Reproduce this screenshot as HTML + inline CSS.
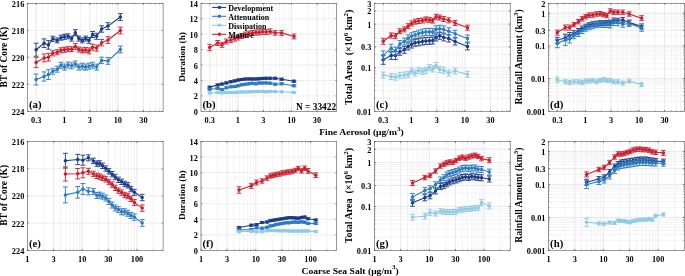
<!DOCTYPE html>
<html><head><meta charset="utf-8"><style>html,body{margin:0;padding:0;background:#fff;}svg{display:block;will-change:transform;}</style></head><body>
<svg width="685" height="276" viewBox="0 0 685 276">
<rect width="685" height="276" fill="#fff"/>
<line x1="36.20" y1="3.3" x2="36.20" y2="111.35" stroke="#ececec" stroke-width="0.6"/>
<line x1="42.90" y1="3.3" x2="42.90" y2="111.35" stroke="#ececec" stroke-width="0.6"/>
<line x1="48.09" y1="3.3" x2="48.09" y2="111.35" stroke="#ececec" stroke-width="0.6"/>
<line x1="52.34" y1="3.3" x2="52.34" y2="111.35" stroke="#ececec" stroke-width="0.6"/>
<line x1="55.92" y1="3.3" x2="55.92" y2="111.35" stroke="#ececec" stroke-width="0.6"/>
<line x1="59.03" y1="3.3" x2="59.03" y2="111.35" stroke="#ececec" stroke-width="0.6"/>
<line x1="61.77" y1="3.3" x2="61.77" y2="111.35" stroke="#ececec" stroke-width="0.6"/>
<line x1="64.23" y1="3.3" x2="64.23" y2="111.35" stroke="#ececec" stroke-width="0.6"/>
<line x1="80.36" y1="3.3" x2="80.36" y2="111.35" stroke="#ececec" stroke-width="0.6"/>
<line x1="89.80" y1="3.3" x2="89.80" y2="111.35" stroke="#ececec" stroke-width="0.6"/>
<line x1="96.50" y1="3.3" x2="96.50" y2="111.35" stroke="#ececec" stroke-width="0.6"/>
<line x1="101.69" y1="3.3" x2="101.69" y2="111.35" stroke="#ececec" stroke-width="0.6"/>
<line x1="105.94" y1="3.3" x2="105.94" y2="111.35" stroke="#ececec" stroke-width="0.6"/>
<line x1="109.52" y1="3.3" x2="109.52" y2="111.35" stroke="#ececec" stroke-width="0.6"/>
<line x1="112.63" y1="3.3" x2="112.63" y2="111.35" stroke="#ececec" stroke-width="0.6"/>
<line x1="115.37" y1="3.3" x2="115.37" y2="111.35" stroke="#ececec" stroke-width="0.6"/>
<line x1="117.83" y1="3.3" x2="117.83" y2="111.35" stroke="#ececec" stroke-width="0.6"/>
<line x1="133.96" y1="3.3" x2="133.96" y2="111.35" stroke="#ececec" stroke-width="0.6"/>
<line x1="143.40" y1="3.3" x2="143.40" y2="111.35" stroke="#ececec" stroke-width="0.6"/>
<line x1="150.10" y1="3.3" x2="150.10" y2="111.35" stroke="#ececec" stroke-width="0.6"/>
<line x1="155.29" y1="3.3" x2="155.29" y2="111.35" stroke="#ececec" stroke-width="0.6"/>
<line x1="159.54" y1="3.3" x2="159.54" y2="111.35" stroke="#ececec" stroke-width="0.6"/>
<line x1="36.20" y1="3.3" x2="36.20" y2="111.35" stroke="#e3e3e3" stroke-width="0.6"/>
<line x1="64.23" y1="3.3" x2="64.23" y2="111.35" stroke="#e3e3e3" stroke-width="0.6"/>
<line x1="89.80" y1="3.3" x2="89.80" y2="111.35" stroke="#e3e3e3" stroke-width="0.6"/>
<line x1="117.83" y1="3.3" x2="117.83" y2="111.35" stroke="#e3e3e3" stroke-width="0.6"/>
<line x1="143.40" y1="3.3" x2="143.40" y2="111.35" stroke="#e3e3e3" stroke-width="0.6"/>
<line x1="27.4" y1="30.31" x2="163.1" y2="30.31" stroke="#e3e3e3" stroke-width="0.6"/>
<line x1="27.4" y1="57.32" x2="163.1" y2="57.32" stroke="#e3e3e3" stroke-width="0.6"/>
<line x1="27.4" y1="84.34" x2="163.1" y2="84.34" stroke="#e3e3e3" stroke-width="0.6"/>
<rect x="27.4" y="3.3" width="135.70" height="108.05" fill="none" stroke="#4a4a4a" stroke-width="0.55"/>
<line x1="36.20" y1="111.35" x2="36.20" y2="110.44999999999999" stroke="#4a4a4a" stroke-width="0.5"/>
<line x1="36.20" y1="3.3" x2="36.20" y2="4.2" stroke="#4a4a4a" stroke-width="0.5"/>
<line x1="42.90" y1="111.35" x2="42.90" y2="110.44999999999999" stroke="#4a4a4a" stroke-width="0.5"/>
<line x1="42.90" y1="3.3" x2="42.90" y2="4.2" stroke="#4a4a4a" stroke-width="0.5"/>
<line x1="48.09" y1="111.35" x2="48.09" y2="110.44999999999999" stroke="#4a4a4a" stroke-width="0.5"/>
<line x1="48.09" y1="3.3" x2="48.09" y2="4.2" stroke="#4a4a4a" stroke-width="0.5"/>
<line x1="52.34" y1="111.35" x2="52.34" y2="110.44999999999999" stroke="#4a4a4a" stroke-width="0.5"/>
<line x1="52.34" y1="3.3" x2="52.34" y2="4.2" stroke="#4a4a4a" stroke-width="0.5"/>
<line x1="55.92" y1="111.35" x2="55.92" y2="110.44999999999999" stroke="#4a4a4a" stroke-width="0.5"/>
<line x1="55.92" y1="3.3" x2="55.92" y2="4.2" stroke="#4a4a4a" stroke-width="0.5"/>
<line x1="59.03" y1="111.35" x2="59.03" y2="110.44999999999999" stroke="#4a4a4a" stroke-width="0.5"/>
<line x1="59.03" y1="3.3" x2="59.03" y2="4.2" stroke="#4a4a4a" stroke-width="0.5"/>
<line x1="61.77" y1="111.35" x2="61.77" y2="110.44999999999999" stroke="#4a4a4a" stroke-width="0.5"/>
<line x1="61.77" y1="3.3" x2="61.77" y2="4.2" stroke="#4a4a4a" stroke-width="0.5"/>
<line x1="64.23" y1="111.35" x2="64.23" y2="110.44999999999999" stroke="#4a4a4a" stroke-width="0.5"/>
<line x1="64.23" y1="3.3" x2="64.23" y2="4.2" stroke="#4a4a4a" stroke-width="0.5"/>
<line x1="80.36" y1="111.35" x2="80.36" y2="110.44999999999999" stroke="#4a4a4a" stroke-width="0.5"/>
<line x1="80.36" y1="3.3" x2="80.36" y2="4.2" stroke="#4a4a4a" stroke-width="0.5"/>
<line x1="89.80" y1="111.35" x2="89.80" y2="110.44999999999999" stroke="#4a4a4a" stroke-width="0.5"/>
<line x1="89.80" y1="3.3" x2="89.80" y2="4.2" stroke="#4a4a4a" stroke-width="0.5"/>
<line x1="96.50" y1="111.35" x2="96.50" y2="110.44999999999999" stroke="#4a4a4a" stroke-width="0.5"/>
<line x1="96.50" y1="3.3" x2="96.50" y2="4.2" stroke="#4a4a4a" stroke-width="0.5"/>
<line x1="101.69" y1="111.35" x2="101.69" y2="110.44999999999999" stroke="#4a4a4a" stroke-width="0.5"/>
<line x1="101.69" y1="3.3" x2="101.69" y2="4.2" stroke="#4a4a4a" stroke-width="0.5"/>
<line x1="105.94" y1="111.35" x2="105.94" y2="110.44999999999999" stroke="#4a4a4a" stroke-width="0.5"/>
<line x1="105.94" y1="3.3" x2="105.94" y2="4.2" stroke="#4a4a4a" stroke-width="0.5"/>
<line x1="109.52" y1="111.35" x2="109.52" y2="110.44999999999999" stroke="#4a4a4a" stroke-width="0.5"/>
<line x1="109.52" y1="3.3" x2="109.52" y2="4.2" stroke="#4a4a4a" stroke-width="0.5"/>
<line x1="112.63" y1="111.35" x2="112.63" y2="110.44999999999999" stroke="#4a4a4a" stroke-width="0.5"/>
<line x1="112.63" y1="3.3" x2="112.63" y2="4.2" stroke="#4a4a4a" stroke-width="0.5"/>
<line x1="115.37" y1="111.35" x2="115.37" y2="110.44999999999999" stroke="#4a4a4a" stroke-width="0.5"/>
<line x1="115.37" y1="3.3" x2="115.37" y2="4.2" stroke="#4a4a4a" stroke-width="0.5"/>
<line x1="117.83" y1="111.35" x2="117.83" y2="110.44999999999999" stroke="#4a4a4a" stroke-width="0.5"/>
<line x1="117.83" y1="3.3" x2="117.83" y2="4.2" stroke="#4a4a4a" stroke-width="0.5"/>
<line x1="133.96" y1="111.35" x2="133.96" y2="110.44999999999999" stroke="#4a4a4a" stroke-width="0.5"/>
<line x1="133.96" y1="3.3" x2="133.96" y2="4.2" stroke="#4a4a4a" stroke-width="0.5"/>
<line x1="143.40" y1="111.35" x2="143.40" y2="110.44999999999999" stroke="#4a4a4a" stroke-width="0.5"/>
<line x1="143.40" y1="3.3" x2="143.40" y2="4.2" stroke="#4a4a4a" stroke-width="0.5"/>
<line x1="150.10" y1="111.35" x2="150.10" y2="110.44999999999999" stroke="#4a4a4a" stroke-width="0.5"/>
<line x1="150.10" y1="3.3" x2="150.10" y2="4.2" stroke="#4a4a4a" stroke-width="0.5"/>
<line x1="155.29" y1="111.35" x2="155.29" y2="110.44999999999999" stroke="#4a4a4a" stroke-width="0.5"/>
<line x1="155.29" y1="3.3" x2="155.29" y2="4.2" stroke="#4a4a4a" stroke-width="0.5"/>
<line x1="159.54" y1="111.35" x2="159.54" y2="110.44999999999999" stroke="#4a4a4a" stroke-width="0.5"/>
<line x1="159.54" y1="3.3" x2="159.54" y2="4.2" stroke="#4a4a4a" stroke-width="0.5"/>
<line x1="36.20" y1="111.35" x2="36.20" y2="109.94999999999999" stroke="#4a4a4a" stroke-width="0.6"/>
<line x1="36.20" y1="3.3" x2="36.20" y2="4.699999999999999" stroke="#4a4a4a" stroke-width="0.6"/>
<line x1="64.23" y1="111.35" x2="64.23" y2="109.94999999999999" stroke="#4a4a4a" stroke-width="0.6"/>
<line x1="64.23" y1="3.3" x2="64.23" y2="4.699999999999999" stroke="#4a4a4a" stroke-width="0.6"/>
<line x1="89.80" y1="111.35" x2="89.80" y2="109.94999999999999" stroke="#4a4a4a" stroke-width="0.6"/>
<line x1="89.80" y1="3.3" x2="89.80" y2="4.699999999999999" stroke="#4a4a4a" stroke-width="0.6"/>
<line x1="117.83" y1="111.35" x2="117.83" y2="109.94999999999999" stroke="#4a4a4a" stroke-width="0.6"/>
<line x1="117.83" y1="3.3" x2="117.83" y2="4.699999999999999" stroke="#4a4a4a" stroke-width="0.6"/>
<line x1="143.40" y1="111.35" x2="143.40" y2="109.94999999999999" stroke="#4a4a4a" stroke-width="0.6"/>
<line x1="143.40" y1="3.3" x2="143.40" y2="4.699999999999999" stroke="#4a4a4a" stroke-width="0.6"/>
<line x1="27.4" y1="3.30" x2="28.799999999999997" y2="3.30" stroke="#4a4a4a" stroke-width="0.6"/>
<line x1="163.1" y1="3.30" x2="161.7" y2="3.30" stroke="#4a4a4a" stroke-width="0.6"/>
<line x1="27.4" y1="30.31" x2="28.799999999999997" y2="30.31" stroke="#4a4a4a" stroke-width="0.6"/>
<line x1="163.1" y1="30.31" x2="161.7" y2="30.31" stroke="#4a4a4a" stroke-width="0.6"/>
<line x1="27.4" y1="57.32" x2="28.799999999999997" y2="57.32" stroke="#4a4a4a" stroke-width="0.6"/>
<line x1="163.1" y1="57.32" x2="161.7" y2="57.32" stroke="#4a4a4a" stroke-width="0.6"/>
<line x1="27.4" y1="84.34" x2="28.799999999999997" y2="84.34" stroke="#4a4a4a" stroke-width="0.6"/>
<line x1="163.1" y1="84.34" x2="161.7" y2="84.34" stroke="#4a4a4a" stroke-width="0.6"/>
<line x1="27.4" y1="111.35" x2="28.799999999999997" y2="111.35" stroke="#4a4a4a" stroke-width="0.6"/>
<line x1="163.1" y1="111.35" x2="161.7" y2="111.35" stroke="#4a4a4a" stroke-width="0.6"/>
<text x="36.20" y="122.75" font-size="8.3" text-anchor="middle" font-family="Liberation Serif" font-weight="bold">0.3</text>
<text x="64.23" y="122.75" font-size="8.3" text-anchor="middle" font-family="Liberation Serif" font-weight="bold">1</text>
<text x="89.80" y="122.75" font-size="8.3" text-anchor="middle" font-family="Liberation Serif" font-weight="bold">3</text>
<text x="117.83" y="122.75" font-size="8.3" text-anchor="middle" font-family="Liberation Serif" font-weight="bold">10</text>
<text x="143.40" y="122.75" font-size="8.3" text-anchor="middle" font-family="Liberation Serif" font-weight="bold">30</text>
<text x="24.30" y="6.80" font-size="8.3" text-anchor="end" font-family="Liberation Serif" font-weight="bold">216</text>
<text x="24.30" y="33.81" font-size="8.3" text-anchor="end" font-family="Liberation Serif" font-weight="bold">218</text>
<text x="24.30" y="60.82" font-size="8.3" text-anchor="end" font-family="Liberation Serif" font-weight="bold">220</text>
<text x="24.30" y="87.84" font-size="8.3" text-anchor="end" font-family="Liberation Serif" font-weight="bold">222</text>
<text x="24.30" y="114.85" font-size="8.3" text-anchor="end" font-family="Liberation Serif" font-weight="bold">224</text>
<text x="28.90" y="107.95" font-size="10.8" font-family="Liberation Serif" font-weight="bold">(a)</text>
<line x1="209.80" y1="3.3" x2="209.80" y2="111.35" stroke="#ececec" stroke-width="0.6"/>
<line x1="216.50" y1="3.3" x2="216.50" y2="111.35" stroke="#ececec" stroke-width="0.6"/>
<line x1="221.69" y1="3.3" x2="221.69" y2="111.35" stroke="#ececec" stroke-width="0.6"/>
<line x1="225.94" y1="3.3" x2="225.94" y2="111.35" stroke="#ececec" stroke-width="0.6"/>
<line x1="229.52" y1="3.3" x2="229.52" y2="111.35" stroke="#ececec" stroke-width="0.6"/>
<line x1="232.63" y1="3.3" x2="232.63" y2="111.35" stroke="#ececec" stroke-width="0.6"/>
<line x1="235.37" y1="3.3" x2="235.37" y2="111.35" stroke="#ececec" stroke-width="0.6"/>
<line x1="237.83" y1="3.3" x2="237.83" y2="111.35" stroke="#ececec" stroke-width="0.6"/>
<line x1="253.96" y1="3.3" x2="253.96" y2="111.35" stroke="#ececec" stroke-width="0.6"/>
<line x1="263.40" y1="3.3" x2="263.40" y2="111.35" stroke="#ececec" stroke-width="0.6"/>
<line x1="270.10" y1="3.3" x2="270.10" y2="111.35" stroke="#ececec" stroke-width="0.6"/>
<line x1="275.29" y1="3.3" x2="275.29" y2="111.35" stroke="#ececec" stroke-width="0.6"/>
<line x1="279.54" y1="3.3" x2="279.54" y2="111.35" stroke="#ececec" stroke-width="0.6"/>
<line x1="283.12" y1="3.3" x2="283.12" y2="111.35" stroke="#ececec" stroke-width="0.6"/>
<line x1="286.23" y1="3.3" x2="286.23" y2="111.35" stroke="#ececec" stroke-width="0.6"/>
<line x1="288.97" y1="3.3" x2="288.97" y2="111.35" stroke="#ececec" stroke-width="0.6"/>
<line x1="291.43" y1="3.3" x2="291.43" y2="111.35" stroke="#ececec" stroke-width="0.6"/>
<line x1="307.56" y1="3.3" x2="307.56" y2="111.35" stroke="#ececec" stroke-width="0.6"/>
<line x1="317.00" y1="3.3" x2="317.00" y2="111.35" stroke="#ececec" stroke-width="0.6"/>
<line x1="323.70" y1="3.3" x2="323.70" y2="111.35" stroke="#ececec" stroke-width="0.6"/>
<line x1="328.89" y1="3.3" x2="328.89" y2="111.35" stroke="#ececec" stroke-width="0.6"/>
<line x1="333.14" y1="3.3" x2="333.14" y2="111.35" stroke="#ececec" stroke-width="0.6"/>
<line x1="209.80" y1="3.3" x2="209.80" y2="111.35" stroke="#e3e3e3" stroke-width="0.6"/>
<line x1="237.83" y1="3.3" x2="237.83" y2="111.35" stroke="#e3e3e3" stroke-width="0.6"/>
<line x1="263.40" y1="3.3" x2="263.40" y2="111.35" stroke="#e3e3e3" stroke-width="0.6"/>
<line x1="291.43" y1="3.3" x2="291.43" y2="111.35" stroke="#e3e3e3" stroke-width="0.6"/>
<line x1="317.00" y1="3.3" x2="317.00" y2="111.35" stroke="#e3e3e3" stroke-width="0.6"/>
<line x1="201.0" y1="95.91" x2="336.7" y2="95.91" stroke="#e3e3e3" stroke-width="0.6"/>
<line x1="201.0" y1="80.48" x2="336.7" y2="80.48" stroke="#e3e3e3" stroke-width="0.6"/>
<line x1="201.0" y1="65.04" x2="336.7" y2="65.04" stroke="#e3e3e3" stroke-width="0.6"/>
<line x1="201.0" y1="49.61" x2="336.7" y2="49.61" stroke="#e3e3e3" stroke-width="0.6"/>
<line x1="201.0" y1="34.17" x2="336.7" y2="34.17" stroke="#e3e3e3" stroke-width="0.6"/>
<line x1="201.0" y1="18.74" x2="336.7" y2="18.74" stroke="#e3e3e3" stroke-width="0.6"/>
<rect x="201.0" y="3.3" width="135.70" height="108.05" fill="none" stroke="#4a4a4a" stroke-width="0.55"/>
<line x1="209.80" y1="111.35" x2="209.80" y2="110.44999999999999" stroke="#4a4a4a" stroke-width="0.5"/>
<line x1="209.80" y1="3.3" x2="209.80" y2="4.2" stroke="#4a4a4a" stroke-width="0.5"/>
<line x1="216.50" y1="111.35" x2="216.50" y2="110.44999999999999" stroke="#4a4a4a" stroke-width="0.5"/>
<line x1="216.50" y1="3.3" x2="216.50" y2="4.2" stroke="#4a4a4a" stroke-width="0.5"/>
<line x1="221.69" y1="111.35" x2="221.69" y2="110.44999999999999" stroke="#4a4a4a" stroke-width="0.5"/>
<line x1="221.69" y1="3.3" x2="221.69" y2="4.2" stroke="#4a4a4a" stroke-width="0.5"/>
<line x1="225.94" y1="111.35" x2="225.94" y2="110.44999999999999" stroke="#4a4a4a" stroke-width="0.5"/>
<line x1="225.94" y1="3.3" x2="225.94" y2="4.2" stroke="#4a4a4a" stroke-width="0.5"/>
<line x1="229.52" y1="111.35" x2="229.52" y2="110.44999999999999" stroke="#4a4a4a" stroke-width="0.5"/>
<line x1="229.52" y1="3.3" x2="229.52" y2="4.2" stroke="#4a4a4a" stroke-width="0.5"/>
<line x1="232.63" y1="111.35" x2="232.63" y2="110.44999999999999" stroke="#4a4a4a" stroke-width="0.5"/>
<line x1="232.63" y1="3.3" x2="232.63" y2="4.2" stroke="#4a4a4a" stroke-width="0.5"/>
<line x1="235.37" y1="111.35" x2="235.37" y2="110.44999999999999" stroke="#4a4a4a" stroke-width="0.5"/>
<line x1="235.37" y1="3.3" x2="235.37" y2="4.2" stroke="#4a4a4a" stroke-width="0.5"/>
<line x1="237.83" y1="111.35" x2="237.83" y2="110.44999999999999" stroke="#4a4a4a" stroke-width="0.5"/>
<line x1="237.83" y1="3.3" x2="237.83" y2="4.2" stroke="#4a4a4a" stroke-width="0.5"/>
<line x1="253.96" y1="111.35" x2="253.96" y2="110.44999999999999" stroke="#4a4a4a" stroke-width="0.5"/>
<line x1="253.96" y1="3.3" x2="253.96" y2="4.2" stroke="#4a4a4a" stroke-width="0.5"/>
<line x1="263.40" y1="111.35" x2="263.40" y2="110.44999999999999" stroke="#4a4a4a" stroke-width="0.5"/>
<line x1="263.40" y1="3.3" x2="263.40" y2="4.2" stroke="#4a4a4a" stroke-width="0.5"/>
<line x1="270.10" y1="111.35" x2="270.10" y2="110.44999999999999" stroke="#4a4a4a" stroke-width="0.5"/>
<line x1="270.10" y1="3.3" x2="270.10" y2="4.2" stroke="#4a4a4a" stroke-width="0.5"/>
<line x1="275.29" y1="111.35" x2="275.29" y2="110.44999999999999" stroke="#4a4a4a" stroke-width="0.5"/>
<line x1="275.29" y1="3.3" x2="275.29" y2="4.2" stroke="#4a4a4a" stroke-width="0.5"/>
<line x1="279.54" y1="111.35" x2="279.54" y2="110.44999999999999" stroke="#4a4a4a" stroke-width="0.5"/>
<line x1="279.54" y1="3.3" x2="279.54" y2="4.2" stroke="#4a4a4a" stroke-width="0.5"/>
<line x1="283.12" y1="111.35" x2="283.12" y2="110.44999999999999" stroke="#4a4a4a" stroke-width="0.5"/>
<line x1="283.12" y1="3.3" x2="283.12" y2="4.2" stroke="#4a4a4a" stroke-width="0.5"/>
<line x1="286.23" y1="111.35" x2="286.23" y2="110.44999999999999" stroke="#4a4a4a" stroke-width="0.5"/>
<line x1="286.23" y1="3.3" x2="286.23" y2="4.2" stroke="#4a4a4a" stroke-width="0.5"/>
<line x1="288.97" y1="111.35" x2="288.97" y2="110.44999999999999" stroke="#4a4a4a" stroke-width="0.5"/>
<line x1="288.97" y1="3.3" x2="288.97" y2="4.2" stroke="#4a4a4a" stroke-width="0.5"/>
<line x1="291.43" y1="111.35" x2="291.43" y2="110.44999999999999" stroke="#4a4a4a" stroke-width="0.5"/>
<line x1="291.43" y1="3.3" x2="291.43" y2="4.2" stroke="#4a4a4a" stroke-width="0.5"/>
<line x1="307.56" y1="111.35" x2="307.56" y2="110.44999999999999" stroke="#4a4a4a" stroke-width="0.5"/>
<line x1="307.56" y1="3.3" x2="307.56" y2="4.2" stroke="#4a4a4a" stroke-width="0.5"/>
<line x1="317.00" y1="111.35" x2="317.00" y2="110.44999999999999" stroke="#4a4a4a" stroke-width="0.5"/>
<line x1="317.00" y1="3.3" x2="317.00" y2="4.2" stroke="#4a4a4a" stroke-width="0.5"/>
<line x1="323.70" y1="111.35" x2="323.70" y2="110.44999999999999" stroke="#4a4a4a" stroke-width="0.5"/>
<line x1="323.70" y1="3.3" x2="323.70" y2="4.2" stroke="#4a4a4a" stroke-width="0.5"/>
<line x1="328.89" y1="111.35" x2="328.89" y2="110.44999999999999" stroke="#4a4a4a" stroke-width="0.5"/>
<line x1="328.89" y1="3.3" x2="328.89" y2="4.2" stroke="#4a4a4a" stroke-width="0.5"/>
<line x1="333.14" y1="111.35" x2="333.14" y2="110.44999999999999" stroke="#4a4a4a" stroke-width="0.5"/>
<line x1="333.14" y1="3.3" x2="333.14" y2="4.2" stroke="#4a4a4a" stroke-width="0.5"/>
<line x1="209.80" y1="111.35" x2="209.80" y2="109.94999999999999" stroke="#4a4a4a" stroke-width="0.6"/>
<line x1="209.80" y1="3.3" x2="209.80" y2="4.699999999999999" stroke="#4a4a4a" stroke-width="0.6"/>
<line x1="237.83" y1="111.35" x2="237.83" y2="109.94999999999999" stroke="#4a4a4a" stroke-width="0.6"/>
<line x1="237.83" y1="3.3" x2="237.83" y2="4.699999999999999" stroke="#4a4a4a" stroke-width="0.6"/>
<line x1="263.40" y1="111.35" x2="263.40" y2="109.94999999999999" stroke="#4a4a4a" stroke-width="0.6"/>
<line x1="263.40" y1="3.3" x2="263.40" y2="4.699999999999999" stroke="#4a4a4a" stroke-width="0.6"/>
<line x1="291.43" y1="111.35" x2="291.43" y2="109.94999999999999" stroke="#4a4a4a" stroke-width="0.6"/>
<line x1="291.43" y1="3.3" x2="291.43" y2="4.699999999999999" stroke="#4a4a4a" stroke-width="0.6"/>
<line x1="317.00" y1="111.35" x2="317.00" y2="109.94999999999999" stroke="#4a4a4a" stroke-width="0.6"/>
<line x1="317.00" y1="3.3" x2="317.00" y2="4.699999999999999" stroke="#4a4a4a" stroke-width="0.6"/>
<line x1="201.0" y1="111.35" x2="202.4" y2="111.35" stroke="#4a4a4a" stroke-width="0.6"/>
<line x1="336.7" y1="111.35" x2="335.3" y2="111.35" stroke="#4a4a4a" stroke-width="0.6"/>
<line x1="201.0" y1="95.91" x2="202.4" y2="95.91" stroke="#4a4a4a" stroke-width="0.6"/>
<line x1="336.7" y1="95.91" x2="335.3" y2="95.91" stroke="#4a4a4a" stroke-width="0.6"/>
<line x1="201.0" y1="80.48" x2="202.4" y2="80.48" stroke="#4a4a4a" stroke-width="0.6"/>
<line x1="336.7" y1="80.48" x2="335.3" y2="80.48" stroke="#4a4a4a" stroke-width="0.6"/>
<line x1="201.0" y1="65.04" x2="202.4" y2="65.04" stroke="#4a4a4a" stroke-width="0.6"/>
<line x1="336.7" y1="65.04" x2="335.3" y2="65.04" stroke="#4a4a4a" stroke-width="0.6"/>
<line x1="201.0" y1="49.61" x2="202.4" y2="49.61" stroke="#4a4a4a" stroke-width="0.6"/>
<line x1="336.7" y1="49.61" x2="335.3" y2="49.61" stroke="#4a4a4a" stroke-width="0.6"/>
<line x1="201.0" y1="34.17" x2="202.4" y2="34.17" stroke="#4a4a4a" stroke-width="0.6"/>
<line x1="336.7" y1="34.17" x2="335.3" y2="34.17" stroke="#4a4a4a" stroke-width="0.6"/>
<line x1="201.0" y1="18.74" x2="202.4" y2="18.74" stroke="#4a4a4a" stroke-width="0.6"/>
<line x1="336.7" y1="18.74" x2="335.3" y2="18.74" stroke="#4a4a4a" stroke-width="0.6"/>
<line x1="201.0" y1="3.30" x2="202.4" y2="3.30" stroke="#4a4a4a" stroke-width="0.6"/>
<line x1="336.7" y1="3.30" x2="335.3" y2="3.30" stroke="#4a4a4a" stroke-width="0.6"/>
<text x="209.80" y="122.75" font-size="8.3" text-anchor="middle" font-family="Liberation Serif" font-weight="bold">0.3</text>
<text x="237.83" y="122.75" font-size="8.3" text-anchor="middle" font-family="Liberation Serif" font-weight="bold">1</text>
<text x="263.40" y="122.75" font-size="8.3" text-anchor="middle" font-family="Liberation Serif" font-weight="bold">3</text>
<text x="291.43" y="122.75" font-size="8.3" text-anchor="middle" font-family="Liberation Serif" font-weight="bold">10</text>
<text x="317.00" y="122.75" font-size="8.3" text-anchor="middle" font-family="Liberation Serif" font-weight="bold">30</text>
<text x="197.90" y="114.85" font-size="8.3" text-anchor="end" font-family="Liberation Serif" font-weight="bold">0</text>
<text x="197.90" y="99.41" font-size="8.3" text-anchor="end" font-family="Liberation Serif" font-weight="bold">2</text>
<text x="197.90" y="83.98" font-size="8.3" text-anchor="end" font-family="Liberation Serif" font-weight="bold">4</text>
<text x="197.90" y="68.54" font-size="8.3" text-anchor="end" font-family="Liberation Serif" font-weight="bold">6</text>
<text x="197.90" y="53.11" font-size="8.3" text-anchor="end" font-family="Liberation Serif" font-weight="bold">8</text>
<text x="197.90" y="37.67" font-size="8.3" text-anchor="end" font-family="Liberation Serif" font-weight="bold">10</text>
<text x="197.90" y="22.24" font-size="8.3" text-anchor="end" font-family="Liberation Serif" font-weight="bold">12</text>
<text x="197.90" y="6.80" font-size="8.3" text-anchor="end" font-family="Liberation Serif" font-weight="bold">14</text>
<text x="202.50" y="107.95" font-size="10.8" font-family="Liberation Serif" font-weight="bold">(b)</text>
<line x1="383.30" y1="3.3" x2="383.30" y2="111.35" stroke="#ececec" stroke-width="0.6"/>
<line x1="390.00" y1="3.3" x2="390.00" y2="111.35" stroke="#ececec" stroke-width="0.6"/>
<line x1="395.19" y1="3.3" x2="395.19" y2="111.35" stroke="#ececec" stroke-width="0.6"/>
<line x1="399.44" y1="3.3" x2="399.44" y2="111.35" stroke="#ececec" stroke-width="0.6"/>
<line x1="403.02" y1="3.3" x2="403.02" y2="111.35" stroke="#ececec" stroke-width="0.6"/>
<line x1="406.13" y1="3.3" x2="406.13" y2="111.35" stroke="#ececec" stroke-width="0.6"/>
<line x1="408.87" y1="3.3" x2="408.87" y2="111.35" stroke="#ececec" stroke-width="0.6"/>
<line x1="411.33" y1="3.3" x2="411.33" y2="111.35" stroke="#ececec" stroke-width="0.6"/>
<line x1="427.46" y1="3.3" x2="427.46" y2="111.35" stroke="#ececec" stroke-width="0.6"/>
<line x1="436.90" y1="3.3" x2="436.90" y2="111.35" stroke="#ececec" stroke-width="0.6"/>
<line x1="443.60" y1="3.3" x2="443.60" y2="111.35" stroke="#ececec" stroke-width="0.6"/>
<line x1="448.79" y1="3.3" x2="448.79" y2="111.35" stroke="#ececec" stroke-width="0.6"/>
<line x1="453.04" y1="3.3" x2="453.04" y2="111.35" stroke="#ececec" stroke-width="0.6"/>
<line x1="456.62" y1="3.3" x2="456.62" y2="111.35" stroke="#ececec" stroke-width="0.6"/>
<line x1="459.73" y1="3.3" x2="459.73" y2="111.35" stroke="#ececec" stroke-width="0.6"/>
<line x1="462.47" y1="3.3" x2="462.47" y2="111.35" stroke="#ececec" stroke-width="0.6"/>
<line x1="464.93" y1="3.3" x2="464.93" y2="111.35" stroke="#ececec" stroke-width="0.6"/>
<line x1="481.06" y1="3.3" x2="481.06" y2="111.35" stroke="#ececec" stroke-width="0.6"/>
<line x1="490.50" y1="3.3" x2="490.50" y2="111.35" stroke="#ececec" stroke-width="0.6"/>
<line x1="497.20" y1="3.3" x2="497.20" y2="111.35" stroke="#ececec" stroke-width="0.6"/>
<line x1="502.39" y1="3.3" x2="502.39" y2="111.35" stroke="#ececec" stroke-width="0.6"/>
<line x1="506.64" y1="3.3" x2="506.64" y2="111.35" stroke="#ececec" stroke-width="0.6"/>
<line x1="383.30" y1="3.3" x2="383.30" y2="111.35" stroke="#e3e3e3" stroke-width="0.6"/>
<line x1="411.33" y1="3.3" x2="411.33" y2="111.35" stroke="#e3e3e3" stroke-width="0.6"/>
<line x1="436.90" y1="3.3" x2="436.90" y2="111.35" stroke="#e3e3e3" stroke-width="0.6"/>
<line x1="464.93" y1="3.3" x2="464.93" y2="111.35" stroke="#e3e3e3" stroke-width="0.6"/>
<line x1="490.50" y1="3.3" x2="490.50" y2="111.35" stroke="#e3e3e3" stroke-width="0.6"/>
<line x1="374.5" y1="98.22" x2="510.2" y2="98.22" stroke="#ececec" stroke-width="0.6"/>
<line x1="374.5" y1="90.54" x2="510.2" y2="90.54" stroke="#ececec" stroke-width="0.6"/>
<line x1="374.5" y1="85.09" x2="510.2" y2="85.09" stroke="#ececec" stroke-width="0.6"/>
<line x1="374.5" y1="80.86" x2="510.2" y2="80.86" stroke="#ececec" stroke-width="0.6"/>
<line x1="374.5" y1="77.41" x2="510.2" y2="77.41" stroke="#ececec" stroke-width="0.6"/>
<line x1="374.5" y1="74.49" x2="510.2" y2="74.49" stroke="#ececec" stroke-width="0.6"/>
<line x1="374.5" y1="71.96" x2="510.2" y2="71.96" stroke="#ececec" stroke-width="0.6"/>
<line x1="374.5" y1="69.73" x2="510.2" y2="69.73" stroke="#ececec" stroke-width="0.6"/>
<line x1="374.5" y1="67.73" x2="510.2" y2="67.73" stroke="#ececec" stroke-width="0.6"/>
<line x1="374.5" y1="54.60" x2="510.2" y2="54.60" stroke="#ececec" stroke-width="0.6"/>
<line x1="374.5" y1="46.92" x2="510.2" y2="46.92" stroke="#ececec" stroke-width="0.6"/>
<line x1="374.5" y1="41.47" x2="510.2" y2="41.47" stroke="#ececec" stroke-width="0.6"/>
<line x1="374.5" y1="37.24" x2="510.2" y2="37.24" stroke="#ececec" stroke-width="0.6"/>
<line x1="374.5" y1="33.79" x2="510.2" y2="33.79" stroke="#ececec" stroke-width="0.6"/>
<line x1="374.5" y1="30.87" x2="510.2" y2="30.87" stroke="#ececec" stroke-width="0.6"/>
<line x1="374.5" y1="28.34" x2="510.2" y2="28.34" stroke="#ececec" stroke-width="0.6"/>
<line x1="374.5" y1="26.11" x2="510.2" y2="26.11" stroke="#ececec" stroke-width="0.6"/>
<line x1="374.5" y1="24.11" x2="510.2" y2="24.11" stroke="#ececec" stroke-width="0.6"/>
<line x1="374.5" y1="10.98" x2="510.2" y2="10.98" stroke="#ececec" stroke-width="0.6"/>
<line x1="374.5" y1="67.73" x2="510.2" y2="67.73" stroke="#e3e3e3" stroke-width="0.6"/>
<line x1="374.5" y1="46.92" x2="510.2" y2="46.92" stroke="#e3e3e3" stroke-width="0.6"/>
<line x1="374.5" y1="24.11" x2="510.2" y2="24.11" stroke="#e3e3e3" stroke-width="0.6"/>
<line x1="374.5" y1="10.98" x2="510.2" y2="10.98" stroke="#e3e3e3" stroke-width="0.6"/>
<rect x="374.5" y="3.3" width="135.70" height="108.05" fill="none" stroke="#4a4a4a" stroke-width="0.55"/>
<line x1="383.30" y1="111.35" x2="383.30" y2="110.44999999999999" stroke="#4a4a4a" stroke-width="0.5"/>
<line x1="383.30" y1="3.3" x2="383.30" y2="4.2" stroke="#4a4a4a" stroke-width="0.5"/>
<line x1="390.00" y1="111.35" x2="390.00" y2="110.44999999999999" stroke="#4a4a4a" stroke-width="0.5"/>
<line x1="390.00" y1="3.3" x2="390.00" y2="4.2" stroke="#4a4a4a" stroke-width="0.5"/>
<line x1="395.19" y1="111.35" x2="395.19" y2="110.44999999999999" stroke="#4a4a4a" stroke-width="0.5"/>
<line x1="395.19" y1="3.3" x2="395.19" y2="4.2" stroke="#4a4a4a" stroke-width="0.5"/>
<line x1="399.44" y1="111.35" x2="399.44" y2="110.44999999999999" stroke="#4a4a4a" stroke-width="0.5"/>
<line x1="399.44" y1="3.3" x2="399.44" y2="4.2" stroke="#4a4a4a" stroke-width="0.5"/>
<line x1="403.02" y1="111.35" x2="403.02" y2="110.44999999999999" stroke="#4a4a4a" stroke-width="0.5"/>
<line x1="403.02" y1="3.3" x2="403.02" y2="4.2" stroke="#4a4a4a" stroke-width="0.5"/>
<line x1="406.13" y1="111.35" x2="406.13" y2="110.44999999999999" stroke="#4a4a4a" stroke-width="0.5"/>
<line x1="406.13" y1="3.3" x2="406.13" y2="4.2" stroke="#4a4a4a" stroke-width="0.5"/>
<line x1="408.87" y1="111.35" x2="408.87" y2="110.44999999999999" stroke="#4a4a4a" stroke-width="0.5"/>
<line x1="408.87" y1="3.3" x2="408.87" y2="4.2" stroke="#4a4a4a" stroke-width="0.5"/>
<line x1="411.33" y1="111.35" x2="411.33" y2="110.44999999999999" stroke="#4a4a4a" stroke-width="0.5"/>
<line x1="411.33" y1="3.3" x2="411.33" y2="4.2" stroke="#4a4a4a" stroke-width="0.5"/>
<line x1="427.46" y1="111.35" x2="427.46" y2="110.44999999999999" stroke="#4a4a4a" stroke-width="0.5"/>
<line x1="427.46" y1="3.3" x2="427.46" y2="4.2" stroke="#4a4a4a" stroke-width="0.5"/>
<line x1="436.90" y1="111.35" x2="436.90" y2="110.44999999999999" stroke="#4a4a4a" stroke-width="0.5"/>
<line x1="436.90" y1="3.3" x2="436.90" y2="4.2" stroke="#4a4a4a" stroke-width="0.5"/>
<line x1="443.60" y1="111.35" x2="443.60" y2="110.44999999999999" stroke="#4a4a4a" stroke-width="0.5"/>
<line x1="443.60" y1="3.3" x2="443.60" y2="4.2" stroke="#4a4a4a" stroke-width="0.5"/>
<line x1="448.79" y1="111.35" x2="448.79" y2="110.44999999999999" stroke="#4a4a4a" stroke-width="0.5"/>
<line x1="448.79" y1="3.3" x2="448.79" y2="4.2" stroke="#4a4a4a" stroke-width="0.5"/>
<line x1="453.04" y1="111.35" x2="453.04" y2="110.44999999999999" stroke="#4a4a4a" stroke-width="0.5"/>
<line x1="453.04" y1="3.3" x2="453.04" y2="4.2" stroke="#4a4a4a" stroke-width="0.5"/>
<line x1="456.62" y1="111.35" x2="456.62" y2="110.44999999999999" stroke="#4a4a4a" stroke-width="0.5"/>
<line x1="456.62" y1="3.3" x2="456.62" y2="4.2" stroke="#4a4a4a" stroke-width="0.5"/>
<line x1="459.73" y1="111.35" x2="459.73" y2="110.44999999999999" stroke="#4a4a4a" stroke-width="0.5"/>
<line x1="459.73" y1="3.3" x2="459.73" y2="4.2" stroke="#4a4a4a" stroke-width="0.5"/>
<line x1="462.47" y1="111.35" x2="462.47" y2="110.44999999999999" stroke="#4a4a4a" stroke-width="0.5"/>
<line x1="462.47" y1="3.3" x2="462.47" y2="4.2" stroke="#4a4a4a" stroke-width="0.5"/>
<line x1="464.93" y1="111.35" x2="464.93" y2="110.44999999999999" stroke="#4a4a4a" stroke-width="0.5"/>
<line x1="464.93" y1="3.3" x2="464.93" y2="4.2" stroke="#4a4a4a" stroke-width="0.5"/>
<line x1="481.06" y1="111.35" x2="481.06" y2="110.44999999999999" stroke="#4a4a4a" stroke-width="0.5"/>
<line x1="481.06" y1="3.3" x2="481.06" y2="4.2" stroke="#4a4a4a" stroke-width="0.5"/>
<line x1="490.50" y1="111.35" x2="490.50" y2="110.44999999999999" stroke="#4a4a4a" stroke-width="0.5"/>
<line x1="490.50" y1="3.3" x2="490.50" y2="4.2" stroke="#4a4a4a" stroke-width="0.5"/>
<line x1="497.20" y1="111.35" x2="497.20" y2="110.44999999999999" stroke="#4a4a4a" stroke-width="0.5"/>
<line x1="497.20" y1="3.3" x2="497.20" y2="4.2" stroke="#4a4a4a" stroke-width="0.5"/>
<line x1="502.39" y1="111.35" x2="502.39" y2="110.44999999999999" stroke="#4a4a4a" stroke-width="0.5"/>
<line x1="502.39" y1="3.3" x2="502.39" y2="4.2" stroke="#4a4a4a" stroke-width="0.5"/>
<line x1="506.64" y1="111.35" x2="506.64" y2="110.44999999999999" stroke="#4a4a4a" stroke-width="0.5"/>
<line x1="506.64" y1="3.3" x2="506.64" y2="4.2" stroke="#4a4a4a" stroke-width="0.5"/>
<line x1="374.5" y1="98.22" x2="375.4" y2="98.22" stroke="#4a4a4a" stroke-width="0.5"/>
<line x1="510.2" y1="98.22" x2="509.3" y2="98.22" stroke="#4a4a4a" stroke-width="0.5"/>
<line x1="374.5" y1="90.54" x2="375.4" y2="90.54" stroke="#4a4a4a" stroke-width="0.5"/>
<line x1="510.2" y1="90.54" x2="509.3" y2="90.54" stroke="#4a4a4a" stroke-width="0.5"/>
<line x1="374.5" y1="85.09" x2="375.4" y2="85.09" stroke="#4a4a4a" stroke-width="0.5"/>
<line x1="510.2" y1="85.09" x2="509.3" y2="85.09" stroke="#4a4a4a" stroke-width="0.5"/>
<line x1="374.5" y1="80.86" x2="375.4" y2="80.86" stroke="#4a4a4a" stroke-width="0.5"/>
<line x1="510.2" y1="80.86" x2="509.3" y2="80.86" stroke="#4a4a4a" stroke-width="0.5"/>
<line x1="374.5" y1="77.41" x2="375.4" y2="77.41" stroke="#4a4a4a" stroke-width="0.5"/>
<line x1="510.2" y1="77.41" x2="509.3" y2="77.41" stroke="#4a4a4a" stroke-width="0.5"/>
<line x1="374.5" y1="74.49" x2="375.4" y2="74.49" stroke="#4a4a4a" stroke-width="0.5"/>
<line x1="510.2" y1="74.49" x2="509.3" y2="74.49" stroke="#4a4a4a" stroke-width="0.5"/>
<line x1="374.5" y1="71.96" x2="375.4" y2="71.96" stroke="#4a4a4a" stroke-width="0.5"/>
<line x1="510.2" y1="71.96" x2="509.3" y2="71.96" stroke="#4a4a4a" stroke-width="0.5"/>
<line x1="374.5" y1="69.73" x2="375.4" y2="69.73" stroke="#4a4a4a" stroke-width="0.5"/>
<line x1="510.2" y1="69.73" x2="509.3" y2="69.73" stroke="#4a4a4a" stroke-width="0.5"/>
<line x1="374.5" y1="67.73" x2="375.4" y2="67.73" stroke="#4a4a4a" stroke-width="0.5"/>
<line x1="510.2" y1="67.73" x2="509.3" y2="67.73" stroke="#4a4a4a" stroke-width="0.5"/>
<line x1="374.5" y1="54.60" x2="375.4" y2="54.60" stroke="#4a4a4a" stroke-width="0.5"/>
<line x1="510.2" y1="54.60" x2="509.3" y2="54.60" stroke="#4a4a4a" stroke-width="0.5"/>
<line x1="374.5" y1="46.92" x2="375.4" y2="46.92" stroke="#4a4a4a" stroke-width="0.5"/>
<line x1="510.2" y1="46.92" x2="509.3" y2="46.92" stroke="#4a4a4a" stroke-width="0.5"/>
<line x1="374.5" y1="41.47" x2="375.4" y2="41.47" stroke="#4a4a4a" stroke-width="0.5"/>
<line x1="510.2" y1="41.47" x2="509.3" y2="41.47" stroke="#4a4a4a" stroke-width="0.5"/>
<line x1="374.5" y1="37.24" x2="375.4" y2="37.24" stroke="#4a4a4a" stroke-width="0.5"/>
<line x1="510.2" y1="37.24" x2="509.3" y2="37.24" stroke="#4a4a4a" stroke-width="0.5"/>
<line x1="374.5" y1="33.79" x2="375.4" y2="33.79" stroke="#4a4a4a" stroke-width="0.5"/>
<line x1="510.2" y1="33.79" x2="509.3" y2="33.79" stroke="#4a4a4a" stroke-width="0.5"/>
<line x1="374.5" y1="30.87" x2="375.4" y2="30.87" stroke="#4a4a4a" stroke-width="0.5"/>
<line x1="510.2" y1="30.87" x2="509.3" y2="30.87" stroke="#4a4a4a" stroke-width="0.5"/>
<line x1="374.5" y1="28.34" x2="375.4" y2="28.34" stroke="#4a4a4a" stroke-width="0.5"/>
<line x1="510.2" y1="28.34" x2="509.3" y2="28.34" stroke="#4a4a4a" stroke-width="0.5"/>
<line x1="374.5" y1="26.11" x2="375.4" y2="26.11" stroke="#4a4a4a" stroke-width="0.5"/>
<line x1="510.2" y1="26.11" x2="509.3" y2="26.11" stroke="#4a4a4a" stroke-width="0.5"/>
<line x1="374.5" y1="24.11" x2="375.4" y2="24.11" stroke="#4a4a4a" stroke-width="0.5"/>
<line x1="510.2" y1="24.11" x2="509.3" y2="24.11" stroke="#4a4a4a" stroke-width="0.5"/>
<line x1="374.5" y1="10.98" x2="375.4" y2="10.98" stroke="#4a4a4a" stroke-width="0.5"/>
<line x1="510.2" y1="10.98" x2="509.3" y2="10.98" stroke="#4a4a4a" stroke-width="0.5"/>
<line x1="383.30" y1="111.35" x2="383.30" y2="109.94999999999999" stroke="#4a4a4a" stroke-width="0.6"/>
<line x1="383.30" y1="3.3" x2="383.30" y2="4.699999999999999" stroke="#4a4a4a" stroke-width="0.6"/>
<line x1="411.33" y1="111.35" x2="411.33" y2="109.94999999999999" stroke="#4a4a4a" stroke-width="0.6"/>
<line x1="411.33" y1="3.3" x2="411.33" y2="4.699999999999999" stroke="#4a4a4a" stroke-width="0.6"/>
<line x1="436.90" y1="111.35" x2="436.90" y2="109.94999999999999" stroke="#4a4a4a" stroke-width="0.6"/>
<line x1="436.90" y1="3.3" x2="436.90" y2="4.699999999999999" stroke="#4a4a4a" stroke-width="0.6"/>
<line x1="464.93" y1="111.35" x2="464.93" y2="109.94999999999999" stroke="#4a4a4a" stroke-width="0.6"/>
<line x1="464.93" y1="3.3" x2="464.93" y2="4.699999999999999" stroke="#4a4a4a" stroke-width="0.6"/>
<line x1="490.50" y1="111.35" x2="490.50" y2="109.94999999999999" stroke="#4a4a4a" stroke-width="0.6"/>
<line x1="490.50" y1="3.3" x2="490.50" y2="4.699999999999999" stroke="#4a4a4a" stroke-width="0.6"/>
<line x1="374.5" y1="111.35" x2="375.9" y2="111.35" stroke="#4a4a4a" stroke-width="0.6"/>
<line x1="510.2" y1="111.35" x2="508.8" y2="111.35" stroke="#4a4a4a" stroke-width="0.6"/>
<line x1="374.5" y1="67.73" x2="375.9" y2="67.73" stroke="#4a4a4a" stroke-width="0.6"/>
<line x1="510.2" y1="67.73" x2="508.8" y2="67.73" stroke="#4a4a4a" stroke-width="0.6"/>
<line x1="374.5" y1="46.92" x2="375.9" y2="46.92" stroke="#4a4a4a" stroke-width="0.6"/>
<line x1="510.2" y1="46.92" x2="508.8" y2="46.92" stroke="#4a4a4a" stroke-width="0.6"/>
<line x1="374.5" y1="24.11" x2="375.9" y2="24.11" stroke="#4a4a4a" stroke-width="0.6"/>
<line x1="510.2" y1="24.11" x2="508.8" y2="24.11" stroke="#4a4a4a" stroke-width="0.6"/>
<line x1="374.5" y1="10.98" x2="375.9" y2="10.98" stroke="#4a4a4a" stroke-width="0.6"/>
<line x1="510.2" y1="10.98" x2="508.8" y2="10.98" stroke="#4a4a4a" stroke-width="0.6"/>
<line x1="374.5" y1="3.30" x2="375.9" y2="3.30" stroke="#4a4a4a" stroke-width="0.6"/>
<line x1="510.2" y1="3.30" x2="508.8" y2="3.30" stroke="#4a4a4a" stroke-width="0.6"/>
<text x="383.30" y="122.75" font-size="8.3" text-anchor="middle" font-family="Liberation Serif" font-weight="bold">0.3</text>
<text x="411.33" y="122.75" font-size="8.3" text-anchor="middle" font-family="Liberation Serif" font-weight="bold">1</text>
<text x="436.90" y="122.75" font-size="8.3" text-anchor="middle" font-family="Liberation Serif" font-weight="bold">3</text>
<text x="464.93" y="122.75" font-size="8.3" text-anchor="middle" font-family="Liberation Serif" font-weight="bold">10</text>
<text x="490.50" y="122.75" font-size="8.3" text-anchor="middle" font-family="Liberation Serif" font-weight="bold">30</text>
<text x="371.40" y="114.85" font-size="8.3" text-anchor="end" font-family="Liberation Serif" font-weight="bold">0.01</text>
<text x="371.40" y="71.23" font-size="8.3" text-anchor="end" font-family="Liberation Serif" font-weight="bold">0.1</text>
<text x="371.40" y="50.42" font-size="8.3" text-anchor="end" font-family="Liberation Serif" font-weight="bold">0.3</text>
<text x="371.40" y="27.61" font-size="8.3" text-anchor="end" font-family="Liberation Serif" font-weight="bold">1</text>
<text x="371.40" y="14.48" font-size="8.3" text-anchor="end" font-family="Liberation Serif" font-weight="bold">2</text>
<text x="371.40" y="6.80" font-size="8.3" text-anchor="end" font-family="Liberation Serif" font-weight="bold">3</text>
<text x="376.00" y="107.95" font-size="10.8" font-family="Liberation Serif" font-weight="bold">(c)</text>
<line x1="557.40" y1="3.3" x2="557.40" y2="111.35" stroke="#ececec" stroke-width="0.6"/>
<line x1="564.10" y1="3.3" x2="564.10" y2="111.35" stroke="#ececec" stroke-width="0.6"/>
<line x1="569.29" y1="3.3" x2="569.29" y2="111.35" stroke="#ececec" stroke-width="0.6"/>
<line x1="573.54" y1="3.3" x2="573.54" y2="111.35" stroke="#ececec" stroke-width="0.6"/>
<line x1="577.12" y1="3.3" x2="577.12" y2="111.35" stroke="#ececec" stroke-width="0.6"/>
<line x1="580.23" y1="3.3" x2="580.23" y2="111.35" stroke="#ececec" stroke-width="0.6"/>
<line x1="582.97" y1="3.3" x2="582.97" y2="111.35" stroke="#ececec" stroke-width="0.6"/>
<line x1="585.43" y1="3.3" x2="585.43" y2="111.35" stroke="#ececec" stroke-width="0.6"/>
<line x1="601.56" y1="3.3" x2="601.56" y2="111.35" stroke="#ececec" stroke-width="0.6"/>
<line x1="611.00" y1="3.3" x2="611.00" y2="111.35" stroke="#ececec" stroke-width="0.6"/>
<line x1="617.70" y1="3.3" x2="617.70" y2="111.35" stroke="#ececec" stroke-width="0.6"/>
<line x1="622.89" y1="3.3" x2="622.89" y2="111.35" stroke="#ececec" stroke-width="0.6"/>
<line x1="627.14" y1="3.3" x2="627.14" y2="111.35" stroke="#ececec" stroke-width="0.6"/>
<line x1="630.72" y1="3.3" x2="630.72" y2="111.35" stroke="#ececec" stroke-width="0.6"/>
<line x1="633.83" y1="3.3" x2="633.83" y2="111.35" stroke="#ececec" stroke-width="0.6"/>
<line x1="636.57" y1="3.3" x2="636.57" y2="111.35" stroke="#ececec" stroke-width="0.6"/>
<line x1="639.03" y1="3.3" x2="639.03" y2="111.35" stroke="#ececec" stroke-width="0.6"/>
<line x1="655.16" y1="3.3" x2="655.16" y2="111.35" stroke="#ececec" stroke-width="0.6"/>
<line x1="664.60" y1="3.3" x2="664.60" y2="111.35" stroke="#ececec" stroke-width="0.6"/>
<line x1="671.30" y1="3.3" x2="671.30" y2="111.35" stroke="#ececec" stroke-width="0.6"/>
<line x1="676.49" y1="3.3" x2="676.49" y2="111.35" stroke="#ececec" stroke-width="0.6"/>
<line x1="680.74" y1="3.3" x2="680.74" y2="111.35" stroke="#ececec" stroke-width="0.6"/>
<line x1="557.40" y1="3.3" x2="557.40" y2="111.35" stroke="#e3e3e3" stroke-width="0.6"/>
<line x1="585.43" y1="3.3" x2="585.43" y2="111.35" stroke="#e3e3e3" stroke-width="0.6"/>
<line x1="611.00" y1="3.3" x2="611.00" y2="111.35" stroke="#e3e3e3" stroke-width="0.6"/>
<line x1="639.03" y1="3.3" x2="639.03" y2="111.35" stroke="#e3e3e3" stroke-width="0.6"/>
<line x1="664.60" y1="3.3" x2="664.60" y2="111.35" stroke="#e3e3e3" stroke-width="0.6"/>
<line x1="548.6" y1="101.50" x2="684.3" y2="101.50" stroke="#ececec" stroke-width="0.6"/>
<line x1="548.6" y1="95.73" x2="684.3" y2="95.73" stroke="#ececec" stroke-width="0.6"/>
<line x1="548.6" y1="91.64" x2="684.3" y2="91.64" stroke="#ececec" stroke-width="0.6"/>
<line x1="548.6" y1="88.47" x2="684.3" y2="88.47" stroke="#ececec" stroke-width="0.6"/>
<line x1="548.6" y1="85.88" x2="684.3" y2="85.88" stroke="#ececec" stroke-width="0.6"/>
<line x1="548.6" y1="83.69" x2="684.3" y2="83.69" stroke="#ececec" stroke-width="0.6"/>
<line x1="548.6" y1="81.79" x2="684.3" y2="81.79" stroke="#ececec" stroke-width="0.6"/>
<line x1="548.6" y1="80.12" x2="684.3" y2="80.12" stroke="#ececec" stroke-width="0.6"/>
<line x1="548.6" y1="78.62" x2="684.3" y2="78.62" stroke="#ececec" stroke-width="0.6"/>
<line x1="548.6" y1="68.76" x2="684.3" y2="68.76" stroke="#ececec" stroke-width="0.6"/>
<line x1="548.6" y1="63.00" x2="684.3" y2="63.00" stroke="#ececec" stroke-width="0.6"/>
<line x1="548.6" y1="58.91" x2="684.3" y2="58.91" stroke="#ececec" stroke-width="0.6"/>
<line x1="548.6" y1="55.74" x2="684.3" y2="55.74" stroke="#ececec" stroke-width="0.6"/>
<line x1="548.6" y1="53.15" x2="684.3" y2="53.15" stroke="#ececec" stroke-width="0.6"/>
<line x1="548.6" y1="50.96" x2="684.3" y2="50.96" stroke="#ececec" stroke-width="0.6"/>
<line x1="548.6" y1="49.06" x2="684.3" y2="49.06" stroke="#ececec" stroke-width="0.6"/>
<line x1="548.6" y1="47.38" x2="684.3" y2="47.38" stroke="#ececec" stroke-width="0.6"/>
<line x1="548.6" y1="45.89" x2="684.3" y2="45.89" stroke="#ececec" stroke-width="0.6"/>
<line x1="548.6" y1="36.03" x2="684.3" y2="36.03" stroke="#ececec" stroke-width="0.6"/>
<line x1="548.6" y1="30.27" x2="684.3" y2="30.27" stroke="#ececec" stroke-width="0.6"/>
<line x1="548.6" y1="26.18" x2="684.3" y2="26.18" stroke="#ececec" stroke-width="0.6"/>
<line x1="548.6" y1="23.01" x2="684.3" y2="23.01" stroke="#ececec" stroke-width="0.6"/>
<line x1="548.6" y1="20.41" x2="684.3" y2="20.41" stroke="#ececec" stroke-width="0.6"/>
<line x1="548.6" y1="18.22" x2="684.3" y2="18.22" stroke="#ececec" stroke-width="0.6"/>
<line x1="548.6" y1="16.33" x2="684.3" y2="16.33" stroke="#ececec" stroke-width="0.6"/>
<line x1="548.6" y1="14.65" x2="684.3" y2="14.65" stroke="#ececec" stroke-width="0.6"/>
<line x1="548.6" y1="13.15" x2="684.3" y2="13.15" stroke="#ececec" stroke-width="0.6"/>
<line x1="548.6" y1="78.62" x2="684.3" y2="78.62" stroke="#e3e3e3" stroke-width="0.6"/>
<line x1="548.6" y1="45.89" x2="684.3" y2="45.89" stroke="#e3e3e3" stroke-width="0.6"/>
<line x1="548.6" y1="30.27" x2="684.3" y2="30.27" stroke="#e3e3e3" stroke-width="0.6"/>
<line x1="548.6" y1="13.15" x2="684.3" y2="13.15" stroke="#e3e3e3" stroke-width="0.6"/>
<rect x="548.6" y="3.3" width="135.70" height="108.05" fill="none" stroke="#4a4a4a" stroke-width="0.55"/>
<line x1="557.40" y1="111.35" x2="557.40" y2="110.44999999999999" stroke="#4a4a4a" stroke-width="0.5"/>
<line x1="557.40" y1="3.3" x2="557.40" y2="4.2" stroke="#4a4a4a" stroke-width="0.5"/>
<line x1="564.10" y1="111.35" x2="564.10" y2="110.44999999999999" stroke="#4a4a4a" stroke-width="0.5"/>
<line x1="564.10" y1="3.3" x2="564.10" y2="4.2" stroke="#4a4a4a" stroke-width="0.5"/>
<line x1="569.29" y1="111.35" x2="569.29" y2="110.44999999999999" stroke="#4a4a4a" stroke-width="0.5"/>
<line x1="569.29" y1="3.3" x2="569.29" y2="4.2" stroke="#4a4a4a" stroke-width="0.5"/>
<line x1="573.54" y1="111.35" x2="573.54" y2="110.44999999999999" stroke="#4a4a4a" stroke-width="0.5"/>
<line x1="573.54" y1="3.3" x2="573.54" y2="4.2" stroke="#4a4a4a" stroke-width="0.5"/>
<line x1="577.12" y1="111.35" x2="577.12" y2="110.44999999999999" stroke="#4a4a4a" stroke-width="0.5"/>
<line x1="577.12" y1="3.3" x2="577.12" y2="4.2" stroke="#4a4a4a" stroke-width="0.5"/>
<line x1="580.23" y1="111.35" x2="580.23" y2="110.44999999999999" stroke="#4a4a4a" stroke-width="0.5"/>
<line x1="580.23" y1="3.3" x2="580.23" y2="4.2" stroke="#4a4a4a" stroke-width="0.5"/>
<line x1="582.97" y1="111.35" x2="582.97" y2="110.44999999999999" stroke="#4a4a4a" stroke-width="0.5"/>
<line x1="582.97" y1="3.3" x2="582.97" y2="4.2" stroke="#4a4a4a" stroke-width="0.5"/>
<line x1="585.43" y1="111.35" x2="585.43" y2="110.44999999999999" stroke="#4a4a4a" stroke-width="0.5"/>
<line x1="585.43" y1="3.3" x2="585.43" y2="4.2" stroke="#4a4a4a" stroke-width="0.5"/>
<line x1="601.56" y1="111.35" x2="601.56" y2="110.44999999999999" stroke="#4a4a4a" stroke-width="0.5"/>
<line x1="601.56" y1="3.3" x2="601.56" y2="4.2" stroke="#4a4a4a" stroke-width="0.5"/>
<line x1="611.00" y1="111.35" x2="611.00" y2="110.44999999999999" stroke="#4a4a4a" stroke-width="0.5"/>
<line x1="611.00" y1="3.3" x2="611.00" y2="4.2" stroke="#4a4a4a" stroke-width="0.5"/>
<line x1="617.70" y1="111.35" x2="617.70" y2="110.44999999999999" stroke="#4a4a4a" stroke-width="0.5"/>
<line x1="617.70" y1="3.3" x2="617.70" y2="4.2" stroke="#4a4a4a" stroke-width="0.5"/>
<line x1="622.89" y1="111.35" x2="622.89" y2="110.44999999999999" stroke="#4a4a4a" stroke-width="0.5"/>
<line x1="622.89" y1="3.3" x2="622.89" y2="4.2" stroke="#4a4a4a" stroke-width="0.5"/>
<line x1="627.14" y1="111.35" x2="627.14" y2="110.44999999999999" stroke="#4a4a4a" stroke-width="0.5"/>
<line x1="627.14" y1="3.3" x2="627.14" y2="4.2" stroke="#4a4a4a" stroke-width="0.5"/>
<line x1="630.72" y1="111.35" x2="630.72" y2="110.44999999999999" stroke="#4a4a4a" stroke-width="0.5"/>
<line x1="630.72" y1="3.3" x2="630.72" y2="4.2" stroke="#4a4a4a" stroke-width="0.5"/>
<line x1="633.83" y1="111.35" x2="633.83" y2="110.44999999999999" stroke="#4a4a4a" stroke-width="0.5"/>
<line x1="633.83" y1="3.3" x2="633.83" y2="4.2" stroke="#4a4a4a" stroke-width="0.5"/>
<line x1="636.57" y1="111.35" x2="636.57" y2="110.44999999999999" stroke="#4a4a4a" stroke-width="0.5"/>
<line x1="636.57" y1="3.3" x2="636.57" y2="4.2" stroke="#4a4a4a" stroke-width="0.5"/>
<line x1="639.03" y1="111.35" x2="639.03" y2="110.44999999999999" stroke="#4a4a4a" stroke-width="0.5"/>
<line x1="639.03" y1="3.3" x2="639.03" y2="4.2" stroke="#4a4a4a" stroke-width="0.5"/>
<line x1="655.16" y1="111.35" x2="655.16" y2="110.44999999999999" stroke="#4a4a4a" stroke-width="0.5"/>
<line x1="655.16" y1="3.3" x2="655.16" y2="4.2" stroke="#4a4a4a" stroke-width="0.5"/>
<line x1="664.60" y1="111.35" x2="664.60" y2="110.44999999999999" stroke="#4a4a4a" stroke-width="0.5"/>
<line x1="664.60" y1="3.3" x2="664.60" y2="4.2" stroke="#4a4a4a" stroke-width="0.5"/>
<line x1="671.30" y1="111.35" x2="671.30" y2="110.44999999999999" stroke="#4a4a4a" stroke-width="0.5"/>
<line x1="671.30" y1="3.3" x2="671.30" y2="4.2" stroke="#4a4a4a" stroke-width="0.5"/>
<line x1="676.49" y1="111.35" x2="676.49" y2="110.44999999999999" stroke="#4a4a4a" stroke-width="0.5"/>
<line x1="676.49" y1="3.3" x2="676.49" y2="4.2" stroke="#4a4a4a" stroke-width="0.5"/>
<line x1="680.74" y1="111.35" x2="680.74" y2="110.44999999999999" stroke="#4a4a4a" stroke-width="0.5"/>
<line x1="680.74" y1="3.3" x2="680.74" y2="4.2" stroke="#4a4a4a" stroke-width="0.5"/>
<line x1="548.6" y1="101.50" x2="549.5" y2="101.50" stroke="#4a4a4a" stroke-width="0.5"/>
<line x1="684.3" y1="101.50" x2="683.4" y2="101.50" stroke="#4a4a4a" stroke-width="0.5"/>
<line x1="548.6" y1="95.73" x2="549.5" y2="95.73" stroke="#4a4a4a" stroke-width="0.5"/>
<line x1="684.3" y1="95.73" x2="683.4" y2="95.73" stroke="#4a4a4a" stroke-width="0.5"/>
<line x1="548.6" y1="91.64" x2="549.5" y2="91.64" stroke="#4a4a4a" stroke-width="0.5"/>
<line x1="684.3" y1="91.64" x2="683.4" y2="91.64" stroke="#4a4a4a" stroke-width="0.5"/>
<line x1="548.6" y1="88.47" x2="549.5" y2="88.47" stroke="#4a4a4a" stroke-width="0.5"/>
<line x1="684.3" y1="88.47" x2="683.4" y2="88.47" stroke="#4a4a4a" stroke-width="0.5"/>
<line x1="548.6" y1="85.88" x2="549.5" y2="85.88" stroke="#4a4a4a" stroke-width="0.5"/>
<line x1="684.3" y1="85.88" x2="683.4" y2="85.88" stroke="#4a4a4a" stroke-width="0.5"/>
<line x1="548.6" y1="83.69" x2="549.5" y2="83.69" stroke="#4a4a4a" stroke-width="0.5"/>
<line x1="684.3" y1="83.69" x2="683.4" y2="83.69" stroke="#4a4a4a" stroke-width="0.5"/>
<line x1="548.6" y1="81.79" x2="549.5" y2="81.79" stroke="#4a4a4a" stroke-width="0.5"/>
<line x1="684.3" y1="81.79" x2="683.4" y2="81.79" stroke="#4a4a4a" stroke-width="0.5"/>
<line x1="548.6" y1="80.12" x2="549.5" y2="80.12" stroke="#4a4a4a" stroke-width="0.5"/>
<line x1="684.3" y1="80.12" x2="683.4" y2="80.12" stroke="#4a4a4a" stroke-width="0.5"/>
<line x1="548.6" y1="78.62" x2="549.5" y2="78.62" stroke="#4a4a4a" stroke-width="0.5"/>
<line x1="684.3" y1="78.62" x2="683.4" y2="78.62" stroke="#4a4a4a" stroke-width="0.5"/>
<line x1="548.6" y1="68.76" x2="549.5" y2="68.76" stroke="#4a4a4a" stroke-width="0.5"/>
<line x1="684.3" y1="68.76" x2="683.4" y2="68.76" stroke="#4a4a4a" stroke-width="0.5"/>
<line x1="548.6" y1="63.00" x2="549.5" y2="63.00" stroke="#4a4a4a" stroke-width="0.5"/>
<line x1="684.3" y1="63.00" x2="683.4" y2="63.00" stroke="#4a4a4a" stroke-width="0.5"/>
<line x1="548.6" y1="58.91" x2="549.5" y2="58.91" stroke="#4a4a4a" stroke-width="0.5"/>
<line x1="684.3" y1="58.91" x2="683.4" y2="58.91" stroke="#4a4a4a" stroke-width="0.5"/>
<line x1="548.6" y1="55.74" x2="549.5" y2="55.74" stroke="#4a4a4a" stroke-width="0.5"/>
<line x1="684.3" y1="55.74" x2="683.4" y2="55.74" stroke="#4a4a4a" stroke-width="0.5"/>
<line x1="548.6" y1="53.15" x2="549.5" y2="53.15" stroke="#4a4a4a" stroke-width="0.5"/>
<line x1="684.3" y1="53.15" x2="683.4" y2="53.15" stroke="#4a4a4a" stroke-width="0.5"/>
<line x1="548.6" y1="50.96" x2="549.5" y2="50.96" stroke="#4a4a4a" stroke-width="0.5"/>
<line x1="684.3" y1="50.96" x2="683.4" y2="50.96" stroke="#4a4a4a" stroke-width="0.5"/>
<line x1="548.6" y1="49.06" x2="549.5" y2="49.06" stroke="#4a4a4a" stroke-width="0.5"/>
<line x1="684.3" y1="49.06" x2="683.4" y2="49.06" stroke="#4a4a4a" stroke-width="0.5"/>
<line x1="548.6" y1="47.38" x2="549.5" y2="47.38" stroke="#4a4a4a" stroke-width="0.5"/>
<line x1="684.3" y1="47.38" x2="683.4" y2="47.38" stroke="#4a4a4a" stroke-width="0.5"/>
<line x1="548.6" y1="45.89" x2="549.5" y2="45.89" stroke="#4a4a4a" stroke-width="0.5"/>
<line x1="684.3" y1="45.89" x2="683.4" y2="45.89" stroke="#4a4a4a" stroke-width="0.5"/>
<line x1="548.6" y1="36.03" x2="549.5" y2="36.03" stroke="#4a4a4a" stroke-width="0.5"/>
<line x1="684.3" y1="36.03" x2="683.4" y2="36.03" stroke="#4a4a4a" stroke-width="0.5"/>
<line x1="548.6" y1="30.27" x2="549.5" y2="30.27" stroke="#4a4a4a" stroke-width="0.5"/>
<line x1="684.3" y1="30.27" x2="683.4" y2="30.27" stroke="#4a4a4a" stroke-width="0.5"/>
<line x1="548.6" y1="26.18" x2="549.5" y2="26.18" stroke="#4a4a4a" stroke-width="0.5"/>
<line x1="684.3" y1="26.18" x2="683.4" y2="26.18" stroke="#4a4a4a" stroke-width="0.5"/>
<line x1="548.6" y1="23.01" x2="549.5" y2="23.01" stroke="#4a4a4a" stroke-width="0.5"/>
<line x1="684.3" y1="23.01" x2="683.4" y2="23.01" stroke="#4a4a4a" stroke-width="0.5"/>
<line x1="548.6" y1="20.41" x2="549.5" y2="20.41" stroke="#4a4a4a" stroke-width="0.5"/>
<line x1="684.3" y1="20.41" x2="683.4" y2="20.41" stroke="#4a4a4a" stroke-width="0.5"/>
<line x1="548.6" y1="18.22" x2="549.5" y2="18.22" stroke="#4a4a4a" stroke-width="0.5"/>
<line x1="684.3" y1="18.22" x2="683.4" y2="18.22" stroke="#4a4a4a" stroke-width="0.5"/>
<line x1="548.6" y1="16.33" x2="549.5" y2="16.33" stroke="#4a4a4a" stroke-width="0.5"/>
<line x1="684.3" y1="16.33" x2="683.4" y2="16.33" stroke="#4a4a4a" stroke-width="0.5"/>
<line x1="548.6" y1="14.65" x2="549.5" y2="14.65" stroke="#4a4a4a" stroke-width="0.5"/>
<line x1="684.3" y1="14.65" x2="683.4" y2="14.65" stroke="#4a4a4a" stroke-width="0.5"/>
<line x1="548.6" y1="13.15" x2="549.5" y2="13.15" stroke="#4a4a4a" stroke-width="0.5"/>
<line x1="684.3" y1="13.15" x2="683.4" y2="13.15" stroke="#4a4a4a" stroke-width="0.5"/>
<line x1="557.40" y1="111.35" x2="557.40" y2="109.94999999999999" stroke="#4a4a4a" stroke-width="0.6"/>
<line x1="557.40" y1="3.3" x2="557.40" y2="4.699999999999999" stroke="#4a4a4a" stroke-width="0.6"/>
<line x1="585.43" y1="111.35" x2="585.43" y2="109.94999999999999" stroke="#4a4a4a" stroke-width="0.6"/>
<line x1="585.43" y1="3.3" x2="585.43" y2="4.699999999999999" stroke="#4a4a4a" stroke-width="0.6"/>
<line x1="611.00" y1="111.35" x2="611.00" y2="109.94999999999999" stroke="#4a4a4a" stroke-width="0.6"/>
<line x1="611.00" y1="3.3" x2="611.00" y2="4.699999999999999" stroke="#4a4a4a" stroke-width="0.6"/>
<line x1="639.03" y1="111.35" x2="639.03" y2="109.94999999999999" stroke="#4a4a4a" stroke-width="0.6"/>
<line x1="639.03" y1="3.3" x2="639.03" y2="4.699999999999999" stroke="#4a4a4a" stroke-width="0.6"/>
<line x1="664.60" y1="111.35" x2="664.60" y2="109.94999999999999" stroke="#4a4a4a" stroke-width="0.6"/>
<line x1="664.60" y1="3.3" x2="664.60" y2="4.699999999999999" stroke="#4a4a4a" stroke-width="0.6"/>
<line x1="548.6" y1="111.35" x2="550.0" y2="111.35" stroke="#4a4a4a" stroke-width="0.6"/>
<line x1="684.3" y1="111.35" x2="682.9" y2="111.35" stroke="#4a4a4a" stroke-width="0.6"/>
<line x1="548.6" y1="78.62" x2="550.0" y2="78.62" stroke="#4a4a4a" stroke-width="0.6"/>
<line x1="684.3" y1="78.62" x2="682.9" y2="78.62" stroke="#4a4a4a" stroke-width="0.6"/>
<line x1="548.6" y1="45.89" x2="550.0" y2="45.89" stroke="#4a4a4a" stroke-width="0.6"/>
<line x1="684.3" y1="45.89" x2="682.9" y2="45.89" stroke="#4a4a4a" stroke-width="0.6"/>
<line x1="548.6" y1="30.27" x2="550.0" y2="30.27" stroke="#4a4a4a" stroke-width="0.6"/>
<line x1="684.3" y1="30.27" x2="682.9" y2="30.27" stroke="#4a4a4a" stroke-width="0.6"/>
<line x1="548.6" y1="13.15" x2="550.0" y2="13.15" stroke="#4a4a4a" stroke-width="0.6"/>
<line x1="684.3" y1="13.15" x2="682.9" y2="13.15" stroke="#4a4a4a" stroke-width="0.6"/>
<line x1="548.6" y1="3.30" x2="550.0" y2="3.30" stroke="#4a4a4a" stroke-width="0.6"/>
<line x1="684.3" y1="3.30" x2="682.9" y2="3.30" stroke="#4a4a4a" stroke-width="0.6"/>
<text x="557.40" y="122.75" font-size="8.3" text-anchor="middle" font-family="Liberation Serif" font-weight="bold">0.3</text>
<text x="585.43" y="122.75" font-size="8.3" text-anchor="middle" font-family="Liberation Serif" font-weight="bold">1</text>
<text x="611.00" y="122.75" font-size="8.3" text-anchor="middle" font-family="Liberation Serif" font-weight="bold">3</text>
<text x="639.03" y="122.75" font-size="8.3" text-anchor="middle" font-family="Liberation Serif" font-weight="bold">10</text>
<text x="664.60" y="122.75" font-size="8.3" text-anchor="middle" font-family="Liberation Serif" font-weight="bold">30</text>
<text x="545.50" y="114.85" font-size="8.3" text-anchor="end" font-family="Liberation Serif" font-weight="bold">0.001</text>
<text x="545.50" y="82.12" font-size="8.3" text-anchor="end" font-family="Liberation Serif" font-weight="bold">0.01</text>
<text x="545.50" y="49.39" font-size="8.3" text-anchor="end" font-family="Liberation Serif" font-weight="bold">0.1</text>
<text x="545.50" y="33.77" font-size="8.3" text-anchor="end" font-family="Liberation Serif" font-weight="bold">0.3</text>
<text x="545.50" y="16.65" font-size="8.3" text-anchor="end" font-family="Liberation Serif" font-weight="bold">1</text>
<text x="545.50" y="6.80" font-size="8.3" text-anchor="end" font-family="Liberation Serif" font-weight="bold">2</text>
<text x="550.10" y="107.95" font-size="10.8" font-family="Liberation Serif" font-weight="bold">(d)</text>
<line x1="43.90" y1="141.5" x2="43.90" y2="250.4" stroke="#ececec" stroke-width="0.6"/>
<line x1="53.55" y1="141.5" x2="53.55" y2="250.4" stroke="#ececec" stroke-width="0.6"/>
<line x1="60.39" y1="141.5" x2="60.39" y2="250.4" stroke="#ececec" stroke-width="0.6"/>
<line x1="65.70" y1="141.5" x2="65.70" y2="250.4" stroke="#ececec" stroke-width="0.6"/>
<line x1="70.04" y1="141.5" x2="70.04" y2="250.4" stroke="#ececec" stroke-width="0.6"/>
<line x1="73.71" y1="141.5" x2="73.71" y2="250.4" stroke="#ececec" stroke-width="0.6"/>
<line x1="76.89" y1="141.5" x2="76.89" y2="250.4" stroke="#ececec" stroke-width="0.6"/>
<line x1="79.69" y1="141.5" x2="79.69" y2="250.4" stroke="#ececec" stroke-width="0.6"/>
<line x1="82.20" y1="141.5" x2="82.20" y2="250.4" stroke="#ececec" stroke-width="0.6"/>
<line x1="98.70" y1="141.5" x2="98.70" y2="250.4" stroke="#ececec" stroke-width="0.6"/>
<line x1="108.35" y1="141.5" x2="108.35" y2="250.4" stroke="#ececec" stroke-width="0.6"/>
<line x1="115.19" y1="141.5" x2="115.19" y2="250.4" stroke="#ececec" stroke-width="0.6"/>
<line x1="120.50" y1="141.5" x2="120.50" y2="250.4" stroke="#ececec" stroke-width="0.6"/>
<line x1="124.84" y1="141.5" x2="124.84" y2="250.4" stroke="#ececec" stroke-width="0.6"/>
<line x1="128.51" y1="141.5" x2="128.51" y2="250.4" stroke="#ececec" stroke-width="0.6"/>
<line x1="131.69" y1="141.5" x2="131.69" y2="250.4" stroke="#ececec" stroke-width="0.6"/>
<line x1="134.49" y1="141.5" x2="134.49" y2="250.4" stroke="#ececec" stroke-width="0.6"/>
<line x1="137.00" y1="141.5" x2="137.00" y2="250.4" stroke="#ececec" stroke-width="0.6"/>
<line x1="153.50" y1="141.5" x2="153.50" y2="250.4" stroke="#ececec" stroke-width="0.6"/>
<line x1="27.40" y1="141.5" x2="27.40" y2="250.4" stroke="#e3e3e3" stroke-width="0.6"/>
<line x1="53.55" y1="141.5" x2="53.55" y2="250.4" stroke="#e3e3e3" stroke-width="0.6"/>
<line x1="82.20" y1="141.5" x2="82.20" y2="250.4" stroke="#e3e3e3" stroke-width="0.6"/>
<line x1="108.35" y1="141.5" x2="108.35" y2="250.4" stroke="#e3e3e3" stroke-width="0.6"/>
<line x1="137.00" y1="141.5" x2="137.00" y2="250.4" stroke="#e3e3e3" stroke-width="0.6"/>
<line x1="27.4" y1="168.72" x2="163.1" y2="168.72" stroke="#e3e3e3" stroke-width="0.6"/>
<line x1="27.4" y1="195.95" x2="163.1" y2="195.95" stroke="#e3e3e3" stroke-width="0.6"/>
<line x1="27.4" y1="223.18" x2="163.1" y2="223.18" stroke="#e3e3e3" stroke-width="0.6"/>
<rect x="27.4" y="141.5" width="135.70" height="108.90" fill="none" stroke="#4a4a4a" stroke-width="0.55"/>
<line x1="43.90" y1="250.4" x2="43.90" y2="249.5" stroke="#4a4a4a" stroke-width="0.5"/>
<line x1="43.90" y1="141.5" x2="43.90" y2="142.4" stroke="#4a4a4a" stroke-width="0.5"/>
<line x1="53.55" y1="250.4" x2="53.55" y2="249.5" stroke="#4a4a4a" stroke-width="0.5"/>
<line x1="53.55" y1="141.5" x2="53.55" y2="142.4" stroke="#4a4a4a" stroke-width="0.5"/>
<line x1="60.39" y1="250.4" x2="60.39" y2="249.5" stroke="#4a4a4a" stroke-width="0.5"/>
<line x1="60.39" y1="141.5" x2="60.39" y2="142.4" stroke="#4a4a4a" stroke-width="0.5"/>
<line x1="65.70" y1="250.4" x2="65.70" y2="249.5" stroke="#4a4a4a" stroke-width="0.5"/>
<line x1="65.70" y1="141.5" x2="65.70" y2="142.4" stroke="#4a4a4a" stroke-width="0.5"/>
<line x1="70.04" y1="250.4" x2="70.04" y2="249.5" stroke="#4a4a4a" stroke-width="0.5"/>
<line x1="70.04" y1="141.5" x2="70.04" y2="142.4" stroke="#4a4a4a" stroke-width="0.5"/>
<line x1="73.71" y1="250.4" x2="73.71" y2="249.5" stroke="#4a4a4a" stroke-width="0.5"/>
<line x1="73.71" y1="141.5" x2="73.71" y2="142.4" stroke="#4a4a4a" stroke-width="0.5"/>
<line x1="76.89" y1="250.4" x2="76.89" y2="249.5" stroke="#4a4a4a" stroke-width="0.5"/>
<line x1="76.89" y1="141.5" x2="76.89" y2="142.4" stroke="#4a4a4a" stroke-width="0.5"/>
<line x1="79.69" y1="250.4" x2="79.69" y2="249.5" stroke="#4a4a4a" stroke-width="0.5"/>
<line x1="79.69" y1="141.5" x2="79.69" y2="142.4" stroke="#4a4a4a" stroke-width="0.5"/>
<line x1="82.20" y1="250.4" x2="82.20" y2="249.5" stroke="#4a4a4a" stroke-width="0.5"/>
<line x1="82.20" y1="141.5" x2="82.20" y2="142.4" stroke="#4a4a4a" stroke-width="0.5"/>
<line x1="98.70" y1="250.4" x2="98.70" y2="249.5" stroke="#4a4a4a" stroke-width="0.5"/>
<line x1="98.70" y1="141.5" x2="98.70" y2="142.4" stroke="#4a4a4a" stroke-width="0.5"/>
<line x1="108.35" y1="250.4" x2="108.35" y2="249.5" stroke="#4a4a4a" stroke-width="0.5"/>
<line x1="108.35" y1="141.5" x2="108.35" y2="142.4" stroke="#4a4a4a" stroke-width="0.5"/>
<line x1="115.19" y1="250.4" x2="115.19" y2="249.5" stroke="#4a4a4a" stroke-width="0.5"/>
<line x1="115.19" y1="141.5" x2="115.19" y2="142.4" stroke="#4a4a4a" stroke-width="0.5"/>
<line x1="120.50" y1="250.4" x2="120.50" y2="249.5" stroke="#4a4a4a" stroke-width="0.5"/>
<line x1="120.50" y1="141.5" x2="120.50" y2="142.4" stroke="#4a4a4a" stroke-width="0.5"/>
<line x1="124.84" y1="250.4" x2="124.84" y2="249.5" stroke="#4a4a4a" stroke-width="0.5"/>
<line x1="124.84" y1="141.5" x2="124.84" y2="142.4" stroke="#4a4a4a" stroke-width="0.5"/>
<line x1="128.51" y1="250.4" x2="128.51" y2="249.5" stroke="#4a4a4a" stroke-width="0.5"/>
<line x1="128.51" y1="141.5" x2="128.51" y2="142.4" stroke="#4a4a4a" stroke-width="0.5"/>
<line x1="131.69" y1="250.4" x2="131.69" y2="249.5" stroke="#4a4a4a" stroke-width="0.5"/>
<line x1="131.69" y1="141.5" x2="131.69" y2="142.4" stroke="#4a4a4a" stroke-width="0.5"/>
<line x1="134.49" y1="250.4" x2="134.49" y2="249.5" stroke="#4a4a4a" stroke-width="0.5"/>
<line x1="134.49" y1="141.5" x2="134.49" y2="142.4" stroke="#4a4a4a" stroke-width="0.5"/>
<line x1="137.00" y1="250.4" x2="137.00" y2="249.5" stroke="#4a4a4a" stroke-width="0.5"/>
<line x1="137.00" y1="141.5" x2="137.00" y2="142.4" stroke="#4a4a4a" stroke-width="0.5"/>
<line x1="153.50" y1="250.4" x2="153.50" y2="249.5" stroke="#4a4a4a" stroke-width="0.5"/>
<line x1="153.50" y1="141.5" x2="153.50" y2="142.4" stroke="#4a4a4a" stroke-width="0.5"/>
<line x1="27.40" y1="250.4" x2="27.40" y2="249.0" stroke="#4a4a4a" stroke-width="0.6"/>
<line x1="27.40" y1="141.5" x2="27.40" y2="142.9" stroke="#4a4a4a" stroke-width="0.6"/>
<line x1="53.55" y1="250.4" x2="53.55" y2="249.0" stroke="#4a4a4a" stroke-width="0.6"/>
<line x1="53.55" y1="141.5" x2="53.55" y2="142.9" stroke="#4a4a4a" stroke-width="0.6"/>
<line x1="82.20" y1="250.4" x2="82.20" y2="249.0" stroke="#4a4a4a" stroke-width="0.6"/>
<line x1="82.20" y1="141.5" x2="82.20" y2="142.9" stroke="#4a4a4a" stroke-width="0.6"/>
<line x1="108.35" y1="250.4" x2="108.35" y2="249.0" stroke="#4a4a4a" stroke-width="0.6"/>
<line x1="108.35" y1="141.5" x2="108.35" y2="142.9" stroke="#4a4a4a" stroke-width="0.6"/>
<line x1="137.00" y1="250.4" x2="137.00" y2="249.0" stroke="#4a4a4a" stroke-width="0.6"/>
<line x1="137.00" y1="141.5" x2="137.00" y2="142.9" stroke="#4a4a4a" stroke-width="0.6"/>
<line x1="27.4" y1="141.50" x2="28.799999999999997" y2="141.50" stroke="#4a4a4a" stroke-width="0.6"/>
<line x1="163.1" y1="141.50" x2="161.7" y2="141.50" stroke="#4a4a4a" stroke-width="0.6"/>
<line x1="27.4" y1="168.72" x2="28.799999999999997" y2="168.72" stroke="#4a4a4a" stroke-width="0.6"/>
<line x1="163.1" y1="168.72" x2="161.7" y2="168.72" stroke="#4a4a4a" stroke-width="0.6"/>
<line x1="27.4" y1="195.95" x2="28.799999999999997" y2="195.95" stroke="#4a4a4a" stroke-width="0.6"/>
<line x1="163.1" y1="195.95" x2="161.7" y2="195.95" stroke="#4a4a4a" stroke-width="0.6"/>
<line x1="27.4" y1="223.18" x2="28.799999999999997" y2="223.18" stroke="#4a4a4a" stroke-width="0.6"/>
<line x1="163.1" y1="223.18" x2="161.7" y2="223.18" stroke="#4a4a4a" stroke-width="0.6"/>
<line x1="27.4" y1="250.40" x2="28.799999999999997" y2="250.40" stroke="#4a4a4a" stroke-width="0.6"/>
<line x1="163.1" y1="250.40" x2="161.7" y2="250.40" stroke="#4a4a4a" stroke-width="0.6"/>
<text x="27.40" y="261.80" font-size="8.3" text-anchor="middle" font-family="Liberation Serif" font-weight="bold">1</text>
<text x="53.55" y="261.80" font-size="8.3" text-anchor="middle" font-family="Liberation Serif" font-weight="bold">3</text>
<text x="82.20" y="261.80" font-size="8.3" text-anchor="middle" font-family="Liberation Serif" font-weight="bold">10</text>
<text x="108.35" y="261.80" font-size="8.3" text-anchor="middle" font-family="Liberation Serif" font-weight="bold">30</text>
<text x="137.00" y="261.80" font-size="8.3" text-anchor="middle" font-family="Liberation Serif" font-weight="bold">100</text>
<text x="24.30" y="145.00" font-size="8.3" text-anchor="end" font-family="Liberation Serif" font-weight="bold">216</text>
<text x="24.30" y="172.22" font-size="8.3" text-anchor="end" font-family="Liberation Serif" font-weight="bold">218</text>
<text x="24.30" y="199.45" font-size="8.3" text-anchor="end" font-family="Liberation Serif" font-weight="bold">220</text>
<text x="24.30" y="226.68" font-size="8.3" text-anchor="end" font-family="Liberation Serif" font-weight="bold">222</text>
<text x="24.30" y="253.90" font-size="8.3" text-anchor="end" font-family="Liberation Serif" font-weight="bold">224</text>
<text x="28.90" y="247.00" font-size="10.8" font-family="Liberation Serif" font-weight="bold">(e)</text>
<line x1="217.50" y1="141.5" x2="217.50" y2="250.4" stroke="#ececec" stroke-width="0.6"/>
<line x1="227.15" y1="141.5" x2="227.15" y2="250.4" stroke="#ececec" stroke-width="0.6"/>
<line x1="233.99" y1="141.5" x2="233.99" y2="250.4" stroke="#ececec" stroke-width="0.6"/>
<line x1="239.30" y1="141.5" x2="239.30" y2="250.4" stroke="#ececec" stroke-width="0.6"/>
<line x1="243.64" y1="141.5" x2="243.64" y2="250.4" stroke="#ececec" stroke-width="0.6"/>
<line x1="247.31" y1="141.5" x2="247.31" y2="250.4" stroke="#ececec" stroke-width="0.6"/>
<line x1="250.49" y1="141.5" x2="250.49" y2="250.4" stroke="#ececec" stroke-width="0.6"/>
<line x1="253.29" y1="141.5" x2="253.29" y2="250.4" stroke="#ececec" stroke-width="0.6"/>
<line x1="255.80" y1="141.5" x2="255.80" y2="250.4" stroke="#ececec" stroke-width="0.6"/>
<line x1="272.30" y1="141.5" x2="272.30" y2="250.4" stroke="#ececec" stroke-width="0.6"/>
<line x1="281.95" y1="141.5" x2="281.95" y2="250.4" stroke="#ececec" stroke-width="0.6"/>
<line x1="288.79" y1="141.5" x2="288.79" y2="250.4" stroke="#ececec" stroke-width="0.6"/>
<line x1="294.10" y1="141.5" x2="294.10" y2="250.4" stroke="#ececec" stroke-width="0.6"/>
<line x1="298.44" y1="141.5" x2="298.44" y2="250.4" stroke="#ececec" stroke-width="0.6"/>
<line x1="302.11" y1="141.5" x2="302.11" y2="250.4" stroke="#ececec" stroke-width="0.6"/>
<line x1="305.29" y1="141.5" x2="305.29" y2="250.4" stroke="#ececec" stroke-width="0.6"/>
<line x1="308.09" y1="141.5" x2="308.09" y2="250.4" stroke="#ececec" stroke-width="0.6"/>
<line x1="310.60" y1="141.5" x2="310.60" y2="250.4" stroke="#ececec" stroke-width="0.6"/>
<line x1="327.10" y1="141.5" x2="327.10" y2="250.4" stroke="#ececec" stroke-width="0.6"/>
<line x1="201.00" y1="141.5" x2="201.00" y2="250.4" stroke="#e3e3e3" stroke-width="0.6"/>
<line x1="227.15" y1="141.5" x2="227.15" y2="250.4" stroke="#e3e3e3" stroke-width="0.6"/>
<line x1="255.80" y1="141.5" x2="255.80" y2="250.4" stroke="#e3e3e3" stroke-width="0.6"/>
<line x1="281.95" y1="141.5" x2="281.95" y2="250.4" stroke="#e3e3e3" stroke-width="0.6"/>
<line x1="310.60" y1="141.5" x2="310.60" y2="250.4" stroke="#e3e3e3" stroke-width="0.6"/>
<line x1="201.0" y1="234.84" x2="336.7" y2="234.84" stroke="#e3e3e3" stroke-width="0.6"/>
<line x1="201.0" y1="219.29" x2="336.7" y2="219.29" stroke="#e3e3e3" stroke-width="0.6"/>
<line x1="201.0" y1="203.73" x2="336.7" y2="203.73" stroke="#e3e3e3" stroke-width="0.6"/>
<line x1="201.0" y1="188.17" x2="336.7" y2="188.17" stroke="#e3e3e3" stroke-width="0.6"/>
<line x1="201.0" y1="172.61" x2="336.7" y2="172.61" stroke="#e3e3e3" stroke-width="0.6"/>
<line x1="201.0" y1="157.06" x2="336.7" y2="157.06" stroke="#e3e3e3" stroke-width="0.6"/>
<rect x="201.0" y="141.5" width="135.70" height="108.90" fill="none" stroke="#4a4a4a" stroke-width="0.55"/>
<line x1="217.50" y1="250.4" x2="217.50" y2="249.5" stroke="#4a4a4a" stroke-width="0.5"/>
<line x1="217.50" y1="141.5" x2="217.50" y2="142.4" stroke="#4a4a4a" stroke-width="0.5"/>
<line x1="227.15" y1="250.4" x2="227.15" y2="249.5" stroke="#4a4a4a" stroke-width="0.5"/>
<line x1="227.15" y1="141.5" x2="227.15" y2="142.4" stroke="#4a4a4a" stroke-width="0.5"/>
<line x1="233.99" y1="250.4" x2="233.99" y2="249.5" stroke="#4a4a4a" stroke-width="0.5"/>
<line x1="233.99" y1="141.5" x2="233.99" y2="142.4" stroke="#4a4a4a" stroke-width="0.5"/>
<line x1="239.30" y1="250.4" x2="239.30" y2="249.5" stroke="#4a4a4a" stroke-width="0.5"/>
<line x1="239.30" y1="141.5" x2="239.30" y2="142.4" stroke="#4a4a4a" stroke-width="0.5"/>
<line x1="243.64" y1="250.4" x2="243.64" y2="249.5" stroke="#4a4a4a" stroke-width="0.5"/>
<line x1="243.64" y1="141.5" x2="243.64" y2="142.4" stroke="#4a4a4a" stroke-width="0.5"/>
<line x1="247.31" y1="250.4" x2="247.31" y2="249.5" stroke="#4a4a4a" stroke-width="0.5"/>
<line x1="247.31" y1="141.5" x2="247.31" y2="142.4" stroke="#4a4a4a" stroke-width="0.5"/>
<line x1="250.49" y1="250.4" x2="250.49" y2="249.5" stroke="#4a4a4a" stroke-width="0.5"/>
<line x1="250.49" y1="141.5" x2="250.49" y2="142.4" stroke="#4a4a4a" stroke-width="0.5"/>
<line x1="253.29" y1="250.4" x2="253.29" y2="249.5" stroke="#4a4a4a" stroke-width="0.5"/>
<line x1="253.29" y1="141.5" x2="253.29" y2="142.4" stroke="#4a4a4a" stroke-width="0.5"/>
<line x1="255.80" y1="250.4" x2="255.80" y2="249.5" stroke="#4a4a4a" stroke-width="0.5"/>
<line x1="255.80" y1="141.5" x2="255.80" y2="142.4" stroke="#4a4a4a" stroke-width="0.5"/>
<line x1="272.30" y1="250.4" x2="272.30" y2="249.5" stroke="#4a4a4a" stroke-width="0.5"/>
<line x1="272.30" y1="141.5" x2="272.30" y2="142.4" stroke="#4a4a4a" stroke-width="0.5"/>
<line x1="281.95" y1="250.4" x2="281.95" y2="249.5" stroke="#4a4a4a" stroke-width="0.5"/>
<line x1="281.95" y1="141.5" x2="281.95" y2="142.4" stroke="#4a4a4a" stroke-width="0.5"/>
<line x1="288.79" y1="250.4" x2="288.79" y2="249.5" stroke="#4a4a4a" stroke-width="0.5"/>
<line x1="288.79" y1="141.5" x2="288.79" y2="142.4" stroke="#4a4a4a" stroke-width="0.5"/>
<line x1="294.10" y1="250.4" x2="294.10" y2="249.5" stroke="#4a4a4a" stroke-width="0.5"/>
<line x1="294.10" y1="141.5" x2="294.10" y2="142.4" stroke="#4a4a4a" stroke-width="0.5"/>
<line x1="298.44" y1="250.4" x2="298.44" y2="249.5" stroke="#4a4a4a" stroke-width="0.5"/>
<line x1="298.44" y1="141.5" x2="298.44" y2="142.4" stroke="#4a4a4a" stroke-width="0.5"/>
<line x1="302.11" y1="250.4" x2="302.11" y2="249.5" stroke="#4a4a4a" stroke-width="0.5"/>
<line x1="302.11" y1="141.5" x2="302.11" y2="142.4" stroke="#4a4a4a" stroke-width="0.5"/>
<line x1="305.29" y1="250.4" x2="305.29" y2="249.5" stroke="#4a4a4a" stroke-width="0.5"/>
<line x1="305.29" y1="141.5" x2="305.29" y2="142.4" stroke="#4a4a4a" stroke-width="0.5"/>
<line x1="308.09" y1="250.4" x2="308.09" y2="249.5" stroke="#4a4a4a" stroke-width="0.5"/>
<line x1="308.09" y1="141.5" x2="308.09" y2="142.4" stroke="#4a4a4a" stroke-width="0.5"/>
<line x1="310.60" y1="250.4" x2="310.60" y2="249.5" stroke="#4a4a4a" stroke-width="0.5"/>
<line x1="310.60" y1="141.5" x2="310.60" y2="142.4" stroke="#4a4a4a" stroke-width="0.5"/>
<line x1="327.10" y1="250.4" x2="327.10" y2="249.5" stroke="#4a4a4a" stroke-width="0.5"/>
<line x1="327.10" y1="141.5" x2="327.10" y2="142.4" stroke="#4a4a4a" stroke-width="0.5"/>
<line x1="201.00" y1="250.4" x2="201.00" y2="249.0" stroke="#4a4a4a" stroke-width="0.6"/>
<line x1="201.00" y1="141.5" x2="201.00" y2="142.9" stroke="#4a4a4a" stroke-width="0.6"/>
<line x1="227.15" y1="250.4" x2="227.15" y2="249.0" stroke="#4a4a4a" stroke-width="0.6"/>
<line x1="227.15" y1="141.5" x2="227.15" y2="142.9" stroke="#4a4a4a" stroke-width="0.6"/>
<line x1="255.80" y1="250.4" x2="255.80" y2="249.0" stroke="#4a4a4a" stroke-width="0.6"/>
<line x1="255.80" y1="141.5" x2="255.80" y2="142.9" stroke="#4a4a4a" stroke-width="0.6"/>
<line x1="281.95" y1="250.4" x2="281.95" y2="249.0" stroke="#4a4a4a" stroke-width="0.6"/>
<line x1="281.95" y1="141.5" x2="281.95" y2="142.9" stroke="#4a4a4a" stroke-width="0.6"/>
<line x1="310.60" y1="250.4" x2="310.60" y2="249.0" stroke="#4a4a4a" stroke-width="0.6"/>
<line x1="310.60" y1="141.5" x2="310.60" y2="142.9" stroke="#4a4a4a" stroke-width="0.6"/>
<line x1="201.0" y1="250.40" x2="202.4" y2="250.40" stroke="#4a4a4a" stroke-width="0.6"/>
<line x1="336.7" y1="250.40" x2="335.3" y2="250.40" stroke="#4a4a4a" stroke-width="0.6"/>
<line x1="201.0" y1="234.84" x2="202.4" y2="234.84" stroke="#4a4a4a" stroke-width="0.6"/>
<line x1="336.7" y1="234.84" x2="335.3" y2="234.84" stroke="#4a4a4a" stroke-width="0.6"/>
<line x1="201.0" y1="219.29" x2="202.4" y2="219.29" stroke="#4a4a4a" stroke-width="0.6"/>
<line x1="336.7" y1="219.29" x2="335.3" y2="219.29" stroke="#4a4a4a" stroke-width="0.6"/>
<line x1="201.0" y1="203.73" x2="202.4" y2="203.73" stroke="#4a4a4a" stroke-width="0.6"/>
<line x1="336.7" y1="203.73" x2="335.3" y2="203.73" stroke="#4a4a4a" stroke-width="0.6"/>
<line x1="201.0" y1="188.17" x2="202.4" y2="188.17" stroke="#4a4a4a" stroke-width="0.6"/>
<line x1="336.7" y1="188.17" x2="335.3" y2="188.17" stroke="#4a4a4a" stroke-width="0.6"/>
<line x1="201.0" y1="172.61" x2="202.4" y2="172.61" stroke="#4a4a4a" stroke-width="0.6"/>
<line x1="336.7" y1="172.61" x2="335.3" y2="172.61" stroke="#4a4a4a" stroke-width="0.6"/>
<line x1="201.0" y1="157.06" x2="202.4" y2="157.06" stroke="#4a4a4a" stroke-width="0.6"/>
<line x1="336.7" y1="157.06" x2="335.3" y2="157.06" stroke="#4a4a4a" stroke-width="0.6"/>
<line x1="201.0" y1="141.50" x2="202.4" y2="141.50" stroke="#4a4a4a" stroke-width="0.6"/>
<line x1="336.7" y1="141.50" x2="335.3" y2="141.50" stroke="#4a4a4a" stroke-width="0.6"/>
<text x="201.00" y="261.80" font-size="8.3" text-anchor="middle" font-family="Liberation Serif" font-weight="bold">1</text>
<text x="227.15" y="261.80" font-size="8.3" text-anchor="middle" font-family="Liberation Serif" font-weight="bold">3</text>
<text x="255.80" y="261.80" font-size="8.3" text-anchor="middle" font-family="Liberation Serif" font-weight="bold">10</text>
<text x="281.95" y="261.80" font-size="8.3" text-anchor="middle" font-family="Liberation Serif" font-weight="bold">30</text>
<text x="310.60" y="261.80" font-size="8.3" text-anchor="middle" font-family="Liberation Serif" font-weight="bold">100</text>
<text x="197.90" y="253.90" font-size="8.3" text-anchor="end" font-family="Liberation Serif" font-weight="bold">0</text>
<text x="197.90" y="238.34" font-size="8.3" text-anchor="end" font-family="Liberation Serif" font-weight="bold">2</text>
<text x="197.90" y="222.79" font-size="8.3" text-anchor="end" font-family="Liberation Serif" font-weight="bold">4</text>
<text x="197.90" y="207.23" font-size="8.3" text-anchor="end" font-family="Liberation Serif" font-weight="bold">6</text>
<text x="197.90" y="191.67" font-size="8.3" text-anchor="end" font-family="Liberation Serif" font-weight="bold">8</text>
<text x="197.90" y="176.11" font-size="8.3" text-anchor="end" font-family="Liberation Serif" font-weight="bold">10</text>
<text x="197.90" y="160.56" font-size="8.3" text-anchor="end" font-family="Liberation Serif" font-weight="bold">12</text>
<text x="197.90" y="145.00" font-size="8.3" text-anchor="end" font-family="Liberation Serif" font-weight="bold">14</text>
<text x="202.50" y="247.00" font-size="10.8" font-family="Liberation Serif" font-weight="bold">(f)</text>
<line x1="391.00" y1="141.5" x2="391.00" y2="250.4" stroke="#ececec" stroke-width="0.6"/>
<line x1="400.65" y1="141.5" x2="400.65" y2="250.4" stroke="#ececec" stroke-width="0.6"/>
<line x1="407.49" y1="141.5" x2="407.49" y2="250.4" stroke="#ececec" stroke-width="0.6"/>
<line x1="412.80" y1="141.5" x2="412.80" y2="250.4" stroke="#ececec" stroke-width="0.6"/>
<line x1="417.14" y1="141.5" x2="417.14" y2="250.4" stroke="#ececec" stroke-width="0.6"/>
<line x1="420.81" y1="141.5" x2="420.81" y2="250.4" stroke="#ececec" stroke-width="0.6"/>
<line x1="423.99" y1="141.5" x2="423.99" y2="250.4" stroke="#ececec" stroke-width="0.6"/>
<line x1="426.79" y1="141.5" x2="426.79" y2="250.4" stroke="#ececec" stroke-width="0.6"/>
<line x1="429.30" y1="141.5" x2="429.30" y2="250.4" stroke="#ececec" stroke-width="0.6"/>
<line x1="445.80" y1="141.5" x2="445.80" y2="250.4" stroke="#ececec" stroke-width="0.6"/>
<line x1="455.45" y1="141.5" x2="455.45" y2="250.4" stroke="#ececec" stroke-width="0.6"/>
<line x1="462.29" y1="141.5" x2="462.29" y2="250.4" stroke="#ececec" stroke-width="0.6"/>
<line x1="467.60" y1="141.5" x2="467.60" y2="250.4" stroke="#ececec" stroke-width="0.6"/>
<line x1="471.94" y1="141.5" x2="471.94" y2="250.4" stroke="#ececec" stroke-width="0.6"/>
<line x1="475.61" y1="141.5" x2="475.61" y2="250.4" stroke="#ececec" stroke-width="0.6"/>
<line x1="478.79" y1="141.5" x2="478.79" y2="250.4" stroke="#ececec" stroke-width="0.6"/>
<line x1="481.59" y1="141.5" x2="481.59" y2="250.4" stroke="#ececec" stroke-width="0.6"/>
<line x1="484.10" y1="141.5" x2="484.10" y2="250.4" stroke="#ececec" stroke-width="0.6"/>
<line x1="500.60" y1="141.5" x2="500.60" y2="250.4" stroke="#ececec" stroke-width="0.6"/>
<line x1="374.50" y1="141.5" x2="374.50" y2="250.4" stroke="#e3e3e3" stroke-width="0.6"/>
<line x1="400.65" y1="141.5" x2="400.65" y2="250.4" stroke="#e3e3e3" stroke-width="0.6"/>
<line x1="429.30" y1="141.5" x2="429.30" y2="250.4" stroke="#e3e3e3" stroke-width="0.6"/>
<line x1="455.45" y1="141.5" x2="455.45" y2="250.4" stroke="#e3e3e3" stroke-width="0.6"/>
<line x1="484.10" y1="141.5" x2="484.10" y2="250.4" stroke="#e3e3e3" stroke-width="0.6"/>
<line x1="374.5" y1="237.17" x2="510.2" y2="237.17" stroke="#ececec" stroke-width="0.6"/>
<line x1="374.5" y1="229.42" x2="510.2" y2="229.42" stroke="#ececec" stroke-width="0.6"/>
<line x1="374.5" y1="223.93" x2="510.2" y2="223.93" stroke="#ececec" stroke-width="0.6"/>
<line x1="374.5" y1="219.67" x2="510.2" y2="219.67" stroke="#ececec" stroke-width="0.6"/>
<line x1="374.5" y1="216.19" x2="510.2" y2="216.19" stroke="#ececec" stroke-width="0.6"/>
<line x1="374.5" y1="213.25" x2="510.2" y2="213.25" stroke="#ececec" stroke-width="0.6"/>
<line x1="374.5" y1="210.70" x2="510.2" y2="210.70" stroke="#ececec" stroke-width="0.6"/>
<line x1="374.5" y1="208.45" x2="510.2" y2="208.45" stroke="#ececec" stroke-width="0.6"/>
<line x1="374.5" y1="206.44" x2="510.2" y2="206.44" stroke="#ececec" stroke-width="0.6"/>
<line x1="374.5" y1="193.20" x2="510.2" y2="193.20" stroke="#ececec" stroke-width="0.6"/>
<line x1="374.5" y1="185.46" x2="510.2" y2="185.46" stroke="#ececec" stroke-width="0.6"/>
<line x1="374.5" y1="179.97" x2="510.2" y2="179.97" stroke="#ececec" stroke-width="0.6"/>
<line x1="374.5" y1="175.71" x2="510.2" y2="175.71" stroke="#ececec" stroke-width="0.6"/>
<line x1="374.5" y1="172.23" x2="510.2" y2="172.23" stroke="#ececec" stroke-width="0.6"/>
<line x1="374.5" y1="169.29" x2="510.2" y2="169.29" stroke="#ececec" stroke-width="0.6"/>
<line x1="374.5" y1="166.74" x2="510.2" y2="166.74" stroke="#ececec" stroke-width="0.6"/>
<line x1="374.5" y1="164.49" x2="510.2" y2="164.49" stroke="#ececec" stroke-width="0.6"/>
<line x1="374.5" y1="162.48" x2="510.2" y2="162.48" stroke="#ececec" stroke-width="0.6"/>
<line x1="374.5" y1="149.24" x2="510.2" y2="149.24" stroke="#ececec" stroke-width="0.6"/>
<line x1="374.5" y1="206.44" x2="510.2" y2="206.44" stroke="#e3e3e3" stroke-width="0.6"/>
<line x1="374.5" y1="185.46" x2="510.2" y2="185.46" stroke="#e3e3e3" stroke-width="0.6"/>
<line x1="374.5" y1="162.48" x2="510.2" y2="162.48" stroke="#e3e3e3" stroke-width="0.6"/>
<line x1="374.5" y1="149.24" x2="510.2" y2="149.24" stroke="#e3e3e3" stroke-width="0.6"/>
<rect x="374.5" y="141.5" width="135.70" height="108.90" fill="none" stroke="#4a4a4a" stroke-width="0.55"/>
<line x1="391.00" y1="250.4" x2="391.00" y2="249.5" stroke="#4a4a4a" stroke-width="0.5"/>
<line x1="391.00" y1="141.5" x2="391.00" y2="142.4" stroke="#4a4a4a" stroke-width="0.5"/>
<line x1="400.65" y1="250.4" x2="400.65" y2="249.5" stroke="#4a4a4a" stroke-width="0.5"/>
<line x1="400.65" y1="141.5" x2="400.65" y2="142.4" stroke="#4a4a4a" stroke-width="0.5"/>
<line x1="407.49" y1="250.4" x2="407.49" y2="249.5" stroke="#4a4a4a" stroke-width="0.5"/>
<line x1="407.49" y1="141.5" x2="407.49" y2="142.4" stroke="#4a4a4a" stroke-width="0.5"/>
<line x1="412.80" y1="250.4" x2="412.80" y2="249.5" stroke="#4a4a4a" stroke-width="0.5"/>
<line x1="412.80" y1="141.5" x2="412.80" y2="142.4" stroke="#4a4a4a" stroke-width="0.5"/>
<line x1="417.14" y1="250.4" x2="417.14" y2="249.5" stroke="#4a4a4a" stroke-width="0.5"/>
<line x1="417.14" y1="141.5" x2="417.14" y2="142.4" stroke="#4a4a4a" stroke-width="0.5"/>
<line x1="420.81" y1="250.4" x2="420.81" y2="249.5" stroke="#4a4a4a" stroke-width="0.5"/>
<line x1="420.81" y1="141.5" x2="420.81" y2="142.4" stroke="#4a4a4a" stroke-width="0.5"/>
<line x1="423.99" y1="250.4" x2="423.99" y2="249.5" stroke="#4a4a4a" stroke-width="0.5"/>
<line x1="423.99" y1="141.5" x2="423.99" y2="142.4" stroke="#4a4a4a" stroke-width="0.5"/>
<line x1="426.79" y1="250.4" x2="426.79" y2="249.5" stroke="#4a4a4a" stroke-width="0.5"/>
<line x1="426.79" y1="141.5" x2="426.79" y2="142.4" stroke="#4a4a4a" stroke-width="0.5"/>
<line x1="429.30" y1="250.4" x2="429.30" y2="249.5" stroke="#4a4a4a" stroke-width="0.5"/>
<line x1="429.30" y1="141.5" x2="429.30" y2="142.4" stroke="#4a4a4a" stroke-width="0.5"/>
<line x1="445.80" y1="250.4" x2="445.80" y2="249.5" stroke="#4a4a4a" stroke-width="0.5"/>
<line x1="445.80" y1="141.5" x2="445.80" y2="142.4" stroke="#4a4a4a" stroke-width="0.5"/>
<line x1="455.45" y1="250.4" x2="455.45" y2="249.5" stroke="#4a4a4a" stroke-width="0.5"/>
<line x1="455.45" y1="141.5" x2="455.45" y2="142.4" stroke="#4a4a4a" stroke-width="0.5"/>
<line x1="462.29" y1="250.4" x2="462.29" y2="249.5" stroke="#4a4a4a" stroke-width="0.5"/>
<line x1="462.29" y1="141.5" x2="462.29" y2="142.4" stroke="#4a4a4a" stroke-width="0.5"/>
<line x1="467.60" y1="250.4" x2="467.60" y2="249.5" stroke="#4a4a4a" stroke-width="0.5"/>
<line x1="467.60" y1="141.5" x2="467.60" y2="142.4" stroke="#4a4a4a" stroke-width="0.5"/>
<line x1="471.94" y1="250.4" x2="471.94" y2="249.5" stroke="#4a4a4a" stroke-width="0.5"/>
<line x1="471.94" y1="141.5" x2="471.94" y2="142.4" stroke="#4a4a4a" stroke-width="0.5"/>
<line x1="475.61" y1="250.4" x2="475.61" y2="249.5" stroke="#4a4a4a" stroke-width="0.5"/>
<line x1="475.61" y1="141.5" x2="475.61" y2="142.4" stroke="#4a4a4a" stroke-width="0.5"/>
<line x1="478.79" y1="250.4" x2="478.79" y2="249.5" stroke="#4a4a4a" stroke-width="0.5"/>
<line x1="478.79" y1="141.5" x2="478.79" y2="142.4" stroke="#4a4a4a" stroke-width="0.5"/>
<line x1="481.59" y1="250.4" x2="481.59" y2="249.5" stroke="#4a4a4a" stroke-width="0.5"/>
<line x1="481.59" y1="141.5" x2="481.59" y2="142.4" stroke="#4a4a4a" stroke-width="0.5"/>
<line x1="484.10" y1="250.4" x2="484.10" y2="249.5" stroke="#4a4a4a" stroke-width="0.5"/>
<line x1="484.10" y1="141.5" x2="484.10" y2="142.4" stroke="#4a4a4a" stroke-width="0.5"/>
<line x1="500.60" y1="250.4" x2="500.60" y2="249.5" stroke="#4a4a4a" stroke-width="0.5"/>
<line x1="500.60" y1="141.5" x2="500.60" y2="142.4" stroke="#4a4a4a" stroke-width="0.5"/>
<line x1="374.5" y1="237.17" x2="375.4" y2="237.17" stroke="#4a4a4a" stroke-width="0.5"/>
<line x1="510.2" y1="237.17" x2="509.3" y2="237.17" stroke="#4a4a4a" stroke-width="0.5"/>
<line x1="374.5" y1="229.42" x2="375.4" y2="229.42" stroke="#4a4a4a" stroke-width="0.5"/>
<line x1="510.2" y1="229.42" x2="509.3" y2="229.42" stroke="#4a4a4a" stroke-width="0.5"/>
<line x1="374.5" y1="223.93" x2="375.4" y2="223.93" stroke="#4a4a4a" stroke-width="0.5"/>
<line x1="510.2" y1="223.93" x2="509.3" y2="223.93" stroke="#4a4a4a" stroke-width="0.5"/>
<line x1="374.5" y1="219.67" x2="375.4" y2="219.67" stroke="#4a4a4a" stroke-width="0.5"/>
<line x1="510.2" y1="219.67" x2="509.3" y2="219.67" stroke="#4a4a4a" stroke-width="0.5"/>
<line x1="374.5" y1="216.19" x2="375.4" y2="216.19" stroke="#4a4a4a" stroke-width="0.5"/>
<line x1="510.2" y1="216.19" x2="509.3" y2="216.19" stroke="#4a4a4a" stroke-width="0.5"/>
<line x1="374.5" y1="213.25" x2="375.4" y2="213.25" stroke="#4a4a4a" stroke-width="0.5"/>
<line x1="510.2" y1="213.25" x2="509.3" y2="213.25" stroke="#4a4a4a" stroke-width="0.5"/>
<line x1="374.5" y1="210.70" x2="375.4" y2="210.70" stroke="#4a4a4a" stroke-width="0.5"/>
<line x1="510.2" y1="210.70" x2="509.3" y2="210.70" stroke="#4a4a4a" stroke-width="0.5"/>
<line x1="374.5" y1="208.45" x2="375.4" y2="208.45" stroke="#4a4a4a" stroke-width="0.5"/>
<line x1="510.2" y1="208.45" x2="509.3" y2="208.45" stroke="#4a4a4a" stroke-width="0.5"/>
<line x1="374.5" y1="206.44" x2="375.4" y2="206.44" stroke="#4a4a4a" stroke-width="0.5"/>
<line x1="510.2" y1="206.44" x2="509.3" y2="206.44" stroke="#4a4a4a" stroke-width="0.5"/>
<line x1="374.5" y1="193.20" x2="375.4" y2="193.20" stroke="#4a4a4a" stroke-width="0.5"/>
<line x1="510.2" y1="193.20" x2="509.3" y2="193.20" stroke="#4a4a4a" stroke-width="0.5"/>
<line x1="374.5" y1="185.46" x2="375.4" y2="185.46" stroke="#4a4a4a" stroke-width="0.5"/>
<line x1="510.2" y1="185.46" x2="509.3" y2="185.46" stroke="#4a4a4a" stroke-width="0.5"/>
<line x1="374.5" y1="179.97" x2="375.4" y2="179.97" stroke="#4a4a4a" stroke-width="0.5"/>
<line x1="510.2" y1="179.97" x2="509.3" y2="179.97" stroke="#4a4a4a" stroke-width="0.5"/>
<line x1="374.5" y1="175.71" x2="375.4" y2="175.71" stroke="#4a4a4a" stroke-width="0.5"/>
<line x1="510.2" y1="175.71" x2="509.3" y2="175.71" stroke="#4a4a4a" stroke-width="0.5"/>
<line x1="374.5" y1="172.23" x2="375.4" y2="172.23" stroke="#4a4a4a" stroke-width="0.5"/>
<line x1="510.2" y1="172.23" x2="509.3" y2="172.23" stroke="#4a4a4a" stroke-width="0.5"/>
<line x1="374.5" y1="169.29" x2="375.4" y2="169.29" stroke="#4a4a4a" stroke-width="0.5"/>
<line x1="510.2" y1="169.29" x2="509.3" y2="169.29" stroke="#4a4a4a" stroke-width="0.5"/>
<line x1="374.5" y1="166.74" x2="375.4" y2="166.74" stroke="#4a4a4a" stroke-width="0.5"/>
<line x1="510.2" y1="166.74" x2="509.3" y2="166.74" stroke="#4a4a4a" stroke-width="0.5"/>
<line x1="374.5" y1="164.49" x2="375.4" y2="164.49" stroke="#4a4a4a" stroke-width="0.5"/>
<line x1="510.2" y1="164.49" x2="509.3" y2="164.49" stroke="#4a4a4a" stroke-width="0.5"/>
<line x1="374.5" y1="162.48" x2="375.4" y2="162.48" stroke="#4a4a4a" stroke-width="0.5"/>
<line x1="510.2" y1="162.48" x2="509.3" y2="162.48" stroke="#4a4a4a" stroke-width="0.5"/>
<line x1="374.5" y1="149.24" x2="375.4" y2="149.24" stroke="#4a4a4a" stroke-width="0.5"/>
<line x1="510.2" y1="149.24" x2="509.3" y2="149.24" stroke="#4a4a4a" stroke-width="0.5"/>
<line x1="374.50" y1="250.4" x2="374.50" y2="249.0" stroke="#4a4a4a" stroke-width="0.6"/>
<line x1="374.50" y1="141.5" x2="374.50" y2="142.9" stroke="#4a4a4a" stroke-width="0.6"/>
<line x1="400.65" y1="250.4" x2="400.65" y2="249.0" stroke="#4a4a4a" stroke-width="0.6"/>
<line x1="400.65" y1="141.5" x2="400.65" y2="142.9" stroke="#4a4a4a" stroke-width="0.6"/>
<line x1="429.30" y1="250.4" x2="429.30" y2="249.0" stroke="#4a4a4a" stroke-width="0.6"/>
<line x1="429.30" y1="141.5" x2="429.30" y2="142.9" stroke="#4a4a4a" stroke-width="0.6"/>
<line x1="455.45" y1="250.4" x2="455.45" y2="249.0" stroke="#4a4a4a" stroke-width="0.6"/>
<line x1="455.45" y1="141.5" x2="455.45" y2="142.9" stroke="#4a4a4a" stroke-width="0.6"/>
<line x1="484.10" y1="250.4" x2="484.10" y2="249.0" stroke="#4a4a4a" stroke-width="0.6"/>
<line x1="484.10" y1="141.5" x2="484.10" y2="142.9" stroke="#4a4a4a" stroke-width="0.6"/>
<line x1="374.5" y1="250.40" x2="375.9" y2="250.40" stroke="#4a4a4a" stroke-width="0.6"/>
<line x1="510.2" y1="250.40" x2="508.8" y2="250.40" stroke="#4a4a4a" stroke-width="0.6"/>
<line x1="374.5" y1="206.44" x2="375.9" y2="206.44" stroke="#4a4a4a" stroke-width="0.6"/>
<line x1="510.2" y1="206.44" x2="508.8" y2="206.44" stroke="#4a4a4a" stroke-width="0.6"/>
<line x1="374.5" y1="185.46" x2="375.9" y2="185.46" stroke="#4a4a4a" stroke-width="0.6"/>
<line x1="510.2" y1="185.46" x2="508.8" y2="185.46" stroke="#4a4a4a" stroke-width="0.6"/>
<line x1="374.5" y1="162.48" x2="375.9" y2="162.48" stroke="#4a4a4a" stroke-width="0.6"/>
<line x1="510.2" y1="162.48" x2="508.8" y2="162.48" stroke="#4a4a4a" stroke-width="0.6"/>
<line x1="374.5" y1="149.24" x2="375.9" y2="149.24" stroke="#4a4a4a" stroke-width="0.6"/>
<line x1="510.2" y1="149.24" x2="508.8" y2="149.24" stroke="#4a4a4a" stroke-width="0.6"/>
<line x1="374.5" y1="141.50" x2="375.9" y2="141.50" stroke="#4a4a4a" stroke-width="0.6"/>
<line x1="510.2" y1="141.50" x2="508.8" y2="141.50" stroke="#4a4a4a" stroke-width="0.6"/>
<text x="374.50" y="261.80" font-size="8.3" text-anchor="middle" font-family="Liberation Serif" font-weight="bold">1</text>
<text x="400.65" y="261.80" font-size="8.3" text-anchor="middle" font-family="Liberation Serif" font-weight="bold">3</text>
<text x="429.30" y="261.80" font-size="8.3" text-anchor="middle" font-family="Liberation Serif" font-weight="bold">10</text>
<text x="455.45" y="261.80" font-size="8.3" text-anchor="middle" font-family="Liberation Serif" font-weight="bold">30</text>
<text x="484.10" y="261.80" font-size="8.3" text-anchor="middle" font-family="Liberation Serif" font-weight="bold">100</text>
<text x="371.40" y="253.90" font-size="8.3" text-anchor="end" font-family="Liberation Serif" font-weight="bold">0.01</text>
<text x="371.40" y="209.94" font-size="8.3" text-anchor="end" font-family="Liberation Serif" font-weight="bold">0.1</text>
<text x="371.40" y="188.96" font-size="8.3" text-anchor="end" font-family="Liberation Serif" font-weight="bold">0.3</text>
<text x="371.40" y="165.98" font-size="8.3" text-anchor="end" font-family="Liberation Serif" font-weight="bold">1</text>
<text x="371.40" y="152.74" font-size="8.3" text-anchor="end" font-family="Liberation Serif" font-weight="bold">2</text>
<text x="371.40" y="145.00" font-size="8.3" text-anchor="end" font-family="Liberation Serif" font-weight="bold">3</text>
<text x="376.00" y="247.00" font-size="10.8" font-family="Liberation Serif" font-weight="bold">(g)</text>
<line x1="565.10" y1="141.5" x2="565.10" y2="250.4" stroke="#ececec" stroke-width="0.6"/>
<line x1="574.75" y1="141.5" x2="574.75" y2="250.4" stroke="#ececec" stroke-width="0.6"/>
<line x1="581.59" y1="141.5" x2="581.59" y2="250.4" stroke="#ececec" stroke-width="0.6"/>
<line x1="586.90" y1="141.5" x2="586.90" y2="250.4" stroke="#ececec" stroke-width="0.6"/>
<line x1="591.24" y1="141.5" x2="591.24" y2="250.4" stroke="#ececec" stroke-width="0.6"/>
<line x1="594.91" y1="141.5" x2="594.91" y2="250.4" stroke="#ececec" stroke-width="0.6"/>
<line x1="598.09" y1="141.5" x2="598.09" y2="250.4" stroke="#ececec" stroke-width="0.6"/>
<line x1="600.89" y1="141.5" x2="600.89" y2="250.4" stroke="#ececec" stroke-width="0.6"/>
<line x1="603.40" y1="141.5" x2="603.40" y2="250.4" stroke="#ececec" stroke-width="0.6"/>
<line x1="619.90" y1="141.5" x2="619.90" y2="250.4" stroke="#ececec" stroke-width="0.6"/>
<line x1="629.55" y1="141.5" x2="629.55" y2="250.4" stroke="#ececec" stroke-width="0.6"/>
<line x1="636.39" y1="141.5" x2="636.39" y2="250.4" stroke="#ececec" stroke-width="0.6"/>
<line x1="641.70" y1="141.5" x2="641.70" y2="250.4" stroke="#ececec" stroke-width="0.6"/>
<line x1="646.04" y1="141.5" x2="646.04" y2="250.4" stroke="#ececec" stroke-width="0.6"/>
<line x1="649.71" y1="141.5" x2="649.71" y2="250.4" stroke="#ececec" stroke-width="0.6"/>
<line x1="652.89" y1="141.5" x2="652.89" y2="250.4" stroke="#ececec" stroke-width="0.6"/>
<line x1="655.69" y1="141.5" x2="655.69" y2="250.4" stroke="#ececec" stroke-width="0.6"/>
<line x1="658.20" y1="141.5" x2="658.20" y2="250.4" stroke="#ececec" stroke-width="0.6"/>
<line x1="674.70" y1="141.5" x2="674.70" y2="250.4" stroke="#ececec" stroke-width="0.6"/>
<line x1="548.60" y1="141.5" x2="548.60" y2="250.4" stroke="#e3e3e3" stroke-width="0.6"/>
<line x1="574.75" y1="141.5" x2="574.75" y2="250.4" stroke="#e3e3e3" stroke-width="0.6"/>
<line x1="603.40" y1="141.5" x2="603.40" y2="250.4" stroke="#e3e3e3" stroke-width="0.6"/>
<line x1="629.55" y1="141.5" x2="629.55" y2="250.4" stroke="#e3e3e3" stroke-width="0.6"/>
<line x1="658.20" y1="141.5" x2="658.20" y2="250.4" stroke="#e3e3e3" stroke-width="0.6"/>
<line x1="548.6" y1="240.47" x2="684.3" y2="240.47" stroke="#ececec" stroke-width="0.6"/>
<line x1="548.6" y1="234.66" x2="684.3" y2="234.66" stroke="#ececec" stroke-width="0.6"/>
<line x1="548.6" y1="230.54" x2="684.3" y2="230.54" stroke="#ececec" stroke-width="0.6"/>
<line x1="548.6" y1="227.34" x2="684.3" y2="227.34" stroke="#ececec" stroke-width="0.6"/>
<line x1="548.6" y1="224.73" x2="684.3" y2="224.73" stroke="#ececec" stroke-width="0.6"/>
<line x1="548.6" y1="222.52" x2="684.3" y2="222.52" stroke="#ececec" stroke-width="0.6"/>
<line x1="548.6" y1="220.61" x2="684.3" y2="220.61" stroke="#ececec" stroke-width="0.6"/>
<line x1="548.6" y1="218.92" x2="684.3" y2="218.92" stroke="#ececec" stroke-width="0.6"/>
<line x1="548.6" y1="217.41" x2="684.3" y2="217.41" stroke="#ececec" stroke-width="0.6"/>
<line x1="548.6" y1="207.48" x2="684.3" y2="207.48" stroke="#ececec" stroke-width="0.6"/>
<line x1="548.6" y1="201.67" x2="684.3" y2="201.67" stroke="#ececec" stroke-width="0.6"/>
<line x1="548.6" y1="197.55" x2="684.3" y2="197.55" stroke="#ececec" stroke-width="0.6"/>
<line x1="548.6" y1="194.35" x2="684.3" y2="194.35" stroke="#ececec" stroke-width="0.6"/>
<line x1="548.6" y1="191.74" x2="684.3" y2="191.74" stroke="#ececec" stroke-width="0.6"/>
<line x1="548.6" y1="189.53" x2="684.3" y2="189.53" stroke="#ececec" stroke-width="0.6"/>
<line x1="548.6" y1="187.62" x2="684.3" y2="187.62" stroke="#ececec" stroke-width="0.6"/>
<line x1="548.6" y1="185.93" x2="684.3" y2="185.93" stroke="#ececec" stroke-width="0.6"/>
<line x1="548.6" y1="184.42" x2="684.3" y2="184.42" stroke="#ececec" stroke-width="0.6"/>
<line x1="548.6" y1="174.49" x2="684.3" y2="174.49" stroke="#ececec" stroke-width="0.6"/>
<line x1="548.6" y1="168.68" x2="684.3" y2="168.68" stroke="#ececec" stroke-width="0.6"/>
<line x1="548.6" y1="164.56" x2="684.3" y2="164.56" stroke="#ececec" stroke-width="0.6"/>
<line x1="548.6" y1="161.36" x2="684.3" y2="161.36" stroke="#ececec" stroke-width="0.6"/>
<line x1="548.6" y1="158.75" x2="684.3" y2="158.75" stroke="#ececec" stroke-width="0.6"/>
<line x1="548.6" y1="156.54" x2="684.3" y2="156.54" stroke="#ececec" stroke-width="0.6"/>
<line x1="548.6" y1="154.63" x2="684.3" y2="154.63" stroke="#ececec" stroke-width="0.6"/>
<line x1="548.6" y1="152.94" x2="684.3" y2="152.94" stroke="#ececec" stroke-width="0.6"/>
<line x1="548.6" y1="151.43" x2="684.3" y2="151.43" stroke="#ececec" stroke-width="0.6"/>
<line x1="548.6" y1="217.41" x2="684.3" y2="217.41" stroke="#e3e3e3" stroke-width="0.6"/>
<line x1="548.6" y1="184.42" x2="684.3" y2="184.42" stroke="#e3e3e3" stroke-width="0.6"/>
<line x1="548.6" y1="168.68" x2="684.3" y2="168.68" stroke="#e3e3e3" stroke-width="0.6"/>
<line x1="548.6" y1="151.43" x2="684.3" y2="151.43" stroke="#e3e3e3" stroke-width="0.6"/>
<rect x="548.6" y="141.5" width="135.70" height="108.90" fill="none" stroke="#4a4a4a" stroke-width="0.55"/>
<line x1="565.10" y1="250.4" x2="565.10" y2="249.5" stroke="#4a4a4a" stroke-width="0.5"/>
<line x1="565.10" y1="141.5" x2="565.10" y2="142.4" stroke="#4a4a4a" stroke-width="0.5"/>
<line x1="574.75" y1="250.4" x2="574.75" y2="249.5" stroke="#4a4a4a" stroke-width="0.5"/>
<line x1="574.75" y1="141.5" x2="574.75" y2="142.4" stroke="#4a4a4a" stroke-width="0.5"/>
<line x1="581.59" y1="250.4" x2="581.59" y2="249.5" stroke="#4a4a4a" stroke-width="0.5"/>
<line x1="581.59" y1="141.5" x2="581.59" y2="142.4" stroke="#4a4a4a" stroke-width="0.5"/>
<line x1="586.90" y1="250.4" x2="586.90" y2="249.5" stroke="#4a4a4a" stroke-width="0.5"/>
<line x1="586.90" y1="141.5" x2="586.90" y2="142.4" stroke="#4a4a4a" stroke-width="0.5"/>
<line x1="591.24" y1="250.4" x2="591.24" y2="249.5" stroke="#4a4a4a" stroke-width="0.5"/>
<line x1="591.24" y1="141.5" x2="591.24" y2="142.4" stroke="#4a4a4a" stroke-width="0.5"/>
<line x1="594.91" y1="250.4" x2="594.91" y2="249.5" stroke="#4a4a4a" stroke-width="0.5"/>
<line x1="594.91" y1="141.5" x2="594.91" y2="142.4" stroke="#4a4a4a" stroke-width="0.5"/>
<line x1="598.09" y1="250.4" x2="598.09" y2="249.5" stroke="#4a4a4a" stroke-width="0.5"/>
<line x1="598.09" y1="141.5" x2="598.09" y2="142.4" stroke="#4a4a4a" stroke-width="0.5"/>
<line x1="600.89" y1="250.4" x2="600.89" y2="249.5" stroke="#4a4a4a" stroke-width="0.5"/>
<line x1="600.89" y1="141.5" x2="600.89" y2="142.4" stroke="#4a4a4a" stroke-width="0.5"/>
<line x1="603.40" y1="250.4" x2="603.40" y2="249.5" stroke="#4a4a4a" stroke-width="0.5"/>
<line x1="603.40" y1="141.5" x2="603.40" y2="142.4" stroke="#4a4a4a" stroke-width="0.5"/>
<line x1="619.90" y1="250.4" x2="619.90" y2="249.5" stroke="#4a4a4a" stroke-width="0.5"/>
<line x1="619.90" y1="141.5" x2="619.90" y2="142.4" stroke="#4a4a4a" stroke-width="0.5"/>
<line x1="629.55" y1="250.4" x2="629.55" y2="249.5" stroke="#4a4a4a" stroke-width="0.5"/>
<line x1="629.55" y1="141.5" x2="629.55" y2="142.4" stroke="#4a4a4a" stroke-width="0.5"/>
<line x1="636.39" y1="250.4" x2="636.39" y2="249.5" stroke="#4a4a4a" stroke-width="0.5"/>
<line x1="636.39" y1="141.5" x2="636.39" y2="142.4" stroke="#4a4a4a" stroke-width="0.5"/>
<line x1="641.70" y1="250.4" x2="641.70" y2="249.5" stroke="#4a4a4a" stroke-width="0.5"/>
<line x1="641.70" y1="141.5" x2="641.70" y2="142.4" stroke="#4a4a4a" stroke-width="0.5"/>
<line x1="646.04" y1="250.4" x2="646.04" y2="249.5" stroke="#4a4a4a" stroke-width="0.5"/>
<line x1="646.04" y1="141.5" x2="646.04" y2="142.4" stroke="#4a4a4a" stroke-width="0.5"/>
<line x1="649.71" y1="250.4" x2="649.71" y2="249.5" stroke="#4a4a4a" stroke-width="0.5"/>
<line x1="649.71" y1="141.5" x2="649.71" y2="142.4" stroke="#4a4a4a" stroke-width="0.5"/>
<line x1="652.89" y1="250.4" x2="652.89" y2="249.5" stroke="#4a4a4a" stroke-width="0.5"/>
<line x1="652.89" y1="141.5" x2="652.89" y2="142.4" stroke="#4a4a4a" stroke-width="0.5"/>
<line x1="655.69" y1="250.4" x2="655.69" y2="249.5" stroke="#4a4a4a" stroke-width="0.5"/>
<line x1="655.69" y1="141.5" x2="655.69" y2="142.4" stroke="#4a4a4a" stroke-width="0.5"/>
<line x1="658.20" y1="250.4" x2="658.20" y2="249.5" stroke="#4a4a4a" stroke-width="0.5"/>
<line x1="658.20" y1="141.5" x2="658.20" y2="142.4" stroke="#4a4a4a" stroke-width="0.5"/>
<line x1="674.70" y1="250.4" x2="674.70" y2="249.5" stroke="#4a4a4a" stroke-width="0.5"/>
<line x1="674.70" y1="141.5" x2="674.70" y2="142.4" stroke="#4a4a4a" stroke-width="0.5"/>
<line x1="548.6" y1="240.47" x2="549.5" y2="240.47" stroke="#4a4a4a" stroke-width="0.5"/>
<line x1="684.3" y1="240.47" x2="683.4" y2="240.47" stroke="#4a4a4a" stroke-width="0.5"/>
<line x1="548.6" y1="234.66" x2="549.5" y2="234.66" stroke="#4a4a4a" stroke-width="0.5"/>
<line x1="684.3" y1="234.66" x2="683.4" y2="234.66" stroke="#4a4a4a" stroke-width="0.5"/>
<line x1="548.6" y1="230.54" x2="549.5" y2="230.54" stroke="#4a4a4a" stroke-width="0.5"/>
<line x1="684.3" y1="230.54" x2="683.4" y2="230.54" stroke="#4a4a4a" stroke-width="0.5"/>
<line x1="548.6" y1="227.34" x2="549.5" y2="227.34" stroke="#4a4a4a" stroke-width="0.5"/>
<line x1="684.3" y1="227.34" x2="683.4" y2="227.34" stroke="#4a4a4a" stroke-width="0.5"/>
<line x1="548.6" y1="224.73" x2="549.5" y2="224.73" stroke="#4a4a4a" stroke-width="0.5"/>
<line x1="684.3" y1="224.73" x2="683.4" y2="224.73" stroke="#4a4a4a" stroke-width="0.5"/>
<line x1="548.6" y1="222.52" x2="549.5" y2="222.52" stroke="#4a4a4a" stroke-width="0.5"/>
<line x1="684.3" y1="222.52" x2="683.4" y2="222.52" stroke="#4a4a4a" stroke-width="0.5"/>
<line x1="548.6" y1="220.61" x2="549.5" y2="220.61" stroke="#4a4a4a" stroke-width="0.5"/>
<line x1="684.3" y1="220.61" x2="683.4" y2="220.61" stroke="#4a4a4a" stroke-width="0.5"/>
<line x1="548.6" y1="218.92" x2="549.5" y2="218.92" stroke="#4a4a4a" stroke-width="0.5"/>
<line x1="684.3" y1="218.92" x2="683.4" y2="218.92" stroke="#4a4a4a" stroke-width="0.5"/>
<line x1="548.6" y1="217.41" x2="549.5" y2="217.41" stroke="#4a4a4a" stroke-width="0.5"/>
<line x1="684.3" y1="217.41" x2="683.4" y2="217.41" stroke="#4a4a4a" stroke-width="0.5"/>
<line x1="548.6" y1="207.48" x2="549.5" y2="207.48" stroke="#4a4a4a" stroke-width="0.5"/>
<line x1="684.3" y1="207.48" x2="683.4" y2="207.48" stroke="#4a4a4a" stroke-width="0.5"/>
<line x1="548.6" y1="201.67" x2="549.5" y2="201.67" stroke="#4a4a4a" stroke-width="0.5"/>
<line x1="684.3" y1="201.67" x2="683.4" y2="201.67" stroke="#4a4a4a" stroke-width="0.5"/>
<line x1="548.6" y1="197.55" x2="549.5" y2="197.55" stroke="#4a4a4a" stroke-width="0.5"/>
<line x1="684.3" y1="197.55" x2="683.4" y2="197.55" stroke="#4a4a4a" stroke-width="0.5"/>
<line x1="548.6" y1="194.35" x2="549.5" y2="194.35" stroke="#4a4a4a" stroke-width="0.5"/>
<line x1="684.3" y1="194.35" x2="683.4" y2="194.35" stroke="#4a4a4a" stroke-width="0.5"/>
<line x1="548.6" y1="191.74" x2="549.5" y2="191.74" stroke="#4a4a4a" stroke-width="0.5"/>
<line x1="684.3" y1="191.74" x2="683.4" y2="191.74" stroke="#4a4a4a" stroke-width="0.5"/>
<line x1="548.6" y1="189.53" x2="549.5" y2="189.53" stroke="#4a4a4a" stroke-width="0.5"/>
<line x1="684.3" y1="189.53" x2="683.4" y2="189.53" stroke="#4a4a4a" stroke-width="0.5"/>
<line x1="548.6" y1="187.62" x2="549.5" y2="187.62" stroke="#4a4a4a" stroke-width="0.5"/>
<line x1="684.3" y1="187.62" x2="683.4" y2="187.62" stroke="#4a4a4a" stroke-width="0.5"/>
<line x1="548.6" y1="185.93" x2="549.5" y2="185.93" stroke="#4a4a4a" stroke-width="0.5"/>
<line x1="684.3" y1="185.93" x2="683.4" y2="185.93" stroke="#4a4a4a" stroke-width="0.5"/>
<line x1="548.6" y1="184.42" x2="549.5" y2="184.42" stroke="#4a4a4a" stroke-width="0.5"/>
<line x1="684.3" y1="184.42" x2="683.4" y2="184.42" stroke="#4a4a4a" stroke-width="0.5"/>
<line x1="548.6" y1="174.49" x2="549.5" y2="174.49" stroke="#4a4a4a" stroke-width="0.5"/>
<line x1="684.3" y1="174.49" x2="683.4" y2="174.49" stroke="#4a4a4a" stroke-width="0.5"/>
<line x1="548.6" y1="168.68" x2="549.5" y2="168.68" stroke="#4a4a4a" stroke-width="0.5"/>
<line x1="684.3" y1="168.68" x2="683.4" y2="168.68" stroke="#4a4a4a" stroke-width="0.5"/>
<line x1="548.6" y1="164.56" x2="549.5" y2="164.56" stroke="#4a4a4a" stroke-width="0.5"/>
<line x1="684.3" y1="164.56" x2="683.4" y2="164.56" stroke="#4a4a4a" stroke-width="0.5"/>
<line x1="548.6" y1="161.36" x2="549.5" y2="161.36" stroke="#4a4a4a" stroke-width="0.5"/>
<line x1="684.3" y1="161.36" x2="683.4" y2="161.36" stroke="#4a4a4a" stroke-width="0.5"/>
<line x1="548.6" y1="158.75" x2="549.5" y2="158.75" stroke="#4a4a4a" stroke-width="0.5"/>
<line x1="684.3" y1="158.75" x2="683.4" y2="158.75" stroke="#4a4a4a" stroke-width="0.5"/>
<line x1="548.6" y1="156.54" x2="549.5" y2="156.54" stroke="#4a4a4a" stroke-width="0.5"/>
<line x1="684.3" y1="156.54" x2="683.4" y2="156.54" stroke="#4a4a4a" stroke-width="0.5"/>
<line x1="548.6" y1="154.63" x2="549.5" y2="154.63" stroke="#4a4a4a" stroke-width="0.5"/>
<line x1="684.3" y1="154.63" x2="683.4" y2="154.63" stroke="#4a4a4a" stroke-width="0.5"/>
<line x1="548.6" y1="152.94" x2="549.5" y2="152.94" stroke="#4a4a4a" stroke-width="0.5"/>
<line x1="684.3" y1="152.94" x2="683.4" y2="152.94" stroke="#4a4a4a" stroke-width="0.5"/>
<line x1="548.6" y1="151.43" x2="549.5" y2="151.43" stroke="#4a4a4a" stroke-width="0.5"/>
<line x1="684.3" y1="151.43" x2="683.4" y2="151.43" stroke="#4a4a4a" stroke-width="0.5"/>
<line x1="548.60" y1="250.4" x2="548.60" y2="249.0" stroke="#4a4a4a" stroke-width="0.6"/>
<line x1="548.60" y1="141.5" x2="548.60" y2="142.9" stroke="#4a4a4a" stroke-width="0.6"/>
<line x1="574.75" y1="250.4" x2="574.75" y2="249.0" stroke="#4a4a4a" stroke-width="0.6"/>
<line x1="574.75" y1="141.5" x2="574.75" y2="142.9" stroke="#4a4a4a" stroke-width="0.6"/>
<line x1="603.40" y1="250.4" x2="603.40" y2="249.0" stroke="#4a4a4a" stroke-width="0.6"/>
<line x1="603.40" y1="141.5" x2="603.40" y2="142.9" stroke="#4a4a4a" stroke-width="0.6"/>
<line x1="629.55" y1="250.4" x2="629.55" y2="249.0" stroke="#4a4a4a" stroke-width="0.6"/>
<line x1="629.55" y1="141.5" x2="629.55" y2="142.9" stroke="#4a4a4a" stroke-width="0.6"/>
<line x1="658.20" y1="250.4" x2="658.20" y2="249.0" stroke="#4a4a4a" stroke-width="0.6"/>
<line x1="658.20" y1="141.5" x2="658.20" y2="142.9" stroke="#4a4a4a" stroke-width="0.6"/>
<line x1="548.6" y1="250.40" x2="550.0" y2="250.40" stroke="#4a4a4a" stroke-width="0.6"/>
<line x1="684.3" y1="250.40" x2="682.9" y2="250.40" stroke="#4a4a4a" stroke-width="0.6"/>
<line x1="548.6" y1="217.41" x2="550.0" y2="217.41" stroke="#4a4a4a" stroke-width="0.6"/>
<line x1="684.3" y1="217.41" x2="682.9" y2="217.41" stroke="#4a4a4a" stroke-width="0.6"/>
<line x1="548.6" y1="184.42" x2="550.0" y2="184.42" stroke="#4a4a4a" stroke-width="0.6"/>
<line x1="684.3" y1="184.42" x2="682.9" y2="184.42" stroke="#4a4a4a" stroke-width="0.6"/>
<line x1="548.6" y1="168.68" x2="550.0" y2="168.68" stroke="#4a4a4a" stroke-width="0.6"/>
<line x1="684.3" y1="168.68" x2="682.9" y2="168.68" stroke="#4a4a4a" stroke-width="0.6"/>
<line x1="548.6" y1="151.43" x2="550.0" y2="151.43" stroke="#4a4a4a" stroke-width="0.6"/>
<line x1="684.3" y1="151.43" x2="682.9" y2="151.43" stroke="#4a4a4a" stroke-width="0.6"/>
<line x1="548.6" y1="141.50" x2="550.0" y2="141.50" stroke="#4a4a4a" stroke-width="0.6"/>
<line x1="684.3" y1="141.50" x2="682.9" y2="141.50" stroke="#4a4a4a" stroke-width="0.6"/>
<text x="548.60" y="261.80" font-size="8.3" text-anchor="middle" font-family="Liberation Serif" font-weight="bold">1</text>
<text x="574.75" y="261.80" font-size="8.3" text-anchor="middle" font-family="Liberation Serif" font-weight="bold">3</text>
<text x="603.40" y="261.80" font-size="8.3" text-anchor="middle" font-family="Liberation Serif" font-weight="bold">10</text>
<text x="629.55" y="261.80" font-size="8.3" text-anchor="middle" font-family="Liberation Serif" font-weight="bold">30</text>
<text x="658.20" y="261.80" font-size="8.3" text-anchor="middle" font-family="Liberation Serif" font-weight="bold">100</text>
<text x="545.50" y="253.90" font-size="8.3" text-anchor="end" font-family="Liberation Serif" font-weight="bold">0.001</text>
<text x="545.50" y="220.91" font-size="8.3" text-anchor="end" font-family="Liberation Serif" font-weight="bold">0.01</text>
<text x="545.50" y="187.92" font-size="8.3" text-anchor="end" font-family="Liberation Serif" font-weight="bold">0.1</text>
<text x="545.50" y="172.18" font-size="8.3" text-anchor="end" font-family="Liberation Serif" font-weight="bold">0.3</text>
<text x="545.50" y="154.93" font-size="8.3" text-anchor="end" font-family="Liberation Serif" font-weight="bold">1</text>
<text x="545.50" y="145.00" font-size="8.3" text-anchor="end" font-family="Liberation Serif" font-weight="bold">2</text>
<text x="550.10" y="247.00" font-size="10.8" font-family="Liberation Serif" font-weight="bold">(h)</text>
<text xml:space="preserve" transform="translate(6.90,57.15) rotate(-90)" text-anchor="middle" font-size="9.46" font-family="Liberation Serif" font-weight="bold">BT of Core (K)</text>
<text xml:space="preserve" transform="translate(185.40,56.95) rotate(-90)" text-anchor="middle" font-size="9.27" font-family="Liberation Serif" font-weight="bold">Duration (h)</text>
<text xml:space="preserve" transform="translate(352.00,57.35) rotate(-90)" text-anchor="middle" font-size="10.00" font-family="Liberation Serif" font-weight="bold">Total Area  (×10<tspan dy="-0.63em" font-size="70%">6</tspan><tspan dy="0.44em"> km</tspan><tspan dy="-0.63em" font-size="70%">2</tspan><tspan dy="0.44em">)</tspan></text>
<text xml:space="preserve" transform="translate(522.00,56.95) rotate(-90)" text-anchor="middle" font-size="9.74" font-family="Liberation Serif" font-weight="bold">Rainfall Amount (km<tspan dy="-0.63em" font-size="70%">3</tspan><tspan dy="0.44em">)</tspan></text>
<text xml:space="preserve" transform="translate(6.90,195.35) rotate(-90)" text-anchor="middle" font-size="9.46" font-family="Liberation Serif" font-weight="bold">BT of Core (K)</text>
<text xml:space="preserve" transform="translate(185.40,195.15) rotate(-90)" text-anchor="middle" font-size="9.27" font-family="Liberation Serif" font-weight="bold">Duration (h)</text>
<text xml:space="preserve" transform="translate(352.00,195.55) rotate(-90)" text-anchor="middle" font-size="10.00" font-family="Liberation Serif" font-weight="bold">Total Area  (×10<tspan dy="-0.63em" font-size="70%">6</tspan><tspan dy="0.44em"> km</tspan><tspan dy="-0.63em" font-size="70%">2</tspan><tspan dy="0.44em">)</tspan></text>
<text xml:space="preserve" transform="translate(522.00,195.15) rotate(-90)" text-anchor="middle" font-size="9.74" font-family="Liberation Serif" font-weight="bold">Rainfall Amount (km<tspan dy="-0.63em" font-size="70%">3</tspan><tspan dy="0.44em">)</tspan></text>
<text transform="translate(361.5,135.2) scale(1.157,1)" font-size="8.3" text-anchor="middle" font-family="Liberation Serif" font-weight="bold">Fine Aerosol (μg/m<tspan dy="-4.6" font-size="6.2">3</tspan><tspan dy="4.6">)</tspan></text>
<text transform="translate(350.2,273.5) scale(1.157,1)" font-size="8.3" text-anchor="middle" font-family="Liberation Serif" font-weight="bold">Coarse Sea Salt (μg/m<tspan dy="-4.6" font-size="6.2">3</tspan><tspan dy="4.6">)</tspan></text>
<text x="336.2" y="110" font-size="9.4" text-anchor="end" font-family="Liberation Serif" font-weight="bold">N = 33422</text>
<path d="M36.10 43.20V56.20M33.70 43.20H38.50M33.70 56.20H38.50" stroke="#1b3b86" stroke-width="0.9" fill="none"/>
<path d="M44.10 38.90V47.50M41.70 38.90H46.50M41.70 47.50H46.50" stroke="#1b3b86" stroke-width="0.9" fill="none"/>
<path d="M48.40 40.60V49.20M46.00 40.60H50.80M46.00 49.20H50.80" stroke="#1b3b86" stroke-width="0.9" fill="none"/>
<path d="M52.80 36.20V41.40M50.40 36.20H55.20M50.40 41.40H55.20" stroke="#1b3b86" stroke-width="0.9" fill="none"/>
<path d="M57.20 37.90V42.90M54.80 37.90H59.60M54.80 42.90H59.60" stroke="#1b3b86" stroke-width="0.9" fill="none"/>
<path d="M61.00 35.20V40.20M58.60 35.20H63.40M58.60 40.20H63.40" stroke="#1b3b86" stroke-width="0.9" fill="none"/>
<path d="M64.50 34.30V39.30M62.10 34.30H66.90M62.10 39.30H66.90" stroke="#1b3b86" stroke-width="0.9" fill="none"/>
<path d="M68.00 33.80V38.80M65.60 33.80H70.40M65.60 38.80H70.40" stroke="#1b3b86" stroke-width="0.9" fill="none"/>
<path d="M71.60 36.10V41.10M69.20 36.10H74.00M69.20 41.10H74.00" stroke="#1b3b86" stroke-width="0.9" fill="none"/>
<path d="M75.30 29.70V35.70M72.90 29.70H77.70M72.90 35.70H77.70" stroke="#1b3b86" stroke-width="0.9" fill="none"/>
<path d="M78.80 36.10V41.10M76.40 36.10H81.20M76.40 41.10H81.20" stroke="#1b3b86" stroke-width="0.9" fill="none"/>
<path d="M82.30 37.90V42.90M79.90 37.90H84.70M79.90 42.90H84.70" stroke="#1b3b86" stroke-width="0.9" fill="none"/>
<path d="M85.60 36.10V41.10M83.20 36.10H88.00M83.20 41.10H88.00" stroke="#1b3b86" stroke-width="0.9" fill="none"/>
<path d="M89.00 37.40V43.40M86.60 37.40H91.40M86.60 43.40H91.40" stroke="#1b3b86" stroke-width="0.9" fill="none"/>
<path d="M92.60 31.50V37.50M90.20 31.50H95.00M90.20 37.50H95.00" stroke="#1b3b86" stroke-width="0.9" fill="none"/>
<path d="M96.60 33.30V39.30M94.20 33.30H99.00M94.20 39.30H99.00" stroke="#1b3b86" stroke-width="0.9" fill="none"/>
<path d="M101.60 25.80V32.20M99.20 25.80H104.00M99.20 32.20H104.00" stroke="#1b3b86" stroke-width="0.9" fill="none"/>
<path d="M108.00 22.70V29.50M105.60 22.70H110.40M105.60 29.50H110.40" stroke="#1b3b86" stroke-width="0.9" fill="none"/>
<path d="M120.40 13.60V20.40M118.00 13.60H122.80M118.00 20.40H122.80" stroke="#1b3b86" stroke-width="0.9" fill="none"/>
<path d="M36.10 49.70 L44.10 43.20 L48.40 44.90 L52.80 38.80 L57.20 40.40 L61.00 37.70 L64.50 36.80 L68.00 36.30 L71.60 38.60 L75.30 32.70 L78.80 38.60 L82.30 40.40 L85.60 38.60 L89.00 40.40 L92.60 34.50 L96.60 36.30 L101.60 29.00 L108.00 26.10 L120.40 17.00" stroke="#1b3b86" stroke-width="1.1" fill="none" stroke-linejoin="round"/>
<circle cx="36.10" cy="49.70" r="1.75" fill="#1b3b86"/>
<circle cx="44.10" cy="43.20" r="1.75" fill="#1b3b86"/>
<circle cx="48.40" cy="44.90" r="1.75" fill="#1b3b86"/>
<circle cx="52.80" cy="38.80" r="1.75" fill="#1b3b86"/>
<circle cx="57.20" cy="40.40" r="1.75" fill="#1b3b86"/>
<circle cx="61.00" cy="37.70" r="1.75" fill="#1b3b86"/>
<circle cx="64.50" cy="36.80" r="1.75" fill="#1b3b86"/>
<circle cx="68.00" cy="36.30" r="1.75" fill="#1b3b86"/>
<circle cx="71.60" cy="38.60" r="1.75" fill="#1b3b86"/>
<circle cx="75.30" cy="32.70" r="1.75" fill="#1b3b86"/>
<circle cx="78.80" cy="38.60" r="1.75" fill="#1b3b86"/>
<circle cx="82.30" cy="40.40" r="1.75" fill="#1b3b86"/>
<circle cx="85.60" cy="38.60" r="1.75" fill="#1b3b86"/>
<circle cx="89.00" cy="40.40" r="1.75" fill="#1b3b86"/>
<circle cx="92.60" cy="34.50" r="1.75" fill="#1b3b86"/>
<circle cx="96.60" cy="36.30" r="1.75" fill="#1b3b86"/>
<circle cx="101.60" cy="29.00" r="1.75" fill="#1b3b86"/>
<circle cx="108.00" cy="26.10" r="1.75" fill="#1b3b86"/>
<circle cx="120.40" cy="17.00" r="1.75" fill="#1b3b86"/>
<path d="M36.10 74.00V85.00M33.70 74.00H38.50M33.70 85.00H38.50" stroke="#2c7bc0" stroke-width="0.9" fill="none"/>
<path d="M44.10 71.90V81.10M41.70 71.90H46.50M41.70 81.10H46.50" stroke="#2c7bc0" stroke-width="0.9" fill="none"/>
<path d="M48.40 69.70V79.50M46.00 69.70H50.80M46.00 79.50H50.80" stroke="#2c7bc0" stroke-width="0.9" fill="none"/>
<path d="M52.80 68.30V74.30M50.40 68.30H55.20M50.40 74.30H55.20" stroke="#2c7bc0" stroke-width="0.9" fill="none"/>
<path d="M57.20 66.20V72.20M54.80 66.20H59.60M54.80 72.20H59.60" stroke="#2c7bc0" stroke-width="0.9" fill="none"/>
<path d="M61.00 62.30V68.30M58.60 62.30H63.40M58.60 68.30H63.40" stroke="#2c7bc0" stroke-width="0.9" fill="none"/>
<path d="M64.50 64.10V70.10M62.10 64.10H66.90M62.10 70.10H66.90" stroke="#2c7bc0" stroke-width="0.9" fill="none"/>
<path d="M68.00 62.00V68.00M65.60 62.00H70.40M65.60 68.00H70.40" stroke="#2c7bc0" stroke-width="0.9" fill="none"/>
<path d="M71.60 62.80V68.80M69.20 62.80H74.00M69.20 68.80H74.00" stroke="#2c7bc0" stroke-width="0.9" fill="none"/>
<path d="M75.30 61.00V67.00M72.90 61.00H77.70M72.90 67.00H77.70" stroke="#2c7bc0" stroke-width="0.9" fill="none"/>
<path d="M78.80 64.10V70.10M76.40 64.10H81.20M76.40 70.10H81.20" stroke="#2c7bc0" stroke-width="0.9" fill="none"/>
<path d="M82.30 63.20V69.20M79.90 63.20H84.70M79.90 69.20H84.70" stroke="#2c7bc0" stroke-width="0.9" fill="none"/>
<path d="M85.60 64.10V70.10M83.20 64.10H88.00M83.20 70.10H88.00" stroke="#2c7bc0" stroke-width="0.9" fill="none"/>
<path d="M89.00 63.20V69.20M86.60 63.20H91.40M86.60 69.20H91.40" stroke="#2c7bc0" stroke-width="0.9" fill="none"/>
<path d="M92.60 62.20V68.20M90.20 62.20H95.00M90.20 68.20H95.00" stroke="#2c7bc0" stroke-width="0.9" fill="none"/>
<path d="M96.60 64.10V70.10M94.20 64.10H99.00M94.20 70.10H99.00" stroke="#2c7bc0" stroke-width="0.9" fill="none"/>
<path d="M101.60 57.20V63.60M99.20 57.20H104.00M99.20 63.60H104.00" stroke="#2c7bc0" stroke-width="0.9" fill="none"/>
<path d="M108.00 57.50V64.30M105.60 57.50H110.40M105.60 64.30H110.40" stroke="#2c7bc0" stroke-width="0.9" fill="none"/>
<path d="M120.40 46.10V52.90M118.00 46.10H122.80M118.00 52.90H122.80" stroke="#2c7bc0" stroke-width="0.9" fill="none"/>
<path d="M36.10 79.50 L44.10 76.50 L48.40 74.60 L52.80 71.30 L57.20 69.20 L61.00 65.30 L64.50 67.10 L68.00 65.00 L71.60 65.80 L75.30 64.00 L78.80 67.10 L82.30 66.20 L85.60 67.10 L89.00 66.20 L92.60 65.20 L96.60 67.10 L101.60 60.40 L108.00 60.90 L120.40 49.50" stroke="#2c7bc0" stroke-width="1.1" fill="none" stroke-linejoin="round"/>
<circle cx="36.10" cy="79.50" r="1.75" fill="#2c7bc0"/>
<circle cx="44.10" cy="76.50" r="1.75" fill="#2c7bc0"/>
<circle cx="48.40" cy="74.60" r="1.75" fill="#2c7bc0"/>
<circle cx="52.80" cy="71.30" r="1.75" fill="#2c7bc0"/>
<circle cx="57.20" cy="69.20" r="1.75" fill="#2c7bc0"/>
<circle cx="61.00" cy="65.30" r="1.75" fill="#2c7bc0"/>
<circle cx="64.50" cy="67.10" r="1.75" fill="#2c7bc0"/>
<circle cx="68.00" cy="65.00" r="1.75" fill="#2c7bc0"/>
<circle cx="71.60" cy="65.80" r="1.75" fill="#2c7bc0"/>
<circle cx="75.30" cy="64.00" r="1.75" fill="#2c7bc0"/>
<circle cx="78.80" cy="67.10" r="1.75" fill="#2c7bc0"/>
<circle cx="82.30" cy="66.20" r="1.75" fill="#2c7bc0"/>
<circle cx="85.60" cy="67.10" r="1.75" fill="#2c7bc0"/>
<circle cx="89.00" cy="66.20" r="1.75" fill="#2c7bc0"/>
<circle cx="92.60" cy="65.20" r="1.75" fill="#2c7bc0"/>
<circle cx="96.60" cy="67.10" r="1.75" fill="#2c7bc0"/>
<circle cx="101.60" cy="60.40" r="1.75" fill="#2c7bc0"/>
<circle cx="108.00" cy="60.90" r="1.75" fill="#2c7bc0"/>
<circle cx="120.40" cy="49.50" r="1.75" fill="#2c7bc0"/>
<path d="M36.10 57.30V67.70M33.70 57.30H38.50M33.70 67.70H38.50" stroke="#c8202f" stroke-width="0.9" fill="none"/>
<path d="M44.10 54.00V61.80M41.70 54.00H46.50M41.70 61.80H46.50" stroke="#c8202f" stroke-width="0.9" fill="none"/>
<path d="M48.40 53.30V61.10M46.00 53.30H50.80M46.00 61.10H50.80" stroke="#c8202f" stroke-width="0.9" fill="none"/>
<path d="M52.80 50.70V55.90M50.40 50.70H55.20M50.40 55.90H55.20" stroke="#c8202f" stroke-width="0.9" fill="none"/>
<path d="M57.20 49.70V54.70M54.80 49.70H59.60M54.80 54.70H59.60" stroke="#c8202f" stroke-width="0.9" fill="none"/>
<path d="M61.00 47.80V52.80M58.60 47.80H63.40M58.60 52.80H63.40" stroke="#c8202f" stroke-width="0.9" fill="none"/>
<path d="M64.50 47.30V52.30M62.10 47.30H66.90M62.10 52.30H66.90" stroke="#c8202f" stroke-width="0.9" fill="none"/>
<path d="M68.00 46.70V51.70M65.60 46.70H70.40M65.60 51.70H70.40" stroke="#c8202f" stroke-width="0.9" fill="none"/>
<path d="M71.60 46.70V51.70M69.20 46.70H74.00M69.20 51.70H74.00" stroke="#c8202f" stroke-width="0.9" fill="none"/>
<path d="M75.30 43.40V49.40M72.90 43.40H77.70M72.90 49.40H77.70" stroke="#c8202f" stroke-width="0.9" fill="none"/>
<path d="M78.80 47.00V52.00M76.40 47.00H81.20M76.40 52.00H81.20" stroke="#c8202f" stroke-width="0.9" fill="none"/>
<path d="M82.30 47.90V52.90M79.90 47.90H84.70M79.90 52.90H84.70" stroke="#c8202f" stroke-width="0.9" fill="none"/>
<path d="M85.60 47.40V52.40M83.20 47.40H88.00M83.20 52.40H88.00" stroke="#c8202f" stroke-width="0.9" fill="none"/>
<path d="M89.00 47.90V53.90M86.60 47.90H91.40M86.60 53.90H91.40" stroke="#c8202f" stroke-width="0.9" fill="none"/>
<path d="M92.60 44.20V50.20M90.20 44.20H95.00M90.20 50.20H95.00" stroke="#c8202f" stroke-width="0.9" fill="none"/>
<path d="M96.60 45.10V51.10M94.20 45.10H99.00M94.20 51.10H99.00" stroke="#c8202f" stroke-width="0.9" fill="none"/>
<path d="M101.60 39.50V45.90M99.20 39.50H104.00M99.20 45.90H104.00" stroke="#c8202f" stroke-width="0.9" fill="none"/>
<path d="M108.00 36.60V43.40M105.60 36.60H110.40M105.60 43.40H110.40" stroke="#c8202f" stroke-width="0.9" fill="none"/>
<path d="M120.40 27.10V33.90M118.00 27.10H122.80M118.00 33.90H122.80" stroke="#c8202f" stroke-width="0.9" fill="none"/>
<path d="M36.10 62.50 L44.10 57.90 L48.40 57.20 L52.80 53.30 L57.20 52.20 L61.00 50.30 L64.50 49.80 L68.00 49.20 L71.60 49.20 L75.30 46.40 L78.80 49.50 L82.30 50.40 L85.60 49.90 L89.00 50.90 L92.60 47.20 L96.60 48.10 L101.60 42.70 L108.00 40.00 L120.40 30.50" stroke="#c8202f" stroke-width="1.1" fill="none" stroke-linejoin="round"/>
<circle cx="36.10" cy="62.50" r="1.75" fill="#c8202f"/>
<circle cx="44.10" cy="57.90" r="1.75" fill="#c8202f"/>
<circle cx="48.40" cy="57.20" r="1.75" fill="#c8202f"/>
<circle cx="52.80" cy="53.30" r="1.75" fill="#c8202f"/>
<circle cx="57.20" cy="52.20" r="1.75" fill="#c8202f"/>
<circle cx="61.00" cy="50.30" r="1.75" fill="#c8202f"/>
<circle cx="64.50" cy="49.80" r="1.75" fill="#c8202f"/>
<circle cx="68.00" cy="49.20" r="1.75" fill="#c8202f"/>
<circle cx="71.60" cy="49.20" r="1.75" fill="#c8202f"/>
<circle cx="75.30" cy="46.40" r="1.75" fill="#c8202f"/>
<circle cx="78.80" cy="49.50" r="1.75" fill="#c8202f"/>
<circle cx="82.30" cy="50.40" r="1.75" fill="#c8202f"/>
<circle cx="85.60" cy="49.90" r="1.75" fill="#c8202f"/>
<circle cx="89.00" cy="50.90" r="1.75" fill="#c8202f"/>
<circle cx="92.60" cy="47.20" r="1.75" fill="#c8202f"/>
<circle cx="96.60" cy="48.10" r="1.75" fill="#c8202f"/>
<circle cx="101.60" cy="42.70" r="1.75" fill="#c8202f"/>
<circle cx="108.00" cy="40.00" r="1.75" fill="#c8202f"/>
<circle cx="120.40" cy="30.50" r="1.75" fill="#c8202f"/>
<path d="M209.70 86.20V88.20M207.30 86.20H212.10M207.30 88.20H212.10" stroke="#1b3b86" stroke-width="0.9" fill="none"/>
<path d="M217.70 83.90V85.90M215.30 83.90H220.10M215.30 85.90H220.10" stroke="#1b3b86" stroke-width="0.9" fill="none"/>
<path d="M222.00 83.10V85.10M219.60 83.10H224.40M219.60 85.10H224.40" stroke="#1b3b86" stroke-width="0.9" fill="none"/>
<path d="M226.40 81.90V83.90M224.00 81.90H228.80M224.00 83.90H228.80" stroke="#1b3b86" stroke-width="0.9" fill="none"/>
<path d="M230.80 80.80V82.80M228.40 80.80H233.20M228.40 82.80H233.20" stroke="#1b3b86" stroke-width="0.9" fill="none"/>
<path d="M234.60 79.90V81.90M232.20 79.90H237.00M232.20 81.90H237.00" stroke="#1b3b86" stroke-width="0.9" fill="none"/>
<path d="M238.10 79.10V81.10M235.70 79.10H240.50M235.70 81.10H240.50" stroke="#1b3b86" stroke-width="0.9" fill="none"/>
<path d="M241.60 78.50V80.50M239.20 78.50H244.00M239.20 80.50H244.00" stroke="#1b3b86" stroke-width="0.9" fill="none"/>
<path d="M245.20 78.10V80.10M242.80 78.10H247.60M242.80 80.10H247.60" stroke="#1b3b86" stroke-width="0.9" fill="none"/>
<path d="M248.90 77.90V79.90M246.50 77.90H251.30M246.50 79.90H251.30" stroke="#1b3b86" stroke-width="0.9" fill="none"/>
<path d="M252.40 78.00V80.00M250.00 78.00H254.80M250.00 80.00H254.80" stroke="#1b3b86" stroke-width="0.9" fill="none"/>
<path d="M255.90 78.00V80.00M253.50 78.00H258.30M253.50 80.00H258.30" stroke="#1b3b86" stroke-width="0.9" fill="none"/>
<path d="M259.20 77.70V79.70M256.80 77.70H261.60M256.80 79.70H261.60" stroke="#1b3b86" stroke-width="0.9" fill="none"/>
<path d="M262.60 77.40V79.40M260.20 77.40H265.00M260.20 79.40H265.00" stroke="#1b3b86" stroke-width="0.9" fill="none"/>
<path d="M266.20 77.30V79.30M263.80 77.30H268.60M263.80 79.30H268.60" stroke="#1b3b86" stroke-width="0.9" fill="none"/>
<path d="M270.20 77.30V79.30M267.80 77.30H272.60M267.80 79.30H272.60" stroke="#1b3b86" stroke-width="0.9" fill="none"/>
<path d="M275.20 77.30V79.30M272.80 77.30H277.60M272.80 79.30H277.60" stroke="#1b3b86" stroke-width="0.9" fill="none"/>
<path d="M281.60 78.20V80.20M279.20 78.20H284.00M279.20 80.20H284.00" stroke="#1b3b86" stroke-width="0.9" fill="none"/>
<path d="M294.00 80.20V82.20M291.60 80.20H296.40M291.60 82.20H296.40" stroke="#1b3b86" stroke-width="0.9" fill="none"/>
<path d="M209.70 87.20 L217.70 84.90 L222.00 84.10 L226.40 82.90 L230.80 81.80 L234.60 80.90 L238.10 80.10 L241.60 79.50 L245.20 79.10 L248.90 78.90 L252.40 79.00 L255.90 79.00 L259.20 78.70 L262.60 78.40 L266.20 78.30 L270.20 78.30 L275.20 78.30 L281.60 79.20 L294.00 81.20" stroke="#1b3b86" stroke-width="1.1" fill="none" stroke-linejoin="round"/>
<circle cx="209.70" cy="87.20" r="1.75" fill="#1b3b86"/>
<circle cx="217.70" cy="84.90" r="1.75" fill="#1b3b86"/>
<circle cx="222.00" cy="84.10" r="1.75" fill="#1b3b86"/>
<circle cx="226.40" cy="82.90" r="1.75" fill="#1b3b86"/>
<circle cx="230.80" cy="81.80" r="1.75" fill="#1b3b86"/>
<circle cx="234.60" cy="80.90" r="1.75" fill="#1b3b86"/>
<circle cx="238.10" cy="80.10" r="1.75" fill="#1b3b86"/>
<circle cx="241.60" cy="79.50" r="1.75" fill="#1b3b86"/>
<circle cx="245.20" cy="79.10" r="1.75" fill="#1b3b86"/>
<circle cx="248.90" cy="78.90" r="1.75" fill="#1b3b86"/>
<circle cx="252.40" cy="79.00" r="1.75" fill="#1b3b86"/>
<circle cx="255.90" cy="79.00" r="1.75" fill="#1b3b86"/>
<circle cx="259.20" cy="78.70" r="1.75" fill="#1b3b86"/>
<circle cx="262.60" cy="78.40" r="1.75" fill="#1b3b86"/>
<circle cx="266.20" cy="78.30" r="1.75" fill="#1b3b86"/>
<circle cx="270.20" cy="78.30" r="1.75" fill="#1b3b86"/>
<circle cx="275.20" cy="78.30" r="1.75" fill="#1b3b86"/>
<circle cx="281.60" cy="79.20" r="1.75" fill="#1b3b86"/>
<circle cx="294.00" cy="81.20" r="1.75" fill="#1b3b86"/>
<path d="M209.70 88.20V90.20M207.30 88.20H212.10M207.30 90.20H212.10" stroke="#2c7bc0" stroke-width="0.9" fill="none"/>
<path d="M217.70 87.50V89.50M215.30 87.50H220.10M215.30 89.50H220.10" stroke="#2c7bc0" stroke-width="0.9" fill="none"/>
<path d="M222.00 88.50V90.50M219.60 88.50H224.40M219.60 90.50H224.40" stroke="#2c7bc0" stroke-width="0.9" fill="none"/>
<path d="M226.40 86.80V88.80M224.00 86.80H228.80M224.00 88.80H228.80" stroke="#2c7bc0" stroke-width="0.9" fill="none"/>
<path d="M230.80 85.80V87.80M228.40 85.80H233.20M228.40 87.80H233.20" stroke="#2c7bc0" stroke-width="0.9" fill="none"/>
<path d="M234.60 85.50V87.50M232.20 85.50H237.00M232.20 87.50H237.00" stroke="#2c7bc0" stroke-width="0.9" fill="none"/>
<path d="M238.10 84.80V86.80M235.70 84.80H240.50M235.70 86.80H240.50" stroke="#2c7bc0" stroke-width="0.9" fill="none"/>
<path d="M241.60 83.80V85.80M239.20 83.80H244.00M239.20 85.80H244.00" stroke="#2c7bc0" stroke-width="0.9" fill="none"/>
<path d="M245.20 83.30V85.30M242.80 83.30H247.60M242.80 85.30H247.60" stroke="#2c7bc0" stroke-width="0.9" fill="none"/>
<path d="M248.90 82.80V84.80M246.50 82.80H251.30M246.50 84.80H251.30" stroke="#2c7bc0" stroke-width="0.9" fill="none"/>
<path d="M252.40 82.30V84.30M250.00 82.30H254.80M250.00 84.30H254.80" stroke="#2c7bc0" stroke-width="0.9" fill="none"/>
<path d="M255.90 82.80V84.80M253.50 82.80H258.30M253.50 84.80H258.30" stroke="#2c7bc0" stroke-width="0.9" fill="none"/>
<path d="M259.20 82.00V84.00M256.80 82.00H261.60M256.80 84.00H261.60" stroke="#2c7bc0" stroke-width="0.9" fill="none"/>
<path d="M262.60 82.00V84.00M260.20 82.00H265.00M260.20 84.00H265.00" stroke="#2c7bc0" stroke-width="0.9" fill="none"/>
<path d="M266.20 81.90V83.90M263.80 81.90H268.60M263.80 83.90H268.60" stroke="#2c7bc0" stroke-width="0.9" fill="none"/>
<path d="M270.20 82.20V84.20M267.80 82.20H272.60M267.80 84.20H272.60" stroke="#2c7bc0" stroke-width="0.9" fill="none"/>
<path d="M275.20 83.20V85.20M272.80 83.20H277.60M272.80 85.20H277.60" stroke="#2c7bc0" stroke-width="0.9" fill="none"/>
<path d="M281.60 82.80V84.80M279.20 82.80H284.00M279.20 84.80H284.00" stroke="#2c7bc0" stroke-width="0.9" fill="none"/>
<path d="M294.00 84.80V86.80M291.60 84.80H296.40M291.60 86.80H296.40" stroke="#2c7bc0" stroke-width="0.9" fill="none"/>
<path d="M209.70 89.20 L217.70 88.50 L222.00 89.50 L226.40 87.80 L230.80 86.80 L234.60 86.50 L238.10 85.80 L241.60 84.80 L245.20 84.30 L248.90 83.80 L252.40 83.30 L255.90 83.80 L259.20 83.00 L262.60 83.00 L266.20 82.90 L270.20 83.20 L275.20 84.20 L281.60 83.80 L294.00 85.80" stroke="#2c7bc0" stroke-width="1.1" fill="none" stroke-linejoin="round"/>
<circle cx="209.70" cy="89.20" r="1.75" fill="#2c7bc0"/>
<circle cx="217.70" cy="88.50" r="1.75" fill="#2c7bc0"/>
<circle cx="222.00" cy="89.50" r="1.75" fill="#2c7bc0"/>
<circle cx="226.40" cy="87.80" r="1.75" fill="#2c7bc0"/>
<circle cx="230.80" cy="86.80" r="1.75" fill="#2c7bc0"/>
<circle cx="234.60" cy="86.50" r="1.75" fill="#2c7bc0"/>
<circle cx="238.10" cy="85.80" r="1.75" fill="#2c7bc0"/>
<circle cx="241.60" cy="84.80" r="1.75" fill="#2c7bc0"/>
<circle cx="245.20" cy="84.30" r="1.75" fill="#2c7bc0"/>
<circle cx="248.90" cy="83.80" r="1.75" fill="#2c7bc0"/>
<circle cx="252.40" cy="83.30" r="1.75" fill="#2c7bc0"/>
<circle cx="255.90" cy="83.80" r="1.75" fill="#2c7bc0"/>
<circle cx="259.20" cy="83.00" r="1.75" fill="#2c7bc0"/>
<circle cx="262.60" cy="83.00" r="1.75" fill="#2c7bc0"/>
<circle cx="266.20" cy="82.90" r="1.75" fill="#2c7bc0"/>
<circle cx="270.20" cy="83.20" r="1.75" fill="#2c7bc0"/>
<circle cx="275.20" cy="84.20" r="1.75" fill="#2c7bc0"/>
<circle cx="281.60" cy="83.80" r="1.75" fill="#2c7bc0"/>
<circle cx="294.00" cy="85.80" r="1.75" fill="#2c7bc0"/>
<path d="M209.70 92.00V94.00M207.30 92.00H212.10M207.30 94.00H212.10" stroke="#8fcae3" stroke-width="0.9" fill="none"/>
<path d="M217.70 91.60V93.60M215.30 91.60H220.10M215.30 93.60H220.10" stroke="#8fcae3" stroke-width="0.9" fill="none"/>
<path d="M222.00 91.80V93.80M219.60 91.80H224.40M219.60 93.80H224.40" stroke="#8fcae3" stroke-width="0.9" fill="none"/>
<path d="M226.40 91.50V93.50M224.00 91.50H228.80M224.00 93.50H228.80" stroke="#8fcae3" stroke-width="0.9" fill="none"/>
<path d="M230.80 91.40V93.40M228.40 91.40H233.20M228.40 93.40H233.20" stroke="#8fcae3" stroke-width="0.9" fill="none"/>
<path d="M234.60 91.40V93.40M232.20 91.40H237.00M232.20 93.40H237.00" stroke="#8fcae3" stroke-width="0.9" fill="none"/>
<path d="M238.10 91.20V93.20M235.70 91.20H240.50M235.70 93.20H240.50" stroke="#8fcae3" stroke-width="0.9" fill="none"/>
<path d="M241.60 91.00V93.00M239.20 91.00H244.00M239.20 93.00H244.00" stroke="#8fcae3" stroke-width="0.9" fill="none"/>
<path d="M245.20 91.00V93.00M242.80 91.00H247.60M242.80 93.00H247.60" stroke="#8fcae3" stroke-width="0.9" fill="none"/>
<path d="M248.90 90.80V92.80M246.50 90.80H251.30M246.50 92.80H251.30" stroke="#8fcae3" stroke-width="0.9" fill="none"/>
<path d="M252.40 90.80V92.80M250.00 90.80H254.80M250.00 92.80H254.80" stroke="#8fcae3" stroke-width="0.9" fill="none"/>
<path d="M255.90 90.60V92.60M253.50 90.60H258.30M253.50 92.60H258.30" stroke="#8fcae3" stroke-width="0.9" fill="none"/>
<path d="M259.20 90.60V92.60M256.80 90.60H261.60M256.80 92.60H261.60" stroke="#8fcae3" stroke-width="0.9" fill="none"/>
<path d="M262.60 90.60V92.60M260.20 90.60H265.00M260.20 92.60H265.00" stroke="#8fcae3" stroke-width="0.9" fill="none"/>
<path d="M266.20 90.80V92.80M263.80 90.80H268.60M263.80 92.80H268.60" stroke="#8fcae3" stroke-width="0.9" fill="none"/>
<path d="M270.20 90.60V92.60M267.80 90.60H272.60M267.80 92.60H272.60" stroke="#8fcae3" stroke-width="0.9" fill="none"/>
<path d="M275.20 90.60V92.60M272.80 90.60H277.60M272.80 92.60H277.60" stroke="#8fcae3" stroke-width="0.9" fill="none"/>
<path d="M281.60 90.80V92.80M279.20 90.80H284.00M279.20 92.80H284.00" stroke="#8fcae3" stroke-width="0.9" fill="none"/>
<path d="M294.00 91.40V93.40M291.60 91.40H296.40M291.60 93.40H296.40" stroke="#8fcae3" stroke-width="0.9" fill="none"/>
<path d="M209.70 93.00 L217.70 92.60 L222.00 92.80 L226.40 92.50 L230.80 92.40 L234.60 92.40 L238.10 92.20 L241.60 92.00 L245.20 92.00 L248.90 91.80 L252.40 91.80 L255.90 91.60 L259.20 91.60 L262.60 91.60 L266.20 91.80 L270.20 91.60 L275.20 91.60 L281.60 91.80 L294.00 92.40" stroke="#8fcae3" stroke-width="1.1" fill="none" stroke-linejoin="round"/>
<circle cx="209.70" cy="93.00" r="1.75" fill="#8fcae3"/>
<circle cx="217.70" cy="92.60" r="1.75" fill="#8fcae3"/>
<circle cx="222.00" cy="92.80" r="1.75" fill="#8fcae3"/>
<circle cx="226.40" cy="92.50" r="1.75" fill="#8fcae3"/>
<circle cx="230.80" cy="92.40" r="1.75" fill="#8fcae3"/>
<circle cx="234.60" cy="92.40" r="1.75" fill="#8fcae3"/>
<circle cx="238.10" cy="92.20" r="1.75" fill="#8fcae3"/>
<circle cx="241.60" cy="92.00" r="1.75" fill="#8fcae3"/>
<circle cx="245.20" cy="92.00" r="1.75" fill="#8fcae3"/>
<circle cx="248.90" cy="91.80" r="1.75" fill="#8fcae3"/>
<circle cx="252.40" cy="91.80" r="1.75" fill="#8fcae3"/>
<circle cx="255.90" cy="91.60" r="1.75" fill="#8fcae3"/>
<circle cx="259.20" cy="91.60" r="1.75" fill="#8fcae3"/>
<circle cx="262.60" cy="91.60" r="1.75" fill="#8fcae3"/>
<circle cx="266.20" cy="91.80" r="1.75" fill="#8fcae3"/>
<circle cx="270.20" cy="91.60" r="1.75" fill="#8fcae3"/>
<circle cx="275.20" cy="91.60" r="1.75" fill="#8fcae3"/>
<circle cx="281.60" cy="91.80" r="1.75" fill="#8fcae3"/>
<circle cx="294.00" cy="92.40" r="1.75" fill="#8fcae3"/>
<path d="M209.70 44.30V50.70M207.30 44.30H212.10M207.30 50.70H212.10" stroke="#c8202f" stroke-width="0.9" fill="none"/>
<path d="M217.70 40.50V45.50M215.30 40.50H220.10M215.30 45.50H220.10" stroke="#c8202f" stroke-width="0.9" fill="none"/>
<path d="M222.00 42.30V47.30M219.60 42.30H224.40M219.60 47.30H224.40" stroke="#c8202f" stroke-width="0.9" fill="none"/>
<path d="M226.40 39.00V44.00M224.00 39.00H228.80M224.00 44.00H228.80" stroke="#c8202f" stroke-width="0.9" fill="none"/>
<path d="M230.80 37.40V42.40M228.40 37.40H233.20M228.40 42.40H233.20" stroke="#c8202f" stroke-width="0.9" fill="none"/>
<path d="M234.60 36.10V41.10M232.20 36.10H237.00M232.20 41.10H237.00" stroke="#c8202f" stroke-width="0.9" fill="none"/>
<path d="M238.10 35.00V40.00M235.70 35.00H240.50M235.70 40.00H240.50" stroke="#c8202f" stroke-width="0.9" fill="none"/>
<path d="M241.60 33.50V38.50M239.20 33.50H244.00M239.20 38.50H244.00" stroke="#c8202f" stroke-width="0.9" fill="none"/>
<path d="M245.20 32.10V37.10M242.80 32.10H247.60M242.80 37.10H247.60" stroke="#c8202f" stroke-width="0.9" fill="none"/>
<path d="M248.90 31.10V36.10M246.50 31.10H251.30M246.50 36.10H251.30" stroke="#c8202f" stroke-width="0.9" fill="none"/>
<path d="M252.40 30.50V35.50M250.00 30.50H254.80M250.00 35.50H254.80" stroke="#c8202f" stroke-width="0.9" fill="none"/>
<path d="M255.90 30.10V35.10M253.50 30.10H258.30M253.50 35.10H258.30" stroke="#c8202f" stroke-width="0.9" fill="none"/>
<path d="M259.20 29.90V34.90M256.80 29.90H261.60M256.80 34.90H261.60" stroke="#c8202f" stroke-width="0.9" fill="none"/>
<path d="M262.60 29.30V34.30M260.20 29.30H265.00M260.20 34.30H265.00" stroke="#c8202f" stroke-width="0.9" fill="none"/>
<path d="M266.20 29.60V34.60M263.80 29.60H268.60M263.80 34.60H268.60" stroke="#c8202f" stroke-width="0.9" fill="none"/>
<path d="M270.20 28.90V33.90M267.80 28.90H272.60M267.80 33.90H272.60" stroke="#c8202f" stroke-width="0.9" fill="none"/>
<path d="M275.20 30.60V35.20M272.80 30.60H277.60M272.80 35.20H277.60" stroke="#c8202f" stroke-width="0.9" fill="none"/>
<path d="M281.60 30.40V35.40M279.20 30.40H284.00M279.20 35.40H284.00" stroke="#c8202f" stroke-width="0.9" fill="none"/>
<path d="M294.00 34.10V38.90M291.60 34.10H296.40M291.60 38.90H296.40" stroke="#c8202f" stroke-width="0.9" fill="none"/>
<path d="M209.70 47.50 L217.70 43.00 L222.00 44.80 L226.40 41.50 L230.80 39.90 L234.60 38.60 L238.10 37.50 L241.60 36.00 L245.20 34.60 L248.90 33.60 L252.40 33.00 L255.90 32.60 L259.20 32.40 L262.60 31.80 L266.20 32.10 L270.20 31.40 L275.20 32.90 L281.60 32.90 L294.00 36.50" stroke="#c8202f" stroke-width="1.1" fill="none" stroke-linejoin="round"/>
<circle cx="209.70" cy="47.50" r="1.75" fill="#c8202f"/>
<circle cx="217.70" cy="43.00" r="1.75" fill="#c8202f"/>
<circle cx="222.00" cy="44.80" r="1.75" fill="#c8202f"/>
<circle cx="226.40" cy="41.50" r="1.75" fill="#c8202f"/>
<circle cx="230.80" cy="39.90" r="1.75" fill="#c8202f"/>
<circle cx="234.60" cy="38.60" r="1.75" fill="#c8202f"/>
<circle cx="238.10" cy="37.50" r="1.75" fill="#c8202f"/>
<circle cx="241.60" cy="36.00" r="1.75" fill="#c8202f"/>
<circle cx="245.20" cy="34.60" r="1.75" fill="#c8202f"/>
<circle cx="248.90" cy="33.60" r="1.75" fill="#c8202f"/>
<circle cx="252.40" cy="33.00" r="1.75" fill="#c8202f"/>
<circle cx="255.90" cy="32.60" r="1.75" fill="#c8202f"/>
<circle cx="259.20" cy="32.40" r="1.75" fill="#c8202f"/>
<circle cx="262.60" cy="31.80" r="1.75" fill="#c8202f"/>
<circle cx="266.20" cy="32.10" r="1.75" fill="#c8202f"/>
<circle cx="270.20" cy="31.40" r="1.75" fill="#c8202f"/>
<circle cx="275.20" cy="32.90" r="1.75" fill="#c8202f"/>
<circle cx="281.60" cy="32.90" r="1.75" fill="#c8202f"/>
<circle cx="294.00" cy="36.50" r="1.75" fill="#c8202f"/>
<path d="M383.20 55.30V64.30M380.80 55.30H385.60M380.80 64.30H385.60" stroke="#1b3b86" stroke-width="0.9" fill="none"/>
<path d="M391.20 51.40V59.40M388.80 51.40H393.60M388.80 59.40H393.60" stroke="#1b3b86" stroke-width="0.9" fill="none"/>
<path d="M395.50 51.60V59.60M393.10 51.60H397.90M393.10 59.60H397.90" stroke="#1b3b86" stroke-width="0.9" fill="none"/>
<path d="M399.90 48.30V55.30M397.50 48.30H402.30M397.50 55.30H402.30" stroke="#1b3b86" stroke-width="0.9" fill="none"/>
<path d="M404.30 46.30V53.30M401.90 46.30H406.70M401.90 53.30H406.70" stroke="#1b3b86" stroke-width="0.9" fill="none"/>
<path d="M408.10 43.00V50.00M405.70 43.00H410.50M405.70 50.00H410.50" stroke="#1b3b86" stroke-width="0.9" fill="none"/>
<path d="M411.60 41.00V48.00M409.20 41.00H414.00M409.20 48.00H414.00" stroke="#1b3b86" stroke-width="0.9" fill="none"/>
<path d="M415.10 39.30V46.30M412.70 39.30H417.50M412.70 46.30H417.50" stroke="#1b3b86" stroke-width="0.9" fill="none"/>
<path d="M418.70 38.70V45.70M416.30 38.70H421.10M416.30 45.70H421.10" stroke="#1b3b86" stroke-width="0.9" fill="none"/>
<path d="M422.40 38.00V45.00M420.00 38.00H424.80M420.00 45.00H424.80" stroke="#1b3b86" stroke-width="0.9" fill="none"/>
<path d="M425.90 37.50V44.50M423.50 37.50H428.30M423.50 44.50H428.30" stroke="#1b3b86" stroke-width="0.9" fill="none"/>
<path d="M429.40 37.30V44.30M427.00 37.30H431.80M427.00 44.30H431.80" stroke="#1b3b86" stroke-width="0.9" fill="none"/>
<path d="M432.70 37.00V44.00M430.30 37.00H435.10M430.30 44.00H435.10" stroke="#1b3b86" stroke-width="0.9" fill="none"/>
<path d="M436.10 34.00V41.00M433.70 34.00H438.50M433.70 41.00H438.50" stroke="#1b3b86" stroke-width="0.9" fill="none"/>
<path d="M439.70 32.30V39.30M437.30 32.30H442.10M437.30 39.30H442.10" stroke="#1b3b86" stroke-width="0.9" fill="none"/>
<path d="M443.70 33.90V40.90M441.30 33.90H446.10M441.30 40.90H446.10" stroke="#1b3b86" stroke-width="0.9" fill="none"/>
<path d="M448.70 35.00V42.00M446.30 35.00H451.10M446.30 42.00H451.10" stroke="#1b3b86" stroke-width="0.9" fill="none"/>
<path d="M455.10 38.00V45.00M452.70 38.00H457.50M452.70 45.00H457.50" stroke="#1b3b86" stroke-width="0.9" fill="none"/>
<path d="M467.50 42.90V49.90M465.10 42.90H469.90M465.10 49.90H469.90" stroke="#1b3b86" stroke-width="0.9" fill="none"/>
<path d="M383.20 59.80 L391.20 55.40 L395.50 55.60 L399.90 51.80 L404.30 49.80 L408.10 46.50 L411.60 44.50 L415.10 42.80 L418.70 42.20 L422.40 41.50 L425.90 41.00 L429.40 40.80 L432.70 40.50 L436.10 37.50 L439.70 35.80 L443.70 37.40 L448.70 38.50 L455.10 41.50 L467.50 46.40" stroke="#1b3b86" stroke-width="1.1" fill="none" stroke-linejoin="round"/>
<circle cx="383.20" cy="59.80" r="1.75" fill="#1b3b86"/>
<circle cx="391.20" cy="55.40" r="1.75" fill="#1b3b86"/>
<circle cx="395.50" cy="55.60" r="1.75" fill="#1b3b86"/>
<circle cx="399.90" cy="51.80" r="1.75" fill="#1b3b86"/>
<circle cx="404.30" cy="49.80" r="1.75" fill="#1b3b86"/>
<circle cx="408.10" cy="46.50" r="1.75" fill="#1b3b86"/>
<circle cx="411.60" cy="44.50" r="1.75" fill="#1b3b86"/>
<circle cx="415.10" cy="42.80" r="1.75" fill="#1b3b86"/>
<circle cx="418.70" cy="42.20" r="1.75" fill="#1b3b86"/>
<circle cx="422.40" cy="41.50" r="1.75" fill="#1b3b86"/>
<circle cx="425.90" cy="41.00" r="1.75" fill="#1b3b86"/>
<circle cx="429.40" cy="40.80" r="1.75" fill="#1b3b86"/>
<circle cx="432.70" cy="40.50" r="1.75" fill="#1b3b86"/>
<circle cx="436.10" cy="37.50" r="1.75" fill="#1b3b86"/>
<circle cx="439.70" cy="35.80" r="1.75" fill="#1b3b86"/>
<circle cx="443.70" cy="37.40" r="1.75" fill="#1b3b86"/>
<circle cx="448.70" cy="38.50" r="1.75" fill="#1b3b86"/>
<circle cx="455.10" cy="41.50" r="1.75" fill="#1b3b86"/>
<circle cx="467.50" cy="46.40" r="1.75" fill="#1b3b86"/>
<path d="M383.20 50.90V59.90M380.80 50.90H385.60M380.80 59.90H385.60" stroke="#2c7bc0" stroke-width="0.9" fill="none"/>
<path d="M391.20 44.20V52.20M388.80 44.20H393.60M388.80 52.20H393.60" stroke="#2c7bc0" stroke-width="0.9" fill="none"/>
<path d="M395.50 47.10V55.10M393.10 47.10H397.90M393.10 55.10H397.90" stroke="#2c7bc0" stroke-width="0.9" fill="none"/>
<path d="M399.90 40.50V47.50M397.50 40.50H402.30M397.50 47.50H402.30" stroke="#2c7bc0" stroke-width="0.9" fill="none"/>
<path d="M404.30 38.00V45.00M401.90 38.00H406.70M401.90 45.00H406.70" stroke="#2c7bc0" stroke-width="0.9" fill="none"/>
<path d="M408.10 34.80V41.80M405.70 34.80H410.50M405.70 41.80H410.50" stroke="#2c7bc0" stroke-width="0.9" fill="none"/>
<path d="M411.60 32.80V39.80M409.20 32.80H414.00M409.20 39.80H414.00" stroke="#2c7bc0" stroke-width="0.9" fill="none"/>
<path d="M415.10 31.50V38.50M412.70 31.50H417.50M412.70 38.50H417.50" stroke="#2c7bc0" stroke-width="0.9" fill="none"/>
<path d="M418.70 30.10V37.10M416.30 30.10H421.10M416.30 37.10H421.10" stroke="#2c7bc0" stroke-width="0.9" fill="none"/>
<path d="M422.40 29.10V36.10M420.00 29.10H424.80M420.00 36.10H424.80" stroke="#2c7bc0" stroke-width="0.9" fill="none"/>
<path d="M425.90 28.50V35.50M423.50 28.50H428.30M423.50 35.50H428.30" stroke="#2c7bc0" stroke-width="0.9" fill="none"/>
<path d="M429.40 28.30V35.30M427.00 28.30H431.80M427.00 35.30H431.80" stroke="#2c7bc0" stroke-width="0.9" fill="none"/>
<path d="M432.70 28.50V35.50M430.30 28.50H435.10M430.30 35.50H435.10" stroke="#2c7bc0" stroke-width="0.9" fill="none"/>
<path d="M436.10 25.80V32.80M433.70 25.80H438.50M433.70 32.80H438.50" stroke="#2c7bc0" stroke-width="0.9" fill="none"/>
<path d="M439.70 25.30V32.30M437.30 25.30H442.10M437.30 32.30H442.10" stroke="#2c7bc0" stroke-width="0.9" fill="none"/>
<path d="M443.70 25.90V32.90M441.30 25.90H446.10M441.30 32.90H446.10" stroke="#2c7bc0" stroke-width="0.9" fill="none"/>
<path d="M448.70 27.70V34.70M446.30 27.70H451.10M446.30 34.70H451.10" stroke="#2c7bc0" stroke-width="0.9" fill="none"/>
<path d="M455.10 30.30V37.30M452.70 30.30H457.50M452.70 37.30H457.50" stroke="#2c7bc0" stroke-width="0.9" fill="none"/>
<path d="M467.50 35.00V42.00M465.10 35.00H469.90M465.10 42.00H469.90" stroke="#2c7bc0" stroke-width="0.9" fill="none"/>
<path d="M383.20 55.40 L391.20 48.20 L395.50 51.10 L399.90 44.00 L404.30 41.50 L408.10 38.30 L411.60 36.30 L415.10 35.00 L418.70 33.60 L422.40 32.60 L425.90 32.00 L429.40 31.80 L432.70 32.00 L436.10 29.30 L439.70 28.80 L443.70 29.40 L448.70 31.20 L455.10 33.80 L467.50 38.50" stroke="#2c7bc0" stroke-width="1.1" fill="none" stroke-linejoin="round"/>
<circle cx="383.20" cy="55.40" r="1.75" fill="#2c7bc0"/>
<circle cx="391.20" cy="48.20" r="1.75" fill="#2c7bc0"/>
<circle cx="395.50" cy="51.10" r="1.75" fill="#2c7bc0"/>
<circle cx="399.90" cy="44.00" r="1.75" fill="#2c7bc0"/>
<circle cx="404.30" cy="41.50" r="1.75" fill="#2c7bc0"/>
<circle cx="408.10" cy="38.30" r="1.75" fill="#2c7bc0"/>
<circle cx="411.60" cy="36.30" r="1.75" fill="#2c7bc0"/>
<circle cx="415.10" cy="35.00" r="1.75" fill="#2c7bc0"/>
<circle cx="418.70" cy="33.60" r="1.75" fill="#2c7bc0"/>
<circle cx="422.40" cy="32.60" r="1.75" fill="#2c7bc0"/>
<circle cx="425.90" cy="32.00" r="1.75" fill="#2c7bc0"/>
<circle cx="429.40" cy="31.80" r="1.75" fill="#2c7bc0"/>
<circle cx="432.70" cy="32.00" r="1.75" fill="#2c7bc0"/>
<circle cx="436.10" cy="29.30" r="1.75" fill="#2c7bc0"/>
<circle cx="439.70" cy="28.80" r="1.75" fill="#2c7bc0"/>
<circle cx="443.70" cy="29.40" r="1.75" fill="#2c7bc0"/>
<circle cx="448.70" cy="31.20" r="1.75" fill="#2c7bc0"/>
<circle cx="455.10" cy="33.80" r="1.75" fill="#2c7bc0"/>
<circle cx="467.50" cy="38.50" r="1.75" fill="#2c7bc0"/>
<path d="M383.20 72.10V78.10M380.80 72.10H385.60M380.80 78.10H385.60" stroke="#8fcae3" stroke-width="0.9" fill="none"/>
<path d="M391.20 73.50V79.50M388.80 73.50H393.60M388.80 79.50H393.60" stroke="#8fcae3" stroke-width="0.9" fill="none"/>
<path d="M395.50 74.20V80.20M393.10 74.20H397.90M393.10 80.20H397.90" stroke="#8fcae3" stroke-width="0.9" fill="none"/>
<path d="M399.90 72.80V78.80M397.50 72.80H402.30M397.50 78.80H402.30" stroke="#8fcae3" stroke-width="0.9" fill="none"/>
<path d="M404.30 72.10V78.10M401.90 72.10H406.70M401.90 78.10H406.70" stroke="#8fcae3" stroke-width="0.9" fill="none"/>
<path d="M408.10 71.40V77.40M405.70 71.40H410.50M405.70 77.40H410.50" stroke="#8fcae3" stroke-width="0.9" fill="none"/>
<path d="M411.60 68.00V74.00M409.20 68.00H414.00M409.20 74.00H414.00" stroke="#8fcae3" stroke-width="0.9" fill="none"/>
<path d="M415.10 70.00V76.00M412.70 70.00H417.50M412.70 76.00H417.50" stroke="#8fcae3" stroke-width="0.9" fill="none"/>
<path d="M418.70 67.30V73.30M416.30 67.30H421.10M416.30 73.30H421.10" stroke="#8fcae3" stroke-width="0.9" fill="none"/>
<path d="M422.40 68.60V74.60M420.00 68.60H424.80M420.00 74.60H424.80" stroke="#8fcae3" stroke-width="0.9" fill="none"/>
<path d="M425.90 67.30V73.30M423.50 67.30H428.30M423.50 73.30H428.30" stroke="#8fcae3" stroke-width="0.9" fill="none"/>
<path d="M429.40 64.50V70.50M427.00 64.50H431.80M427.00 70.50H431.80" stroke="#8fcae3" stroke-width="0.9" fill="none"/>
<path d="M432.70 65.90V71.90M430.30 65.90H435.10M430.30 71.90H435.10" stroke="#8fcae3" stroke-width="0.9" fill="none"/>
<path d="M436.10 62.40V68.40M433.70 62.40H438.50M433.70 68.40H438.50" stroke="#8fcae3" stroke-width="0.9" fill="none"/>
<path d="M439.70 66.60V72.60M437.30 66.60H442.10M437.30 72.60H442.10" stroke="#8fcae3" stroke-width="0.9" fill="none"/>
<path d="M443.70 67.30V73.30M441.30 67.30H446.10M441.30 73.30H446.10" stroke="#8fcae3" stroke-width="0.9" fill="none"/>
<path d="M448.70 70.00V76.00M446.30 70.00H451.10M446.30 76.00H451.10" stroke="#8fcae3" stroke-width="0.9" fill="none"/>
<path d="M455.10 68.00V74.00M452.70 68.00H457.50M452.70 74.00H457.50" stroke="#8fcae3" stroke-width="0.9" fill="none"/>
<path d="M467.50 71.40V77.40M465.10 71.40H469.90M465.10 77.40H469.90" stroke="#8fcae3" stroke-width="0.9" fill="none"/>
<path d="M383.20 75.10 L391.20 76.50 L395.50 77.20 L399.90 75.80 L404.30 75.10 L408.10 74.40 L411.60 71.00 L415.10 73.00 L418.70 70.30 L422.40 71.60 L425.90 70.30 L429.40 67.50 L432.70 68.90 L436.10 65.40 L439.70 69.60 L443.70 70.30 L448.70 73.00 L455.10 71.00 L467.50 74.40" stroke="#8fcae3" stroke-width="1.1" fill="none" stroke-linejoin="round"/>
<circle cx="383.20" cy="75.10" r="1.75" fill="#8fcae3"/>
<circle cx="391.20" cy="76.50" r="1.75" fill="#8fcae3"/>
<circle cx="395.50" cy="77.20" r="1.75" fill="#8fcae3"/>
<circle cx="399.90" cy="75.80" r="1.75" fill="#8fcae3"/>
<circle cx="404.30" cy="75.10" r="1.75" fill="#8fcae3"/>
<circle cx="408.10" cy="74.40" r="1.75" fill="#8fcae3"/>
<circle cx="411.60" cy="71.00" r="1.75" fill="#8fcae3"/>
<circle cx="415.10" cy="73.00" r="1.75" fill="#8fcae3"/>
<circle cx="418.70" cy="70.30" r="1.75" fill="#8fcae3"/>
<circle cx="422.40" cy="71.60" r="1.75" fill="#8fcae3"/>
<circle cx="425.90" cy="70.30" r="1.75" fill="#8fcae3"/>
<circle cx="429.40" cy="67.50" r="1.75" fill="#8fcae3"/>
<circle cx="432.70" cy="68.90" r="1.75" fill="#8fcae3"/>
<circle cx="436.10" cy="65.40" r="1.75" fill="#8fcae3"/>
<circle cx="439.70" cy="69.60" r="1.75" fill="#8fcae3"/>
<circle cx="443.70" cy="70.30" r="1.75" fill="#8fcae3"/>
<circle cx="448.70" cy="73.00" r="1.75" fill="#8fcae3"/>
<circle cx="455.10" cy="71.00" r="1.75" fill="#8fcae3"/>
<circle cx="467.50" cy="74.40" r="1.75" fill="#8fcae3"/>
<path d="M383.20 38.30V44.30M380.80 38.30H385.60M380.80 44.30H385.60" stroke="#c8202f" stroke-width="0.9" fill="none"/>
<path d="M391.20 32.90V38.10M388.80 32.90H393.60M388.80 38.10H393.60" stroke="#c8202f" stroke-width="0.9" fill="none"/>
<path d="M395.50 33.50V38.70M393.10 33.50H397.90M393.10 38.70H397.90" stroke="#c8202f" stroke-width="0.9" fill="none"/>
<path d="M399.90 28.70V33.70M397.50 28.70H402.30M397.50 33.70H402.30" stroke="#c8202f" stroke-width="0.9" fill="none"/>
<path d="M404.30 26.90V31.90M401.90 26.90H406.70M401.90 31.90H406.70" stroke="#c8202f" stroke-width="0.9" fill="none"/>
<path d="M408.10 23.70V28.70M405.70 23.70H410.50M405.70 28.70H410.50" stroke="#c8202f" stroke-width="0.9" fill="none"/>
<path d="M411.60 20.90V25.90M409.20 20.90H414.00M409.20 25.90H414.00" stroke="#c8202f" stroke-width="0.9" fill="none"/>
<path d="M415.10 19.20V24.20M412.70 19.20H417.50M412.70 24.20H417.50" stroke="#c8202f" stroke-width="0.9" fill="none"/>
<path d="M418.70 18.50V23.50M416.30 18.50H421.10M416.30 23.50H421.10" stroke="#c8202f" stroke-width="0.9" fill="none"/>
<path d="M422.40 18.00V23.00M420.00 18.00H424.80M420.00 23.00H424.80" stroke="#c8202f" stroke-width="0.9" fill="none"/>
<path d="M425.90 16.90V21.90M423.50 16.90H428.30M423.50 21.90H428.30" stroke="#c8202f" stroke-width="0.9" fill="none"/>
<path d="M429.40 17.40V22.40M427.00 17.40H431.80M427.00 22.40H431.80" stroke="#c8202f" stroke-width="0.9" fill="none"/>
<path d="M432.70 18.10V23.10M430.30 18.10H435.10M430.30 23.10H435.10" stroke="#c8202f" stroke-width="0.9" fill="none"/>
<path d="M436.10 14.30V19.30M433.70 14.30H438.50M433.70 19.30H438.50" stroke="#c8202f" stroke-width="0.9" fill="none"/>
<path d="M439.70 15.10V20.10M437.30 15.10H442.10M437.30 20.10H442.10" stroke="#c8202f" stroke-width="0.9" fill="none"/>
<path d="M443.70 16.50V21.50M441.30 16.50H446.10M441.30 21.50H446.10" stroke="#c8202f" stroke-width="0.9" fill="none"/>
<path d="M448.70 17.80V22.80M446.30 17.80H451.10M446.30 22.80H451.10" stroke="#c8202f" stroke-width="0.9" fill="none"/>
<path d="M455.10 20.50V25.50M452.70 20.50H457.50M452.70 25.50H457.50" stroke="#c8202f" stroke-width="0.9" fill="none"/>
<path d="M467.50 25.20V30.20M465.10 25.20H469.90M465.10 30.20H469.90" stroke="#c8202f" stroke-width="0.9" fill="none"/>
<path d="M383.20 41.30 L391.20 35.50 L395.50 36.10 L399.90 31.20 L404.30 29.40 L408.10 26.20 L411.60 23.40 L415.10 21.70 L418.70 21.00 L422.40 20.50 L425.90 19.40 L429.40 19.90 L432.70 20.60 L436.10 16.80 L439.70 17.60 L443.70 19.00 L448.70 20.30 L455.10 23.00 L467.50 27.70" stroke="#c8202f" stroke-width="1.1" fill="none" stroke-linejoin="round"/>
<circle cx="383.20" cy="41.30" r="1.75" fill="#c8202f"/>
<circle cx="391.20" cy="35.50" r="1.75" fill="#c8202f"/>
<circle cx="395.50" cy="36.10" r="1.75" fill="#c8202f"/>
<circle cx="399.90" cy="31.20" r="1.75" fill="#c8202f"/>
<circle cx="404.30" cy="29.40" r="1.75" fill="#c8202f"/>
<circle cx="408.10" cy="26.20" r="1.75" fill="#c8202f"/>
<circle cx="411.60" cy="23.40" r="1.75" fill="#c8202f"/>
<circle cx="415.10" cy="21.70" r="1.75" fill="#c8202f"/>
<circle cx="418.70" cy="21.00" r="1.75" fill="#c8202f"/>
<circle cx="422.40" cy="20.50" r="1.75" fill="#c8202f"/>
<circle cx="425.90" cy="19.40" r="1.75" fill="#c8202f"/>
<circle cx="429.40" cy="19.90" r="1.75" fill="#c8202f"/>
<circle cx="432.70" cy="20.60" r="1.75" fill="#c8202f"/>
<circle cx="436.10" cy="16.80" r="1.75" fill="#c8202f"/>
<circle cx="439.70" cy="17.60" r="1.75" fill="#c8202f"/>
<circle cx="443.70" cy="19.00" r="1.75" fill="#c8202f"/>
<circle cx="448.70" cy="20.30" r="1.75" fill="#c8202f"/>
<circle cx="455.10" cy="23.00" r="1.75" fill="#c8202f"/>
<circle cx="467.50" cy="27.70" r="1.75" fill="#c8202f"/>
<path d="M557.30 37.30V43.30M554.90 37.30H559.70M554.90 43.30H559.70" stroke="#1b3b86" stroke-width="0.9" fill="none"/>
<path d="M565.30 34.80V40.80M562.90 34.80H567.70M562.90 40.80H567.70" stroke="#1b3b86" stroke-width="0.9" fill="none"/>
<path d="M569.60 32.50V38.50M567.20 32.50H572.00M567.20 38.50H572.00" stroke="#1b3b86" stroke-width="0.9" fill="none"/>
<path d="M574.00 30.70V35.70M571.60 30.70H576.40M571.60 35.70H576.40" stroke="#1b3b86" stroke-width="0.9" fill="none"/>
<path d="M578.40 28.50V33.50M576.00 28.50H580.80M576.00 33.50H580.80" stroke="#1b3b86" stroke-width="0.9" fill="none"/>
<path d="M582.20 26.00V31.00M579.80 26.00H584.60M579.80 31.00H584.60" stroke="#1b3b86" stroke-width="0.9" fill="none"/>
<path d="M585.70 24.20V29.20M583.30 24.20H588.10M583.30 29.20H588.10" stroke="#1b3b86" stroke-width="0.9" fill="none"/>
<path d="M589.20 22.70V27.70M586.80 22.70H591.60M586.80 27.70H591.60" stroke="#1b3b86" stroke-width="0.9" fill="none"/>
<path d="M592.80 21.70V26.70M590.40 21.70H595.20M590.40 26.70H595.20" stroke="#1b3b86" stroke-width="0.9" fill="none"/>
<path d="M596.50 21.20V26.20M594.10 21.20H598.90M594.10 26.20H598.90" stroke="#1b3b86" stroke-width="0.9" fill="none"/>
<path d="M600.00 20.70V25.70M597.60 20.70H602.40M597.60 25.70H602.40" stroke="#1b3b86" stroke-width="0.9" fill="none"/>
<path d="M603.50 20.70V25.70M601.10 20.70H605.90M601.10 25.70H605.90" stroke="#1b3b86" stroke-width="0.9" fill="none"/>
<path d="M606.80 20.50V25.50M604.40 20.50H609.20M604.40 25.50H609.20" stroke="#1b3b86" stroke-width="0.9" fill="none"/>
<path d="M610.20 20.00V25.00M607.80 20.00H612.60M607.80 25.00H612.60" stroke="#1b3b86" stroke-width="0.9" fill="none"/>
<path d="M613.80 18.00V23.00M611.40 18.00H616.20M611.40 23.00H616.20" stroke="#1b3b86" stroke-width="0.9" fill="none"/>
<path d="M617.80 18.30V23.30M615.40 18.30H620.20M615.40 23.30H620.20" stroke="#1b3b86" stroke-width="0.9" fill="none"/>
<path d="M622.80 17.50V22.50M620.40 17.50H625.20M620.40 22.50H625.20" stroke="#1b3b86" stroke-width="0.9" fill="none"/>
<path d="M629.20 20.10V25.10M626.80 20.10H631.60M626.80 25.10H631.60" stroke="#1b3b86" stroke-width="0.9" fill="none"/>
<path d="M641.60 23.90V28.90M639.20 23.90H644.00M639.20 28.90H644.00" stroke="#1b3b86" stroke-width="0.9" fill="none"/>
<path d="M557.30 40.30 L565.30 37.80 L569.60 35.50 L574.00 33.20 L578.40 31.00 L582.20 28.50 L585.70 26.70 L589.20 25.20 L592.80 24.20 L596.50 23.70 L600.00 23.20 L603.50 23.20 L606.80 23.00 L610.20 22.50 L613.80 20.50 L617.80 20.80 L622.80 20.00 L629.20 22.60 L641.60 26.40" stroke="#1b3b86" stroke-width="1.1" fill="none" stroke-linejoin="round"/>
<circle cx="557.30" cy="40.30" r="1.75" fill="#1b3b86"/>
<circle cx="565.30" cy="37.80" r="1.75" fill="#1b3b86"/>
<circle cx="569.60" cy="35.50" r="1.75" fill="#1b3b86"/>
<circle cx="574.00" cy="33.20" r="1.75" fill="#1b3b86"/>
<circle cx="578.40" cy="31.00" r="1.75" fill="#1b3b86"/>
<circle cx="582.20" cy="28.50" r="1.75" fill="#1b3b86"/>
<circle cx="585.70" cy="26.70" r="1.75" fill="#1b3b86"/>
<circle cx="589.20" cy="25.20" r="1.75" fill="#1b3b86"/>
<circle cx="592.80" cy="24.20" r="1.75" fill="#1b3b86"/>
<circle cx="596.50" cy="23.70" r="1.75" fill="#1b3b86"/>
<circle cx="600.00" cy="23.20" r="1.75" fill="#1b3b86"/>
<circle cx="603.50" cy="23.20" r="1.75" fill="#1b3b86"/>
<circle cx="606.80" cy="23.00" r="1.75" fill="#1b3b86"/>
<circle cx="610.20" cy="22.50" r="1.75" fill="#1b3b86"/>
<circle cx="613.80" cy="20.50" r="1.75" fill="#1b3b86"/>
<circle cx="617.80" cy="20.80" r="1.75" fill="#1b3b86"/>
<circle cx="622.80" cy="20.00" r="1.75" fill="#1b3b86"/>
<circle cx="629.20" cy="22.60" r="1.75" fill="#1b3b86"/>
<circle cx="641.60" cy="26.40" r="1.75" fill="#1b3b86"/>
<path d="M557.30 39.30V47.70M554.90 39.30H559.70M554.90 47.70H559.70" stroke="#2c7bc0" stroke-width="0.9" fill="none"/>
<path d="M565.30 34.00V45.40M562.90 34.00H567.70M562.90 45.40H567.70" stroke="#2c7bc0" stroke-width="0.9" fill="none"/>
<path d="M569.60 35.00V43.00M567.20 35.00H572.00M567.20 43.00H572.00" stroke="#2c7bc0" stroke-width="0.9" fill="none"/>
<path d="M574.00 32.70V38.70M571.60 32.70H576.40M571.60 38.70H576.40" stroke="#2c7bc0" stroke-width="0.9" fill="none"/>
<path d="M578.40 30.50V36.50M576.00 30.50H580.80M576.00 36.50H580.80" stroke="#2c7bc0" stroke-width="0.9" fill="none"/>
<path d="M582.20 27.50V33.50M579.80 27.50H584.60M579.80 33.50H584.60" stroke="#2c7bc0" stroke-width="0.9" fill="none"/>
<path d="M585.70 25.20V31.20M583.30 25.20H588.10M583.30 31.20H588.10" stroke="#2c7bc0" stroke-width="0.9" fill="none"/>
<path d="M589.20 23.70V29.70M586.80 23.70H591.60M586.80 29.70H591.60" stroke="#2c7bc0" stroke-width="0.9" fill="none"/>
<path d="M592.80 22.70V28.70M590.40 22.70H595.20M590.40 28.70H595.20" stroke="#2c7bc0" stroke-width="0.9" fill="none"/>
<path d="M596.50 21.70V27.70M594.10 21.70H598.90M594.10 27.70H598.90" stroke="#2c7bc0" stroke-width="0.9" fill="none"/>
<path d="M600.00 21.20V27.20M597.60 21.20H602.40M597.60 27.20H602.40" stroke="#2c7bc0" stroke-width="0.9" fill="none"/>
<path d="M603.50 21.50V27.50M601.10 21.50H605.90M601.10 27.50H605.90" stroke="#2c7bc0" stroke-width="0.9" fill="none"/>
<path d="M606.80 21.50V27.50M604.40 21.50H609.20M604.40 27.50H609.20" stroke="#2c7bc0" stroke-width="0.9" fill="none"/>
<path d="M610.20 22.00V28.00M607.80 22.00H612.60M607.80 28.00H612.60" stroke="#2c7bc0" stroke-width="0.9" fill="none"/>
<path d="M613.80 19.50V25.50M611.40 19.50H616.20M611.40 25.50H616.20" stroke="#2c7bc0" stroke-width="0.9" fill="none"/>
<path d="M617.80 19.80V25.80M615.40 19.80H620.20M615.40 25.80H620.20" stroke="#2c7bc0" stroke-width="0.9" fill="none"/>
<path d="M622.80 21.30V27.30M620.40 21.30H625.20M620.40 27.30H625.20" stroke="#2c7bc0" stroke-width="0.9" fill="none"/>
<path d="M629.20 20.50V26.50M626.80 20.50H631.60M626.80 26.50H631.60" stroke="#2c7bc0" stroke-width="0.9" fill="none"/>
<path d="M641.60 25.30V31.30M639.20 25.30H644.00M639.20 31.30H644.00" stroke="#2c7bc0" stroke-width="0.9" fill="none"/>
<path d="M557.30 43.50 L565.30 39.70 L569.60 39.00 L574.00 35.70 L578.40 33.50 L582.20 30.50 L585.70 28.20 L589.20 26.70 L592.80 25.70 L596.50 24.70 L600.00 24.20 L603.50 24.50 L606.80 24.50 L610.20 25.00 L613.80 22.50 L617.80 22.80 L622.80 24.30 L629.20 23.50 L641.60 28.30" stroke="#2c7bc0" stroke-width="1.1" fill="none" stroke-linejoin="round"/>
<circle cx="557.30" cy="43.50" r="1.75" fill="#2c7bc0"/>
<circle cx="565.30" cy="39.70" r="1.75" fill="#2c7bc0"/>
<circle cx="569.60" cy="39.00" r="1.75" fill="#2c7bc0"/>
<circle cx="574.00" cy="35.70" r="1.75" fill="#2c7bc0"/>
<circle cx="578.40" cy="33.50" r="1.75" fill="#2c7bc0"/>
<circle cx="582.20" cy="30.50" r="1.75" fill="#2c7bc0"/>
<circle cx="585.70" cy="28.20" r="1.75" fill="#2c7bc0"/>
<circle cx="589.20" cy="26.70" r="1.75" fill="#2c7bc0"/>
<circle cx="592.80" cy="25.70" r="1.75" fill="#2c7bc0"/>
<circle cx="596.50" cy="24.70" r="1.75" fill="#2c7bc0"/>
<circle cx="600.00" cy="24.20" r="1.75" fill="#2c7bc0"/>
<circle cx="603.50" cy="24.50" r="1.75" fill="#2c7bc0"/>
<circle cx="606.80" cy="24.50" r="1.75" fill="#2c7bc0"/>
<circle cx="610.20" cy="25.00" r="1.75" fill="#2c7bc0"/>
<circle cx="613.80" cy="22.50" r="1.75" fill="#2c7bc0"/>
<circle cx="617.80" cy="22.80" r="1.75" fill="#2c7bc0"/>
<circle cx="622.80" cy="24.30" r="1.75" fill="#2c7bc0"/>
<circle cx="629.20" cy="23.50" r="1.75" fill="#2c7bc0"/>
<circle cx="641.60" cy="28.30" r="1.75" fill="#2c7bc0"/>
<path d="M557.30 77.10V82.30M554.90 77.10H559.70M554.90 82.30H559.70" stroke="#8fcae3" stroke-width="0.9" fill="none"/>
<path d="M565.30 79.80V83.80M562.90 79.80H567.70M562.90 83.80H567.70" stroke="#8fcae3" stroke-width="0.9" fill="none"/>
<path d="M569.60 80.50V84.50M567.20 80.50H572.00M567.20 84.50H572.00" stroke="#8fcae3" stroke-width="0.9" fill="none"/>
<path d="M574.00 79.80V83.80M571.60 79.80H576.40M571.60 83.80H576.40" stroke="#8fcae3" stroke-width="0.9" fill="none"/>
<path d="M578.40 79.80V83.80M576.00 79.80H580.80M576.00 83.80H580.80" stroke="#8fcae3" stroke-width="0.9" fill="none"/>
<path d="M582.20 80.50V84.50M579.80 80.50H584.60M579.80 84.50H584.60" stroke="#8fcae3" stroke-width="0.9" fill="none"/>
<path d="M585.70 79.10V83.10M583.30 79.10H588.10M583.30 83.10H588.10" stroke="#8fcae3" stroke-width="0.9" fill="none"/>
<path d="M589.20 79.10V83.10M586.80 79.10H591.60M586.80 83.10H591.60" stroke="#8fcae3" stroke-width="0.9" fill="none"/>
<path d="M592.80 78.40V82.40M590.40 78.40H595.20M590.40 82.40H595.20" stroke="#8fcae3" stroke-width="0.9" fill="none"/>
<path d="M596.50 79.80V83.80M594.10 79.80H598.90M594.10 83.80H598.90" stroke="#8fcae3" stroke-width="0.9" fill="none"/>
<path d="M600.00 78.40V82.40M597.60 78.40H602.40M597.60 82.40H602.40" stroke="#8fcae3" stroke-width="0.9" fill="none"/>
<path d="M603.50 77.70V81.70M601.10 77.70H605.90M601.10 81.70H605.90" stroke="#8fcae3" stroke-width="0.9" fill="none"/>
<path d="M606.80 78.40V82.40M604.40 78.40H609.20M604.40 82.40H609.20" stroke="#8fcae3" stroke-width="0.9" fill="none"/>
<path d="M610.20 78.40V82.40M607.80 78.40H612.60M607.80 82.40H612.60" stroke="#8fcae3" stroke-width="0.9" fill="none"/>
<path d="M613.80 79.80V83.80M611.40 79.80H616.20M611.40 83.80H616.20" stroke="#8fcae3" stroke-width="0.9" fill="none"/>
<path d="M617.80 79.80V83.80M615.40 79.80H620.20M615.40 83.80H620.20" stroke="#8fcae3" stroke-width="0.9" fill="none"/>
<path d="M622.80 81.20V85.20M620.40 81.20H625.20M620.40 85.20H625.20" stroke="#8fcae3" stroke-width="0.9" fill="none"/>
<path d="M629.20 79.10V83.10M626.80 79.10H631.60M626.80 83.10H631.60" stroke="#8fcae3" stroke-width="0.9" fill="none"/>
<path d="M641.60 82.60V86.60M639.20 82.60H644.00M639.20 86.60H644.00" stroke="#8fcae3" stroke-width="0.9" fill="none"/>
<path d="M557.30 79.70 L565.30 81.80 L569.60 82.50 L574.00 81.80 L578.40 81.80 L582.20 82.50 L585.70 81.10 L589.20 81.10 L592.80 80.40 L596.50 81.80 L600.00 80.40 L603.50 79.70 L606.80 80.40 L610.20 80.40 L613.80 81.80 L617.80 81.80 L622.80 83.20 L629.20 81.10 L641.60 84.60" stroke="#8fcae3" stroke-width="1.1" fill="none" stroke-linejoin="round"/>
<circle cx="557.30" cy="79.70" r="1.75" fill="#8fcae3"/>
<circle cx="565.30" cy="81.80" r="1.75" fill="#8fcae3"/>
<circle cx="569.60" cy="82.50" r="1.75" fill="#8fcae3"/>
<circle cx="574.00" cy="81.80" r="1.75" fill="#8fcae3"/>
<circle cx="578.40" cy="81.80" r="1.75" fill="#8fcae3"/>
<circle cx="582.20" cy="82.50" r="1.75" fill="#8fcae3"/>
<circle cx="585.70" cy="81.10" r="1.75" fill="#8fcae3"/>
<circle cx="589.20" cy="81.10" r="1.75" fill="#8fcae3"/>
<circle cx="592.80" cy="80.40" r="1.75" fill="#8fcae3"/>
<circle cx="596.50" cy="81.80" r="1.75" fill="#8fcae3"/>
<circle cx="600.00" cy="80.40" r="1.75" fill="#8fcae3"/>
<circle cx="603.50" cy="79.70" r="1.75" fill="#8fcae3"/>
<circle cx="606.80" cy="80.40" r="1.75" fill="#8fcae3"/>
<circle cx="610.20" cy="80.40" r="1.75" fill="#8fcae3"/>
<circle cx="613.80" cy="81.80" r="1.75" fill="#8fcae3"/>
<circle cx="617.80" cy="81.80" r="1.75" fill="#8fcae3"/>
<circle cx="622.80" cy="83.20" r="1.75" fill="#8fcae3"/>
<circle cx="629.20" cy="81.10" r="1.75" fill="#8fcae3"/>
<circle cx="641.60" cy="84.60" r="1.75" fill="#8fcae3"/>
<path d="M557.30 30.10V35.10M554.90 30.10H559.70M554.90 35.10H559.70" stroke="#c8202f" stroke-width="0.9" fill="none"/>
<path d="M565.30 25.00V30.00M562.90 25.00H567.70M562.90 30.00H567.70" stroke="#c8202f" stroke-width="0.9" fill="none"/>
<path d="M569.60 25.00V30.00M567.20 25.00H572.00M567.20 30.00H572.00" stroke="#c8202f" stroke-width="0.9" fill="none"/>
<path d="M574.00 22.40V26.80M571.60 22.40H576.40M571.60 26.80H576.40" stroke="#c8202f" stroke-width="0.9" fill="none"/>
<path d="M578.40 19.50V23.90M576.00 19.50H580.80M576.00 23.90H580.80" stroke="#c8202f" stroke-width="0.9" fill="none"/>
<path d="M582.20 16.60V21.00M579.80 16.60H584.60M579.80 21.00H584.60" stroke="#c8202f" stroke-width="0.9" fill="none"/>
<path d="M585.70 14.40V18.80M583.30 14.40H588.10M583.30 18.80H588.10" stroke="#c8202f" stroke-width="0.9" fill="none"/>
<path d="M589.20 13.00V17.40M586.80 13.00H591.60M586.80 17.40H591.60" stroke="#c8202f" stroke-width="0.9" fill="none"/>
<path d="M592.80 12.80V17.20M590.40 12.80H595.20M590.40 17.20H595.20" stroke="#c8202f" stroke-width="0.9" fill="none"/>
<path d="M596.50 11.80V16.20M594.10 11.80H598.90M594.10 16.20H598.90" stroke="#c8202f" stroke-width="0.9" fill="none"/>
<path d="M600.00 11.50V15.90M597.60 11.50H602.40M597.60 15.90H602.40" stroke="#c8202f" stroke-width="0.9" fill="none"/>
<path d="M603.50 12.40V16.80M601.10 12.40H605.90M601.10 16.80H605.90" stroke="#c8202f" stroke-width="0.9" fill="none"/>
<path d="M606.80 13.30V17.70M604.40 13.30H609.20M604.40 17.70H609.20" stroke="#c8202f" stroke-width="0.9" fill="none"/>
<path d="M610.20 8.80V13.20M607.80 8.80H612.60M607.80 13.20H612.60" stroke="#c8202f" stroke-width="0.9" fill="none"/>
<path d="M613.80 10.00V14.40M611.40 10.00H616.20M611.40 14.40H616.20" stroke="#c8202f" stroke-width="0.9" fill="none"/>
<path d="M617.80 10.00V14.40M615.40 10.00H620.20M615.40 14.40H620.20" stroke="#c8202f" stroke-width="0.9" fill="none"/>
<path d="M622.80 10.00V14.40M620.40 10.00H625.20M620.40 14.40H625.20" stroke="#c8202f" stroke-width="0.9" fill="none"/>
<path d="M629.20 11.80V16.20M626.80 11.80H631.60M626.80 16.20H631.60" stroke="#c8202f" stroke-width="0.9" fill="none"/>
<path d="M641.60 15.70V20.70M639.20 15.70H644.00M639.20 20.70H644.00" stroke="#c8202f" stroke-width="0.9" fill="none"/>
<path d="M557.30 32.60 L565.30 27.50 L569.60 27.50 L574.00 24.60 L578.40 21.70 L582.20 18.80 L585.70 16.60 L589.20 15.20 L592.80 15.00 L596.50 14.00 L600.00 13.70 L603.50 14.60 L606.80 15.50 L610.20 11.00 L613.80 12.20 L617.80 12.20 L622.80 12.20 L629.20 14.00 L641.60 18.20" stroke="#c8202f" stroke-width="1.1" fill="none" stroke-linejoin="round"/>
<circle cx="557.30" cy="32.60" r="1.75" fill="#c8202f"/>
<circle cx="565.30" cy="27.50" r="1.75" fill="#c8202f"/>
<circle cx="569.60" cy="27.50" r="1.75" fill="#c8202f"/>
<circle cx="574.00" cy="24.60" r="1.75" fill="#c8202f"/>
<circle cx="578.40" cy="21.70" r="1.75" fill="#c8202f"/>
<circle cx="582.20" cy="18.80" r="1.75" fill="#c8202f"/>
<circle cx="585.70" cy="16.60" r="1.75" fill="#c8202f"/>
<circle cx="589.20" cy="15.20" r="1.75" fill="#c8202f"/>
<circle cx="592.80" cy="15.00" r="1.75" fill="#c8202f"/>
<circle cx="596.50" cy="14.00" r="1.75" fill="#c8202f"/>
<circle cx="600.00" cy="13.70" r="1.75" fill="#c8202f"/>
<circle cx="603.50" cy="14.60" r="1.75" fill="#c8202f"/>
<circle cx="606.80" cy="15.50" r="1.75" fill="#c8202f"/>
<circle cx="610.20" cy="11.00" r="1.75" fill="#c8202f"/>
<circle cx="613.80" cy="12.20" r="1.75" fill="#c8202f"/>
<circle cx="617.80" cy="12.20" r="1.75" fill="#c8202f"/>
<circle cx="622.80" cy="12.20" r="1.75" fill="#c8202f"/>
<circle cx="629.20" cy="14.00" r="1.75" fill="#c8202f"/>
<circle cx="641.60" cy="18.20" r="1.75" fill="#c8202f"/>
<path d="M65.40 153.30V168.10M63.00 153.30H67.80M63.00 168.10H67.80" stroke="#1b3b86" stroke-width="0.9" fill="none"/>
<path d="M77.70 154.40V164.60M75.30 154.40H80.10M75.30 164.60H80.10" stroke="#1b3b86" stroke-width="0.9" fill="none"/>
<path d="M82.90 155.20V165.20M80.50 155.20H85.30M80.50 165.20H85.30" stroke="#1b3b86" stroke-width="0.9" fill="none"/>
<path d="M88.40 154.80V160.80M86.00 154.80H90.80M86.00 160.80H90.80" stroke="#1b3b86" stroke-width="0.9" fill="none"/>
<path d="M93.40 158.20V163.60M91.00 158.20H95.80M91.00 163.60H95.80" stroke="#1b3b86" stroke-width="0.9" fill="none"/>
<path d="M96.80 160.90V166.30M94.40 160.90H99.20M94.40 166.30H99.20" stroke="#1b3b86" stroke-width="0.9" fill="none"/>
<path d="M99.70 160.80V166.20M97.30 160.80H102.10M97.30 166.20H102.10" stroke="#1b3b86" stroke-width="0.9" fill="none"/>
<path d="M102.60 163.10V168.50M100.20 163.10H105.00M100.20 168.50H105.00" stroke="#1b3b86" stroke-width="0.9" fill="none"/>
<path d="M105.80 165.90V171.30M103.40 165.90H108.20M103.40 171.30H108.20" stroke="#1b3b86" stroke-width="0.9" fill="none"/>
<path d="M108.90 168.60V174.00M106.50 168.60H111.30M106.50 174.00H111.30" stroke="#1b3b86" stroke-width="0.9" fill="none"/>
<path d="M112.10 171.50V176.90M109.70 171.50H114.50M109.70 176.90H114.50" stroke="#1b3b86" stroke-width="0.9" fill="none"/>
<path d="M115.20 174.30V179.70M112.80 174.30H117.60M112.80 179.70H117.60" stroke="#1b3b86" stroke-width="0.9" fill="none"/>
<path d="M118.40 177.10V182.50M116.00 177.10H120.80M116.00 182.50H120.80" stroke="#1b3b86" stroke-width="0.9" fill="none"/>
<path d="M121.60 179.10V184.50M119.20 179.10H124.00M119.20 184.50H124.00" stroke="#1b3b86" stroke-width="0.9" fill="none"/>
<path d="M124.70 181.30V186.70M122.30 181.30H127.10M122.30 186.70H127.10" stroke="#1b3b86" stroke-width="0.9" fill="none"/>
<path d="M127.90 182.60V188.00M125.50 182.60H130.30M125.50 188.00H130.30" stroke="#1b3b86" stroke-width="0.9" fill="none"/>
<path d="M131.00 186.30V191.70M128.60 186.30H133.40M128.60 191.70H133.40" stroke="#1b3b86" stroke-width="0.9" fill="none"/>
<path d="M134.40 189.30V195.30M132.00 189.30H136.80M132.00 195.30H136.80" stroke="#1b3b86" stroke-width="0.9" fill="none"/>
<path d="M142.20 194.30V200.70M139.80 194.30H144.60M139.80 200.70H144.60" stroke="#1b3b86" stroke-width="0.9" fill="none"/>
<path d="M65.40 160.70 L77.70 159.50 L82.90 160.20 L88.40 157.80 L93.40 160.90 L96.80 163.60 L99.70 163.50 L102.60 165.80 L105.80 168.60 L108.90 171.30 L112.10 174.20 L115.20 177.00 L118.40 179.80 L121.60 181.80 L124.70 184.00 L127.90 185.30 L131.00 189.00 L134.40 192.30 L142.20 197.50" stroke="#1b3b86" stroke-width="1.1" fill="none" stroke-linejoin="round"/>
<circle cx="65.40" cy="160.70" r="1.75" fill="#1b3b86"/>
<circle cx="77.70" cy="159.50" r="1.75" fill="#1b3b86"/>
<circle cx="82.90" cy="160.20" r="1.75" fill="#1b3b86"/>
<circle cx="88.40" cy="157.80" r="1.75" fill="#1b3b86"/>
<circle cx="93.40" cy="160.90" r="1.75" fill="#1b3b86"/>
<circle cx="96.80" cy="163.60" r="1.75" fill="#1b3b86"/>
<circle cx="99.70" cy="163.50" r="1.75" fill="#1b3b86"/>
<circle cx="102.60" cy="165.80" r="1.75" fill="#1b3b86"/>
<circle cx="105.80" cy="168.60" r="1.75" fill="#1b3b86"/>
<circle cx="108.90" cy="171.30" r="1.75" fill="#1b3b86"/>
<circle cx="112.10" cy="174.20" r="1.75" fill="#1b3b86"/>
<circle cx="115.20" cy="177.00" r="1.75" fill="#1b3b86"/>
<circle cx="118.40" cy="179.80" r="1.75" fill="#1b3b86"/>
<circle cx="121.60" cy="181.80" r="1.75" fill="#1b3b86"/>
<circle cx="124.70" cy="184.00" r="1.75" fill="#1b3b86"/>
<circle cx="127.90" cy="185.30" r="1.75" fill="#1b3b86"/>
<circle cx="131.00" cy="189.00" r="1.75" fill="#1b3b86"/>
<circle cx="134.40" cy="192.30" r="1.75" fill="#1b3b86"/>
<circle cx="142.20" cy="197.50" r="1.75" fill="#1b3b86"/>
<path d="M65.40 186.90V202.90M63.00 186.90H67.80M63.00 202.90H67.80" stroke="#2c7bc0" stroke-width="0.9" fill="none"/>
<path d="M77.70 186.50V198.10M75.30 186.50H80.10M75.30 198.10H80.10" stroke="#2c7bc0" stroke-width="0.9" fill="none"/>
<path d="M82.90 183.50V194.50M80.50 183.50H85.30M80.50 194.50H85.30" stroke="#2c7bc0" stroke-width="0.9" fill="none"/>
<path d="M88.40 187.70V194.90M86.00 187.70H90.80M86.00 194.90H90.80" stroke="#2c7bc0" stroke-width="0.9" fill="none"/>
<path d="M93.40 188.50V194.50M91.00 188.50H95.80M91.00 194.50H95.80" stroke="#2c7bc0" stroke-width="0.9" fill="none"/>
<path d="M96.80 192.50V198.50M94.40 192.50H99.20M94.40 198.50H99.20" stroke="#2c7bc0" stroke-width="0.9" fill="none"/>
<path d="M99.70 192.10V198.10M97.30 192.10H102.10M97.30 198.10H102.10" stroke="#2c7bc0" stroke-width="0.9" fill="none"/>
<path d="M102.60 193.20V199.20M100.20 193.20H105.00M100.20 199.20H105.00" stroke="#2c7bc0" stroke-width="0.9" fill="none"/>
<path d="M105.80 195.00V201.00M103.40 195.00H108.20M103.40 201.00H108.20" stroke="#2c7bc0" stroke-width="0.9" fill="none"/>
<path d="M108.90 198.50V204.50M106.50 198.50H111.30M106.50 204.50H111.30" stroke="#2c7bc0" stroke-width="0.9" fill="none"/>
<path d="M112.10 202.00V208.00M109.70 202.00H114.50M109.70 208.00H114.50" stroke="#2c7bc0" stroke-width="0.9" fill="none"/>
<path d="M115.20 205.00V211.00M112.80 205.00H117.60M112.80 211.00H117.60" stroke="#2c7bc0" stroke-width="0.9" fill="none"/>
<path d="M118.40 206.60V212.60M116.00 206.60H120.80M116.00 212.60H120.80" stroke="#2c7bc0" stroke-width="0.9" fill="none"/>
<path d="M121.60 208.80V214.80M119.20 208.80H124.00M119.20 214.80H124.00" stroke="#2c7bc0" stroke-width="0.9" fill="none"/>
<path d="M124.70 208.80V214.80M122.30 208.80H127.10M122.30 214.80H127.10" stroke="#2c7bc0" stroke-width="0.9" fill="none"/>
<path d="M127.90 210.30V216.30M125.50 210.30H130.30M125.50 216.30H130.30" stroke="#2c7bc0" stroke-width="0.9" fill="none"/>
<path d="M131.00 212.50V218.50M128.60 212.50H133.40M128.60 218.50H133.40" stroke="#2c7bc0" stroke-width="0.9" fill="none"/>
<path d="M134.40 213.90V220.30M132.00 213.90H136.80M132.00 220.30H136.80" stroke="#2c7bc0" stroke-width="0.9" fill="none"/>
<path d="M142.20 219.60V226.40M139.80 219.60H144.60M139.80 226.40H144.60" stroke="#2c7bc0" stroke-width="0.9" fill="none"/>
<path d="M65.40 194.90 L77.70 192.30 L82.90 189.00 L88.40 191.30 L93.40 191.50 L96.80 195.50 L99.70 195.10 L102.60 196.20 L105.80 198.00 L108.90 201.50 L112.10 205.00 L115.20 208.00 L118.40 209.60 L121.60 211.80 L124.70 211.80 L127.90 213.30 L131.00 215.50 L134.40 217.10 L142.20 223.00" stroke="#2c7bc0" stroke-width="1.1" fill="none" stroke-linejoin="round"/>
<circle cx="65.40" cy="194.90" r="1.75" fill="#2c7bc0"/>
<circle cx="77.70" cy="192.30" r="1.75" fill="#2c7bc0"/>
<circle cx="82.90" cy="189.00" r="1.75" fill="#2c7bc0"/>
<circle cx="88.40" cy="191.30" r="1.75" fill="#2c7bc0"/>
<circle cx="93.40" cy="191.50" r="1.75" fill="#2c7bc0"/>
<circle cx="96.80" cy="195.50" r="1.75" fill="#2c7bc0"/>
<circle cx="99.70" cy="195.10" r="1.75" fill="#2c7bc0"/>
<circle cx="102.60" cy="196.20" r="1.75" fill="#2c7bc0"/>
<circle cx="105.80" cy="198.00" r="1.75" fill="#2c7bc0"/>
<circle cx="108.90" cy="201.50" r="1.75" fill="#2c7bc0"/>
<circle cx="112.10" cy="205.00" r="1.75" fill="#2c7bc0"/>
<circle cx="115.20" cy="208.00" r="1.75" fill="#2c7bc0"/>
<circle cx="118.40" cy="209.60" r="1.75" fill="#2c7bc0"/>
<circle cx="121.60" cy="211.80" r="1.75" fill="#2c7bc0"/>
<circle cx="124.70" cy="211.80" r="1.75" fill="#2c7bc0"/>
<circle cx="127.90" cy="213.30" r="1.75" fill="#2c7bc0"/>
<circle cx="131.00" cy="215.50" r="1.75" fill="#2c7bc0"/>
<circle cx="134.40" cy="217.10" r="1.75" fill="#2c7bc0"/>
<circle cx="142.20" cy="223.00" r="1.75" fill="#2c7bc0"/>
<path d="M65.40 167.00V181.00M63.00 167.00H67.80M63.00 181.00H67.80" stroke="#c8202f" stroke-width="0.9" fill="none"/>
<path d="M77.70 168.50V178.90M75.30 168.50H80.10M75.30 178.90H80.10" stroke="#c8202f" stroke-width="0.9" fill="none"/>
<path d="M82.90 167.80V177.80M80.50 167.80H85.30M80.50 177.80H85.30" stroke="#c8202f" stroke-width="0.9" fill="none"/>
<path d="M88.40 168.30V174.30M86.00 168.30H90.80M86.00 174.30H90.80" stroke="#c8202f" stroke-width="0.9" fill="none"/>
<path d="M93.40 171.20V176.60M91.00 171.20H95.80M91.00 176.60H95.80" stroke="#c8202f" stroke-width="0.9" fill="none"/>
<path d="M96.80 173.10V178.50M94.40 173.10H99.20M94.40 178.50H99.20" stroke="#c8202f" stroke-width="0.9" fill="none"/>
<path d="M99.70 173.90V179.30M97.30 173.90H102.10M97.30 179.30H102.10" stroke="#c8202f" stroke-width="0.9" fill="none"/>
<path d="M102.60 175.10V180.50M100.20 175.10H105.00M100.20 180.50H105.00" stroke="#c8202f" stroke-width="0.9" fill="none"/>
<path d="M105.80 176.60V182.00M103.40 176.60H108.20M103.40 182.00H108.20" stroke="#c8202f" stroke-width="0.9" fill="none"/>
<path d="M108.90 179.30V184.70M106.50 179.30H111.30M106.50 184.70H111.30" stroke="#c8202f" stroke-width="0.9" fill="none"/>
<path d="M112.10 181.90V187.30M109.70 181.90H114.50M109.70 187.30H114.50" stroke="#c8202f" stroke-width="0.9" fill="none"/>
<path d="M115.20 185.10V190.50M112.80 185.10H117.60M112.80 190.50H117.60" stroke="#c8202f" stroke-width="0.9" fill="none"/>
<path d="M118.40 187.90V193.30M116.00 187.90H120.80M116.00 193.30H120.80" stroke="#c8202f" stroke-width="0.9" fill="none"/>
<path d="M121.60 189.90V195.30M119.20 189.90H124.00M119.20 195.30H124.00" stroke="#c8202f" stroke-width="0.9" fill="none"/>
<path d="M124.70 192.30V197.70M122.30 192.30H127.10M122.30 197.70H127.10" stroke="#c8202f" stroke-width="0.9" fill="none"/>
<path d="M127.90 193.30V198.70M125.50 193.30H130.30M125.50 198.70H130.30" stroke="#c8202f" stroke-width="0.9" fill="none"/>
<path d="M131.00 196.10V201.50M128.60 196.10H133.40M128.60 201.50H133.40" stroke="#c8202f" stroke-width="0.9" fill="none"/>
<path d="M134.40 199.60V205.60M132.00 199.60H136.80M132.00 205.60H136.80" stroke="#c8202f" stroke-width="0.9" fill="none"/>
<path d="M142.20 204.90V211.30M139.80 204.90H144.60M139.80 211.30H144.60" stroke="#c8202f" stroke-width="0.9" fill="none"/>
<path d="M65.40 174.00 L77.70 173.70 L82.90 172.80 L88.40 171.30 L93.40 173.90 L96.80 175.80 L99.70 176.60 L102.60 177.80 L105.80 179.30 L108.90 182.00 L112.10 184.60 L115.20 187.80 L118.40 190.60 L121.60 192.60 L124.70 195.00 L127.90 196.00 L131.00 198.80 L134.40 202.60 L142.20 208.10" stroke="#c8202f" stroke-width="1.1" fill="none" stroke-linejoin="round"/>
<circle cx="65.40" cy="174.00" r="1.75" fill="#c8202f"/>
<circle cx="77.70" cy="173.70" r="1.75" fill="#c8202f"/>
<circle cx="82.90" cy="172.80" r="1.75" fill="#c8202f"/>
<circle cx="88.40" cy="171.30" r="1.75" fill="#c8202f"/>
<circle cx="93.40" cy="173.90" r="1.75" fill="#c8202f"/>
<circle cx="96.80" cy="175.80" r="1.75" fill="#c8202f"/>
<circle cx="99.70" cy="176.60" r="1.75" fill="#c8202f"/>
<circle cx="102.60" cy="177.80" r="1.75" fill="#c8202f"/>
<circle cx="105.80" cy="179.30" r="1.75" fill="#c8202f"/>
<circle cx="108.90" cy="182.00" r="1.75" fill="#c8202f"/>
<circle cx="112.10" cy="184.60" r="1.75" fill="#c8202f"/>
<circle cx="115.20" cy="187.80" r="1.75" fill="#c8202f"/>
<circle cx="118.40" cy="190.60" r="1.75" fill="#c8202f"/>
<circle cx="121.60" cy="192.60" r="1.75" fill="#c8202f"/>
<circle cx="124.70" cy="195.00" r="1.75" fill="#c8202f"/>
<circle cx="127.90" cy="196.00" r="1.75" fill="#c8202f"/>
<circle cx="131.00" cy="198.80" r="1.75" fill="#c8202f"/>
<circle cx="134.40" cy="202.60" r="1.75" fill="#c8202f"/>
<circle cx="142.20" cy="208.10" r="1.75" fill="#c8202f"/>
<path d="M239.00 226.50V228.50M236.60 226.50H241.40M236.60 228.50H241.40" stroke="#1b3b86" stroke-width="0.9" fill="none"/>
<path d="M251.30 224.20V226.20M248.90 224.20H253.70M248.90 226.20H253.70" stroke="#1b3b86" stroke-width="0.9" fill="none"/>
<path d="M256.50 223.70V225.70M254.10 223.70H258.90M254.10 225.70H258.90" stroke="#1b3b86" stroke-width="0.9" fill="none"/>
<path d="M262.00 221.50V223.50M259.60 221.50H264.40M259.60 223.50H264.40" stroke="#1b3b86" stroke-width="0.9" fill="none"/>
<path d="M267.00 221.00V223.00M264.60 221.00H269.40M264.60 223.00H269.40" stroke="#1b3b86" stroke-width="0.9" fill="none"/>
<path d="M270.40 219.70V221.70M268.00 219.70H272.80M268.00 221.70H272.80" stroke="#1b3b86" stroke-width="0.9" fill="none"/>
<path d="M273.30 219.20V221.20M270.90 219.20H275.70M270.90 221.20H275.70" stroke="#1b3b86" stroke-width="0.9" fill="none"/>
<path d="M276.20 218.80V220.80M273.80 218.80H278.60M273.80 220.80H278.60" stroke="#1b3b86" stroke-width="0.9" fill="none"/>
<path d="M279.40 218.20V220.20M277.00 218.20H281.80M277.00 220.20H281.80" stroke="#1b3b86" stroke-width="0.9" fill="none"/>
<path d="M282.50 217.70V219.70M280.10 217.70H284.90M280.10 219.70H284.90" stroke="#1b3b86" stroke-width="0.9" fill="none"/>
<path d="M285.70 217.20V219.20M283.30 217.20H288.10M283.30 219.20H288.10" stroke="#1b3b86" stroke-width="0.9" fill="none"/>
<path d="M288.80 216.70V218.70M286.40 216.70H291.20M286.40 218.70H291.20" stroke="#1b3b86" stroke-width="0.9" fill="none"/>
<path d="M292.00 216.70V218.70M289.60 216.70H294.40M289.60 218.70H294.40" stroke="#1b3b86" stroke-width="0.9" fill="none"/>
<path d="M295.20 216.90V218.90M292.80 216.90H297.60M292.80 218.90H297.60" stroke="#1b3b86" stroke-width="0.9" fill="none"/>
<path d="M298.30 217.20V219.20M295.90 217.20H300.70M295.90 219.20H300.70" stroke="#1b3b86" stroke-width="0.9" fill="none"/>
<path d="M301.50 216.40V218.40M299.10 216.40H303.90M299.10 218.40H303.90" stroke="#1b3b86" stroke-width="0.9" fill="none"/>
<path d="M304.60 216.10V218.10M302.20 216.10H307.00M302.20 218.10H307.00" stroke="#1b3b86" stroke-width="0.9" fill="none"/>
<path d="M308.00 217.70V219.70M305.60 217.70H310.40M305.60 219.70H310.40" stroke="#1b3b86" stroke-width="0.9" fill="none"/>
<path d="M315.80 219.00V221.00M313.40 219.00H318.20M313.40 221.00H318.20" stroke="#1b3b86" stroke-width="0.9" fill="none"/>
<path d="M239.00 227.50 L251.30 225.20 L256.50 224.70 L262.00 222.50 L267.00 222.00 L270.40 220.70 L273.30 220.20 L276.20 219.80 L279.40 219.20 L282.50 218.70 L285.70 218.20 L288.80 217.70 L292.00 217.70 L295.20 217.90 L298.30 218.20 L301.50 217.40 L304.60 217.10 L308.00 218.70 L315.80 220.00" stroke="#1b3b86" stroke-width="1.1" fill="none" stroke-linejoin="round"/>
<circle cx="239.00" cy="227.50" r="1.75" fill="#1b3b86"/>
<circle cx="251.30" cy="225.20" r="1.75" fill="#1b3b86"/>
<circle cx="256.50" cy="224.70" r="1.75" fill="#1b3b86"/>
<circle cx="262.00" cy="222.50" r="1.75" fill="#1b3b86"/>
<circle cx="267.00" cy="222.00" r="1.75" fill="#1b3b86"/>
<circle cx="270.40" cy="220.70" r="1.75" fill="#1b3b86"/>
<circle cx="273.30" cy="220.20" r="1.75" fill="#1b3b86"/>
<circle cx="276.20" cy="219.80" r="1.75" fill="#1b3b86"/>
<circle cx="279.40" cy="219.20" r="1.75" fill="#1b3b86"/>
<circle cx="282.50" cy="218.70" r="1.75" fill="#1b3b86"/>
<circle cx="285.70" cy="218.20" r="1.75" fill="#1b3b86"/>
<circle cx="288.80" cy="217.70" r="1.75" fill="#1b3b86"/>
<circle cx="292.00" cy="217.70" r="1.75" fill="#1b3b86"/>
<circle cx="295.20" cy="217.90" r="1.75" fill="#1b3b86"/>
<circle cx="298.30" cy="218.20" r="1.75" fill="#1b3b86"/>
<circle cx="301.50" cy="217.40" r="1.75" fill="#1b3b86"/>
<circle cx="304.60" cy="217.10" r="1.75" fill="#1b3b86"/>
<circle cx="308.00" cy="218.70" r="1.75" fill="#1b3b86"/>
<circle cx="315.80" cy="220.00" r="1.75" fill="#1b3b86"/>
<path d="M239.00 229.00V231.00M236.60 229.00H241.40M236.60 231.00H241.40" stroke="#2c7bc0" stroke-width="0.9" fill="none"/>
<path d="M251.30 228.60V230.60M248.90 228.60H253.70M248.90 230.60H253.70" stroke="#2c7bc0" stroke-width="0.9" fill="none"/>
<path d="M256.50 226.80V228.80M254.10 226.80H258.90M254.10 228.80H258.90" stroke="#2c7bc0" stroke-width="0.9" fill="none"/>
<path d="M262.00 227.20V229.20M259.60 227.20H264.40M259.60 229.20H264.40" stroke="#2c7bc0" stroke-width="0.9" fill="none"/>
<path d="M267.00 226.30V228.30M264.60 226.30H269.40M264.60 228.30H269.40" stroke="#2c7bc0" stroke-width="0.9" fill="none"/>
<path d="M270.40 225.00V227.00M268.00 225.00H272.80M268.00 227.00H272.80" stroke="#2c7bc0" stroke-width="0.9" fill="none"/>
<path d="M273.30 224.50V226.50M270.90 224.50H275.70M270.90 226.50H275.70" stroke="#2c7bc0" stroke-width="0.9" fill="none"/>
<path d="M276.20 223.50V225.50M273.80 223.50H278.60M273.80 225.50H278.60" stroke="#2c7bc0" stroke-width="0.9" fill="none"/>
<path d="M279.40 222.90V224.90M277.00 222.90H281.80M277.00 224.90H281.80" stroke="#2c7bc0" stroke-width="0.9" fill="none"/>
<path d="M282.50 222.40V224.40M280.10 222.40H284.90M280.10 224.40H284.90" stroke="#2c7bc0" stroke-width="0.9" fill="none"/>
<path d="M285.70 221.80V223.80M283.30 221.80H288.10M283.30 223.80H288.10" stroke="#2c7bc0" stroke-width="0.9" fill="none"/>
<path d="M288.80 221.80V223.80M286.40 221.80H291.20M286.40 223.80H291.20" stroke="#2c7bc0" stroke-width="0.9" fill="none"/>
<path d="M292.00 221.30V223.30M289.60 221.30H294.40M289.60 223.30H294.40" stroke="#2c7bc0" stroke-width="0.9" fill="none"/>
<path d="M295.20 221.10V223.10M292.80 221.10H297.60M292.80 223.10H297.60" stroke="#2c7bc0" stroke-width="0.9" fill="none"/>
<path d="M298.30 221.30V223.30M295.90 221.30H300.70M295.90 223.30H300.70" stroke="#2c7bc0" stroke-width="0.9" fill="none"/>
<path d="M301.50 220.80V222.80M299.10 220.80H303.90M299.10 222.80H303.90" stroke="#2c7bc0" stroke-width="0.9" fill="none"/>
<path d="M304.60 221.30V223.30M302.20 221.30H307.00M302.20 223.30H307.00" stroke="#2c7bc0" stroke-width="0.9" fill="none"/>
<path d="M308.00 222.40V224.40M305.60 222.40H310.40M305.60 224.40H310.40" stroke="#2c7bc0" stroke-width="0.9" fill="none"/>
<path d="M315.80 222.50V224.50M313.40 222.50H318.20M313.40 224.50H318.20" stroke="#2c7bc0" stroke-width="0.9" fill="none"/>
<path d="M239.00 230.00 L251.30 229.60 L256.50 227.80 L262.00 228.20 L267.00 227.30 L270.40 226.00 L273.30 225.50 L276.20 224.50 L279.40 223.90 L282.50 223.40 L285.70 222.80 L288.80 222.80 L292.00 222.30 L295.20 222.10 L298.30 222.30 L301.50 221.80 L304.60 222.30 L308.00 223.40 L315.80 223.50" stroke="#2c7bc0" stroke-width="1.1" fill="none" stroke-linejoin="round"/>
<circle cx="239.00" cy="230.00" r="1.75" fill="#2c7bc0"/>
<circle cx="251.30" cy="229.60" r="1.75" fill="#2c7bc0"/>
<circle cx="256.50" cy="227.80" r="1.75" fill="#2c7bc0"/>
<circle cx="262.00" cy="228.20" r="1.75" fill="#2c7bc0"/>
<circle cx="267.00" cy="227.30" r="1.75" fill="#2c7bc0"/>
<circle cx="270.40" cy="226.00" r="1.75" fill="#2c7bc0"/>
<circle cx="273.30" cy="225.50" r="1.75" fill="#2c7bc0"/>
<circle cx="276.20" cy="224.50" r="1.75" fill="#2c7bc0"/>
<circle cx="279.40" cy="223.90" r="1.75" fill="#2c7bc0"/>
<circle cx="282.50" cy="223.40" r="1.75" fill="#2c7bc0"/>
<circle cx="285.70" cy="222.80" r="1.75" fill="#2c7bc0"/>
<circle cx="288.80" cy="222.80" r="1.75" fill="#2c7bc0"/>
<circle cx="292.00" cy="222.30" r="1.75" fill="#2c7bc0"/>
<circle cx="295.20" cy="222.10" r="1.75" fill="#2c7bc0"/>
<circle cx="298.30" cy="222.30" r="1.75" fill="#2c7bc0"/>
<circle cx="301.50" cy="221.80" r="1.75" fill="#2c7bc0"/>
<circle cx="304.60" cy="222.30" r="1.75" fill="#2c7bc0"/>
<circle cx="308.00" cy="223.40" r="1.75" fill="#2c7bc0"/>
<circle cx="315.80" cy="223.50" r="1.75" fill="#2c7bc0"/>
<path d="M239.00 230.70V232.70M236.60 230.70H241.40M236.60 232.70H241.40" stroke="#8fcae3" stroke-width="0.9" fill="none"/>
<path d="M251.30 230.30V232.30M248.90 230.30H253.70M248.90 232.30H253.70" stroke="#8fcae3" stroke-width="0.9" fill="none"/>
<path d="M256.50 230.70V232.70M254.10 230.70H258.90M254.10 232.70H258.90" stroke="#8fcae3" stroke-width="0.9" fill="none"/>
<path d="M262.00 230.70V232.70M259.60 230.70H264.40M259.60 232.70H264.40" stroke="#8fcae3" stroke-width="0.9" fill="none"/>
<path d="M267.00 229.80V231.80M264.60 229.80H269.40M264.60 231.80H269.40" stroke="#8fcae3" stroke-width="0.9" fill="none"/>
<path d="M270.40 229.60V231.60M268.00 229.60H272.80M268.00 231.60H272.80" stroke="#8fcae3" stroke-width="0.9" fill="none"/>
<path d="M273.30 229.60V231.60M270.90 229.60H275.70M270.90 231.60H275.70" stroke="#8fcae3" stroke-width="0.9" fill="none"/>
<path d="M276.20 229.60V231.60M273.80 229.60H278.60M273.80 231.60H278.60" stroke="#8fcae3" stroke-width="0.9" fill="none"/>
<path d="M279.40 229.80V231.80M277.00 229.80H281.80M277.00 231.80H281.80" stroke="#8fcae3" stroke-width="0.9" fill="none"/>
<path d="M282.50 229.80V231.80M280.10 229.80H284.90M280.10 231.80H284.90" stroke="#8fcae3" stroke-width="0.9" fill="none"/>
<path d="M285.70 229.80V231.80M283.30 229.80H288.10M283.30 231.80H288.10" stroke="#8fcae3" stroke-width="0.9" fill="none"/>
<path d="M288.80 230.00V232.00M286.40 230.00H291.20M286.40 232.00H291.20" stroke="#8fcae3" stroke-width="0.9" fill="none"/>
<path d="M292.00 230.00V232.00M289.60 230.00H294.40M289.60 232.00H294.40" stroke="#8fcae3" stroke-width="0.9" fill="none"/>
<path d="M295.20 230.00V232.00M292.80 230.00H297.60M292.80 232.00H297.60" stroke="#8fcae3" stroke-width="0.9" fill="none"/>
<path d="M298.30 230.00V232.00M295.90 230.00H300.70M295.90 232.00H300.70" stroke="#8fcae3" stroke-width="0.9" fill="none"/>
<path d="M301.50 230.10V232.10M299.10 230.10H303.90M299.10 232.10H303.90" stroke="#8fcae3" stroke-width="0.9" fill="none"/>
<path d="M304.60 230.10V232.10M302.20 230.10H307.00M302.20 232.10H307.00" stroke="#8fcae3" stroke-width="0.9" fill="none"/>
<path d="M308.00 230.10V232.10M305.60 230.10H310.40M305.60 232.10H310.40" stroke="#8fcae3" stroke-width="0.9" fill="none"/>
<path d="M315.80 230.60V232.60M313.40 230.60H318.20M313.40 232.60H318.20" stroke="#8fcae3" stroke-width="0.9" fill="none"/>
<path d="M239.00 231.70 L251.30 231.30 L256.50 231.70 L262.00 231.70 L267.00 230.80 L270.40 230.60 L273.30 230.60 L276.20 230.60 L279.40 230.80 L282.50 230.80 L285.70 230.80 L288.80 231.00 L292.00 231.00 L295.20 231.00 L298.30 231.00 L301.50 231.10 L304.60 231.10 L308.00 231.10 L315.80 231.60" stroke="#8fcae3" stroke-width="1.1" fill="none" stroke-linejoin="round"/>
<circle cx="239.00" cy="231.70" r="1.75" fill="#8fcae3"/>
<circle cx="251.30" cy="231.30" r="1.75" fill="#8fcae3"/>
<circle cx="256.50" cy="231.70" r="1.75" fill="#8fcae3"/>
<circle cx="262.00" cy="231.70" r="1.75" fill="#8fcae3"/>
<circle cx="267.00" cy="230.80" r="1.75" fill="#8fcae3"/>
<circle cx="270.40" cy="230.60" r="1.75" fill="#8fcae3"/>
<circle cx="273.30" cy="230.60" r="1.75" fill="#8fcae3"/>
<circle cx="276.20" cy="230.60" r="1.75" fill="#8fcae3"/>
<circle cx="279.40" cy="230.80" r="1.75" fill="#8fcae3"/>
<circle cx="282.50" cy="230.80" r="1.75" fill="#8fcae3"/>
<circle cx="285.70" cy="230.80" r="1.75" fill="#8fcae3"/>
<circle cx="288.80" cy="231.00" r="1.75" fill="#8fcae3"/>
<circle cx="292.00" cy="231.00" r="1.75" fill="#8fcae3"/>
<circle cx="295.20" cy="231.00" r="1.75" fill="#8fcae3"/>
<circle cx="298.30" cy="231.00" r="1.75" fill="#8fcae3"/>
<circle cx="301.50" cy="231.10" r="1.75" fill="#8fcae3"/>
<circle cx="304.60" cy="231.10" r="1.75" fill="#8fcae3"/>
<circle cx="308.00" cy="231.10" r="1.75" fill="#8fcae3"/>
<circle cx="315.80" cy="231.60" r="1.75" fill="#8fcae3"/>
<path d="M239.00 186.80V193.20M236.60 186.80H241.40M236.60 193.20H241.40" stroke="#c8202f" stroke-width="0.9" fill="none"/>
<path d="M251.30 183.30V188.30M248.90 183.30H253.70M248.90 188.30H253.70" stroke="#c8202f" stroke-width="0.9" fill="none"/>
<path d="M256.50 180.00V185.00M254.10 180.00H258.90M254.10 185.00H258.90" stroke="#c8202f" stroke-width="0.9" fill="none"/>
<path d="M262.00 178.80V183.20M259.60 178.80H264.40M259.60 183.20H264.40" stroke="#c8202f" stroke-width="0.9" fill="none"/>
<path d="M267.00 175.90V180.30M264.60 175.90H269.40M264.60 180.30H269.40" stroke="#c8202f" stroke-width="0.9" fill="none"/>
<path d="M270.40 173.80V178.20M268.00 173.80H272.80M268.00 178.20H272.80" stroke="#c8202f" stroke-width="0.9" fill="none"/>
<path d="M273.30 173.00V177.40M270.90 173.00H275.70M270.90 177.40H275.70" stroke="#c8202f" stroke-width="0.9" fill="none"/>
<path d="M276.20 172.30V176.70M273.80 172.30H278.60M273.80 176.70H278.60" stroke="#c8202f" stroke-width="0.9" fill="none"/>
<path d="M279.40 171.80V176.20M277.00 171.80H281.80M277.00 176.20H281.80" stroke="#c8202f" stroke-width="0.9" fill="none"/>
<path d="M282.50 170.80V175.20M280.10 170.80H284.90M280.10 175.20H284.90" stroke="#c8202f" stroke-width="0.9" fill="none"/>
<path d="M285.70 170.30V174.70M283.30 170.30H288.10M283.30 174.70H288.10" stroke="#c8202f" stroke-width="0.9" fill="none"/>
<path d="M288.80 169.80V174.20M286.40 169.80H291.20M286.40 174.20H291.20" stroke="#c8202f" stroke-width="0.9" fill="none"/>
<path d="M292.00 169.30V173.70M289.60 169.30H294.40M289.60 173.70H294.40" stroke="#c8202f" stroke-width="0.9" fill="none"/>
<path d="M295.20 168.30V172.70M292.80 168.30H297.60M292.80 172.70H297.60" stroke="#c8202f" stroke-width="0.9" fill="none"/>
<path d="M298.30 166.30V170.70M295.90 166.30H300.70M295.90 170.70H300.70" stroke="#c8202f" stroke-width="0.9" fill="none"/>
<path d="M301.50 168.70V173.10M299.10 168.70H303.90M299.10 173.10H303.90" stroke="#c8202f" stroke-width="0.9" fill="none"/>
<path d="M304.60 166.00V170.40M302.20 166.00H307.00M302.20 170.40H307.00" stroke="#c8202f" stroke-width="0.9" fill="none"/>
<path d="M308.00 168.50V173.30M305.60 168.50H310.40M305.60 173.30H310.40" stroke="#c8202f" stroke-width="0.9" fill="none"/>
<path d="M315.80 172.80V177.60M313.40 172.80H318.20M313.40 177.60H318.20" stroke="#c8202f" stroke-width="0.9" fill="none"/>
<path d="M239.00 190.00 L251.30 185.80 L256.50 182.50 L262.00 181.00 L267.00 178.10 L270.40 176.00 L273.30 175.20 L276.20 174.50 L279.40 174.00 L282.50 173.00 L285.70 172.50 L288.80 172.00 L292.00 171.50 L295.20 170.50 L298.30 168.50 L301.50 170.90 L304.60 168.20 L308.00 170.90 L315.80 175.20" stroke="#c8202f" stroke-width="1.1" fill="none" stroke-linejoin="round"/>
<circle cx="239.00" cy="190.00" r="1.75" fill="#c8202f"/>
<circle cx="251.30" cy="185.80" r="1.75" fill="#c8202f"/>
<circle cx="256.50" cy="182.50" r="1.75" fill="#c8202f"/>
<circle cx="262.00" cy="181.00" r="1.75" fill="#c8202f"/>
<circle cx="267.00" cy="178.10" r="1.75" fill="#c8202f"/>
<circle cx="270.40" cy="176.00" r="1.75" fill="#c8202f"/>
<circle cx="273.30" cy="175.20" r="1.75" fill="#c8202f"/>
<circle cx="276.20" cy="174.50" r="1.75" fill="#c8202f"/>
<circle cx="279.40" cy="174.00" r="1.75" fill="#c8202f"/>
<circle cx="282.50" cy="173.00" r="1.75" fill="#c8202f"/>
<circle cx="285.70" cy="172.50" r="1.75" fill="#c8202f"/>
<circle cx="288.80" cy="172.00" r="1.75" fill="#c8202f"/>
<circle cx="292.00" cy="171.50" r="1.75" fill="#c8202f"/>
<circle cx="295.20" cy="170.50" r="1.75" fill="#c8202f"/>
<circle cx="298.30" cy="168.50" r="1.75" fill="#c8202f"/>
<circle cx="301.50" cy="170.90" r="1.75" fill="#c8202f"/>
<circle cx="304.60" cy="168.20" r="1.75" fill="#c8202f"/>
<circle cx="308.00" cy="170.90" r="1.75" fill="#c8202f"/>
<circle cx="315.80" cy="175.20" r="1.75" fill="#c8202f"/>
<path d="M412.50 199.30V206.30M410.10 199.30H414.90M410.10 206.30H414.90" stroke="#1b3b86" stroke-width="0.9" fill="none"/>
<path d="M424.80 194.80V200.80M422.40 194.80H427.20M422.40 200.80H427.20" stroke="#1b3b86" stroke-width="0.9" fill="none"/>
<path d="M430.00 192.80V198.80M427.60 192.80H432.40M427.60 198.80H432.40" stroke="#1b3b86" stroke-width="0.9" fill="none"/>
<path d="M435.50 188.00V194.00M433.10 188.00H437.90M433.10 194.00H437.90" stroke="#1b3b86" stroke-width="0.9" fill="none"/>
<path d="M440.50 183.50V189.50M438.10 183.50H442.90M438.10 189.50H442.90" stroke="#1b3b86" stroke-width="0.9" fill="none"/>
<path d="M443.90 182.60V188.60M441.50 182.60H446.30M441.50 188.60H446.30" stroke="#1b3b86" stroke-width="0.9" fill="none"/>
<path d="M446.80 180.80V186.80M444.40 180.80H449.20M444.40 186.80H449.20" stroke="#1b3b86" stroke-width="0.9" fill="none"/>
<path d="M449.70 179.00V185.00M447.30 179.00H452.10M447.30 185.00H452.10" stroke="#1b3b86" stroke-width="0.9" fill="none"/>
<path d="M452.90 177.80V183.80M450.50 177.80H455.30M450.50 183.80H455.30" stroke="#1b3b86" stroke-width="0.9" fill="none"/>
<path d="M456.00 177.00V183.00M453.60 177.00H458.40M453.60 183.00H458.40" stroke="#1b3b86" stroke-width="0.9" fill="none"/>
<path d="M459.20 175.80V181.80M456.80 175.80H461.60M456.80 181.80H461.60" stroke="#1b3b86" stroke-width="0.9" fill="none"/>
<path d="M462.30 174.50V180.50M459.90 174.50H464.70M459.90 180.50H464.70" stroke="#1b3b86" stroke-width="0.9" fill="none"/>
<path d="M465.50 173.90V179.90M463.10 173.90H467.90M463.10 179.90H467.90" stroke="#1b3b86" stroke-width="0.9" fill="none"/>
<path d="M468.70 174.50V180.50M466.30 174.50H471.10M466.30 180.50H471.10" stroke="#1b3b86" stroke-width="0.9" fill="none"/>
<path d="M471.80 173.20V179.20M469.40 173.20H474.20M469.40 179.20H474.20" stroke="#1b3b86" stroke-width="0.9" fill="none"/>
<path d="M475.00 173.90V179.90M472.60 173.90H477.40M472.60 179.90H477.40" stroke="#1b3b86" stroke-width="0.9" fill="none"/>
<path d="M478.10 174.50V180.50M475.70 174.50H480.50M475.70 180.50H480.50" stroke="#1b3b86" stroke-width="0.9" fill="none"/>
<path d="M481.50 174.80V180.80M479.10 174.80H483.90M479.10 180.80H483.90" stroke="#1b3b86" stroke-width="0.9" fill="none"/>
<path d="M489.30 176.00V182.00M486.90 176.00H491.70M486.90 182.00H491.70" stroke="#1b3b86" stroke-width="0.9" fill="none"/>
<path d="M412.50 202.80 L424.80 197.80 L430.00 195.80 L435.50 191.00 L440.50 186.50 L443.90 185.60 L446.80 183.80 L449.70 182.00 L452.90 180.80 L456.00 180.00 L459.20 178.80 L462.30 177.50 L465.50 176.90 L468.70 177.50 L471.80 176.20 L475.00 176.90 L478.10 177.50 L481.50 177.80 L489.30 179.00" stroke="#1b3b86" stroke-width="1.1" fill="none" stroke-linejoin="round"/>
<circle cx="412.50" cy="202.80" r="1.75" fill="#1b3b86"/>
<circle cx="424.80" cy="197.80" r="1.75" fill="#1b3b86"/>
<circle cx="430.00" cy="195.80" r="1.75" fill="#1b3b86"/>
<circle cx="435.50" cy="191.00" r="1.75" fill="#1b3b86"/>
<circle cx="440.50" cy="186.50" r="1.75" fill="#1b3b86"/>
<circle cx="443.90" cy="185.60" r="1.75" fill="#1b3b86"/>
<circle cx="446.80" cy="183.80" r="1.75" fill="#1b3b86"/>
<circle cx="449.70" cy="182.00" r="1.75" fill="#1b3b86"/>
<circle cx="452.90" cy="180.80" r="1.75" fill="#1b3b86"/>
<circle cx="456.00" cy="180.00" r="1.75" fill="#1b3b86"/>
<circle cx="459.20" cy="178.80" r="1.75" fill="#1b3b86"/>
<circle cx="462.30" cy="177.50" r="1.75" fill="#1b3b86"/>
<circle cx="465.50" cy="176.90" r="1.75" fill="#1b3b86"/>
<circle cx="468.70" cy="177.50" r="1.75" fill="#1b3b86"/>
<circle cx="471.80" cy="176.20" r="1.75" fill="#1b3b86"/>
<circle cx="475.00" cy="176.90" r="1.75" fill="#1b3b86"/>
<circle cx="478.10" cy="177.50" r="1.75" fill="#1b3b86"/>
<circle cx="481.50" cy="177.80" r="1.75" fill="#1b3b86"/>
<circle cx="489.30" cy="179.00" r="1.75" fill="#1b3b86"/>
<path d="M412.50 193.50V200.50M410.10 193.50H414.90M410.10 200.50H414.90" stroke="#2c7bc0" stroke-width="0.9" fill="none"/>
<path d="M424.80 187.60V193.60M422.40 187.60H427.20M422.40 193.60H427.20" stroke="#2c7bc0" stroke-width="0.9" fill="none"/>
<path d="M430.00 185.80V191.80M427.60 185.80H432.40M427.60 191.80H432.40" stroke="#2c7bc0" stroke-width="0.9" fill="none"/>
<path d="M435.50 181.80V187.80M433.10 181.80H437.90M433.10 187.80H437.90" stroke="#2c7bc0" stroke-width="0.9" fill="none"/>
<path d="M440.50 177.00V183.00M438.10 177.00H442.90M438.10 183.00H442.90" stroke="#2c7bc0" stroke-width="0.9" fill="none"/>
<path d="M443.90 174.70V180.70M441.50 174.70H446.30M441.50 180.70H446.30" stroke="#2c7bc0" stroke-width="0.9" fill="none"/>
<path d="M446.80 172.00V178.00M444.40 172.00H449.20M444.40 178.00H449.20" stroke="#2c7bc0" stroke-width="0.9" fill="none"/>
<path d="M449.70 170.50V176.50M447.30 170.50H452.10M447.30 176.50H452.10" stroke="#2c7bc0" stroke-width="0.9" fill="none"/>
<path d="M452.90 169.50V175.50M450.50 169.50H455.30M450.50 175.50H455.30" stroke="#2c7bc0" stroke-width="0.9" fill="none"/>
<path d="M456.00 168.50V174.50M453.60 168.50H458.40M453.60 174.50H458.40" stroke="#2c7bc0" stroke-width="0.9" fill="none"/>
<path d="M459.20 167.10V173.10M456.80 167.10H461.60M456.80 173.10H461.60" stroke="#2c7bc0" stroke-width="0.9" fill="none"/>
<path d="M462.30 165.60V171.60M459.90 165.60H464.70M459.90 171.60H464.70" stroke="#2c7bc0" stroke-width="0.9" fill="none"/>
<path d="M465.50 165.00V171.00M463.10 165.00H467.90M463.10 171.00H467.90" stroke="#2c7bc0" stroke-width="0.9" fill="none"/>
<path d="M468.70 165.60V171.60M466.30 165.60H471.10M466.30 171.60H471.10" stroke="#2c7bc0" stroke-width="0.9" fill="none"/>
<path d="M471.80 165.00V171.00M469.40 165.00H474.20M469.40 171.00H474.20" stroke="#2c7bc0" stroke-width="0.9" fill="none"/>
<path d="M475.00 165.00V171.00M472.60 165.00H477.40M472.60 171.00H477.40" stroke="#2c7bc0" stroke-width="0.9" fill="none"/>
<path d="M478.10 166.30V172.30M475.70 166.30H480.50M475.70 172.30H480.50" stroke="#2c7bc0" stroke-width="0.9" fill="none"/>
<path d="M481.50 166.50V172.50M479.10 166.50H483.90M479.10 172.50H483.90" stroke="#2c7bc0" stroke-width="0.9" fill="none"/>
<path d="M489.30 169.10V175.10M486.90 169.10H491.70M486.90 175.10H491.70" stroke="#2c7bc0" stroke-width="0.9" fill="none"/>
<path d="M412.50 197.00 L424.80 190.60 L430.00 188.80 L435.50 184.80 L440.50 180.00 L443.90 177.70 L446.80 175.00 L449.70 173.50 L452.90 172.50 L456.00 171.50 L459.20 170.10 L462.30 168.60 L465.50 168.00 L468.70 168.60 L471.80 168.00 L475.00 168.00 L478.10 169.30 L481.50 169.50 L489.30 172.10" stroke="#2c7bc0" stroke-width="1.1" fill="none" stroke-linejoin="round"/>
<circle cx="412.50" cy="197.00" r="1.75" fill="#2c7bc0"/>
<circle cx="424.80" cy="190.60" r="1.75" fill="#2c7bc0"/>
<circle cx="430.00" cy="188.80" r="1.75" fill="#2c7bc0"/>
<circle cx="435.50" cy="184.80" r="1.75" fill="#2c7bc0"/>
<circle cx="440.50" cy="180.00" r="1.75" fill="#2c7bc0"/>
<circle cx="443.90" cy="177.70" r="1.75" fill="#2c7bc0"/>
<circle cx="446.80" cy="175.00" r="1.75" fill="#2c7bc0"/>
<circle cx="449.70" cy="173.50" r="1.75" fill="#2c7bc0"/>
<circle cx="452.90" cy="172.50" r="1.75" fill="#2c7bc0"/>
<circle cx="456.00" cy="171.50" r="1.75" fill="#2c7bc0"/>
<circle cx="459.20" cy="170.10" r="1.75" fill="#2c7bc0"/>
<circle cx="462.30" cy="168.60" r="1.75" fill="#2c7bc0"/>
<circle cx="465.50" cy="168.00" r="1.75" fill="#2c7bc0"/>
<circle cx="468.70" cy="168.60" r="1.75" fill="#2c7bc0"/>
<circle cx="471.80" cy="168.00" r="1.75" fill="#2c7bc0"/>
<circle cx="475.00" cy="168.00" r="1.75" fill="#2c7bc0"/>
<circle cx="478.10" cy="169.30" r="1.75" fill="#2c7bc0"/>
<circle cx="481.50" cy="169.50" r="1.75" fill="#2c7bc0"/>
<circle cx="489.30" cy="172.10" r="1.75" fill="#2c7bc0"/>
<path d="M412.50 214.30V220.30M410.10 214.30H414.90M410.10 220.30H414.90" stroke="#8fcae3" stroke-width="0.9" fill="none"/>
<path d="M424.80 213.20V219.20M422.40 213.20H427.20M422.40 219.20H427.20" stroke="#8fcae3" stroke-width="0.9" fill="none"/>
<path d="M430.00 209.40V215.40M427.60 209.40H432.40M427.60 215.40H432.40" stroke="#8fcae3" stroke-width="0.9" fill="none"/>
<path d="M435.50 211.00V216.00M433.10 211.00H437.90M433.10 216.00H437.90" stroke="#8fcae3" stroke-width="0.9" fill="none"/>
<path d="M440.50 208.70V213.70M438.10 208.70H442.90M438.10 213.70H442.90" stroke="#8fcae3" stroke-width="0.9" fill="none"/>
<path d="M443.90 209.30V214.30M441.50 209.30H446.30M441.50 214.30H446.30" stroke="#8fcae3" stroke-width="0.9" fill="none"/>
<path d="M446.80 209.50V214.50M444.40 209.50H449.20M444.40 214.50H449.20" stroke="#8fcae3" stroke-width="0.9" fill="none"/>
<path d="M449.70 209.50V214.50M447.30 209.50H452.10M447.30 214.50H452.10" stroke="#8fcae3" stroke-width="0.9" fill="none"/>
<path d="M452.90 209.50V214.50M450.50 209.50H455.30M450.50 214.50H455.30" stroke="#8fcae3" stroke-width="0.9" fill="none"/>
<path d="M456.00 209.30V214.30M453.60 209.30H458.40M453.60 214.30H458.40" stroke="#8fcae3" stroke-width="0.9" fill="none"/>
<path d="M459.20 207.60V212.60M456.80 207.60H461.60M456.80 212.60H461.60" stroke="#8fcae3" stroke-width="0.9" fill="none"/>
<path d="M462.30 207.10V212.10M459.90 207.10H464.70M459.90 212.10H464.70" stroke="#8fcae3" stroke-width="0.9" fill="none"/>
<path d="M465.50 206.50V211.50M463.10 206.50H467.90M463.10 211.50H467.90" stroke="#8fcae3" stroke-width="0.9" fill="none"/>
<path d="M468.70 206.50V211.50M466.30 206.50H471.10M466.30 211.50H471.10" stroke="#8fcae3" stroke-width="0.9" fill="none"/>
<path d="M471.80 206.00V211.00M469.40 206.00H474.20M469.40 211.00H474.20" stroke="#8fcae3" stroke-width="0.9" fill="none"/>
<path d="M475.00 205.50V210.50M472.60 205.50H477.40M472.60 210.50H477.40" stroke="#8fcae3" stroke-width="0.9" fill="none"/>
<path d="M478.10 205.50V210.50M475.70 205.50H480.50M475.70 210.50H480.50" stroke="#8fcae3" stroke-width="0.9" fill="none"/>
<path d="M481.50 199.60V205.60M479.10 199.60H483.90M479.10 205.60H483.90" stroke="#8fcae3" stroke-width="0.9" fill="none"/>
<path d="M489.30 202.90V208.90M486.90 202.90H491.70M486.90 208.90H491.70" stroke="#8fcae3" stroke-width="0.9" fill="none"/>
<path d="M412.50 217.30 L424.80 216.20 L430.00 212.40 L435.50 213.50 L440.50 211.20 L443.90 211.80 L446.80 212.00 L449.70 212.00 L452.90 212.00 L456.00 211.80 L459.20 210.10 L462.30 209.60 L465.50 209.00 L468.70 209.00 L471.80 208.50 L475.00 208.00 L478.10 208.00 L481.50 202.60 L489.30 205.90" stroke="#8fcae3" stroke-width="1.1" fill="none" stroke-linejoin="round"/>
<circle cx="412.50" cy="217.30" r="1.75" fill="#8fcae3"/>
<circle cx="424.80" cy="216.20" r="1.75" fill="#8fcae3"/>
<circle cx="430.00" cy="212.40" r="1.75" fill="#8fcae3"/>
<circle cx="435.50" cy="213.50" r="1.75" fill="#8fcae3"/>
<circle cx="440.50" cy="211.20" r="1.75" fill="#8fcae3"/>
<circle cx="443.90" cy="211.80" r="1.75" fill="#8fcae3"/>
<circle cx="446.80" cy="212.00" r="1.75" fill="#8fcae3"/>
<circle cx="449.70" cy="212.00" r="1.75" fill="#8fcae3"/>
<circle cx="452.90" cy="212.00" r="1.75" fill="#8fcae3"/>
<circle cx="456.00" cy="211.80" r="1.75" fill="#8fcae3"/>
<circle cx="459.20" cy="210.10" r="1.75" fill="#8fcae3"/>
<circle cx="462.30" cy="209.60" r="1.75" fill="#8fcae3"/>
<circle cx="465.50" cy="209.00" r="1.75" fill="#8fcae3"/>
<circle cx="468.70" cy="209.00" r="1.75" fill="#8fcae3"/>
<circle cx="471.80" cy="208.50" r="1.75" fill="#8fcae3"/>
<circle cx="475.00" cy="208.00" r="1.75" fill="#8fcae3"/>
<circle cx="478.10" cy="208.00" r="1.75" fill="#8fcae3"/>
<circle cx="481.50" cy="202.60" r="1.75" fill="#8fcae3"/>
<circle cx="489.30" cy="205.90" r="1.75" fill="#8fcae3"/>
<path d="M412.50 180.50V185.50M410.10 180.50H414.90M410.10 185.50H414.90" stroke="#c8202f" stroke-width="0.9" fill="none"/>
<path d="M424.80 175.40V179.80M422.40 175.40H427.20M422.40 179.80H427.20" stroke="#c8202f" stroke-width="0.9" fill="none"/>
<path d="M430.00 173.20V177.60M427.60 173.20H432.40M427.60 177.60H432.40" stroke="#c8202f" stroke-width="0.9" fill="none"/>
<path d="M435.50 168.80V173.20M433.10 168.80H437.90M433.10 173.20H437.90" stroke="#c8202f" stroke-width="0.9" fill="none"/>
<path d="M440.50 163.80V168.20M438.10 163.80H442.90M438.10 168.20H442.90" stroke="#c8202f" stroke-width="0.9" fill="none"/>
<path d="M443.90 162.00V166.40M441.50 162.00H446.30M441.50 166.40H446.30" stroke="#c8202f" stroke-width="0.9" fill="none"/>
<path d="M446.80 160.70V165.10M444.40 160.70H449.20M444.40 165.10H449.20" stroke="#c8202f" stroke-width="0.9" fill="none"/>
<path d="M449.70 159.80V164.20M447.30 159.80H452.10M447.30 164.20H452.10" stroke="#c8202f" stroke-width="0.9" fill="none"/>
<path d="M452.90 160.00V164.40M450.50 160.00H455.30M450.50 164.40H455.30" stroke="#c8202f" stroke-width="0.9" fill="none"/>
<path d="M456.00 158.30V162.70M453.60 158.30H458.40M453.60 162.70H458.40" stroke="#c8202f" stroke-width="0.9" fill="none"/>
<path d="M459.20 156.00V160.40M456.80 156.00H461.60M456.80 160.40H461.60" stroke="#c8202f" stroke-width="0.9" fill="none"/>
<path d="M462.30 155.00V159.40M459.90 155.00H464.70M459.90 159.40H464.70" stroke="#c8202f" stroke-width="0.9" fill="none"/>
<path d="M465.50 156.00V160.40M463.10 156.00H467.90M463.10 160.40H467.90" stroke="#c8202f" stroke-width="0.9" fill="none"/>
<path d="M468.70 154.80V159.20M466.30 154.80H471.10M466.30 159.20H471.10" stroke="#c8202f" stroke-width="0.9" fill="none"/>
<path d="M471.80 153.80V158.20M469.40 153.80H474.20M469.40 158.20H474.20" stroke="#c8202f" stroke-width="0.9" fill="none"/>
<path d="M475.00 153.10V157.50M472.60 153.10H477.40M472.60 157.50H477.40" stroke="#c8202f" stroke-width="0.9" fill="none"/>
<path d="M478.10 154.30V158.70M475.70 154.30H480.50M475.70 158.70H480.50" stroke="#c8202f" stroke-width="0.9" fill="none"/>
<path d="M481.50 156.40V160.80M479.10 156.40H483.90M479.10 160.80H483.90" stroke="#c8202f" stroke-width="0.9" fill="none"/>
<path d="M489.30 157.70V162.70M486.90 157.70H491.70M486.90 162.70H491.70" stroke="#c8202f" stroke-width="0.9" fill="none"/>
<path d="M412.50 183.00 L424.80 177.60 L430.00 175.40 L435.50 171.00 L440.50 166.00 L443.90 164.20 L446.80 162.90 L449.70 162.00 L452.90 162.20 L456.00 160.50 L459.20 158.20 L462.30 157.20 L465.50 158.20 L468.70 157.00 L471.80 156.00 L475.00 155.30 L478.10 156.50 L481.50 158.60 L489.30 160.20" stroke="#c8202f" stroke-width="1.1" fill="none" stroke-linejoin="round"/>
<circle cx="412.50" cy="183.00" r="1.75" fill="#c8202f"/>
<circle cx="424.80" cy="177.60" r="1.75" fill="#c8202f"/>
<circle cx="430.00" cy="175.40" r="1.75" fill="#c8202f"/>
<circle cx="435.50" cy="171.00" r="1.75" fill="#c8202f"/>
<circle cx="440.50" cy="166.00" r="1.75" fill="#c8202f"/>
<circle cx="443.90" cy="164.20" r="1.75" fill="#c8202f"/>
<circle cx="446.80" cy="162.90" r="1.75" fill="#c8202f"/>
<circle cx="449.70" cy="162.00" r="1.75" fill="#c8202f"/>
<circle cx="452.90" cy="162.20" r="1.75" fill="#c8202f"/>
<circle cx="456.00" cy="160.50" r="1.75" fill="#c8202f"/>
<circle cx="459.20" cy="158.20" r="1.75" fill="#c8202f"/>
<circle cx="462.30" cy="157.20" r="1.75" fill="#c8202f"/>
<circle cx="465.50" cy="158.20" r="1.75" fill="#c8202f"/>
<circle cx="468.70" cy="157.00" r="1.75" fill="#c8202f"/>
<circle cx="471.80" cy="156.00" r="1.75" fill="#c8202f"/>
<circle cx="475.00" cy="155.30" r="1.75" fill="#c8202f"/>
<circle cx="478.10" cy="156.50" r="1.75" fill="#c8202f"/>
<circle cx="481.50" cy="158.60" r="1.75" fill="#c8202f"/>
<circle cx="489.30" cy="160.20" r="1.75" fill="#c8202f"/>
<path d="M586.60 179.20V185.20M584.20 179.20H589.00M584.20 185.20H589.00" stroke="#1b3b86" stroke-width="0.9" fill="none"/>
<path d="M598.90 176.50V181.50M596.50 176.50H601.30M596.50 181.50H601.30" stroke="#1b3b86" stroke-width="0.9" fill="none"/>
<path d="M604.10 174.80V179.80M601.70 174.80H606.50M601.70 179.80H606.50" stroke="#1b3b86" stroke-width="0.9" fill="none"/>
<path d="M609.60 169.50V174.50M607.20 169.50H612.00M607.20 174.50H612.00" stroke="#1b3b86" stroke-width="0.9" fill="none"/>
<path d="M614.60 164.00V169.00M612.20 164.00H617.00M612.20 169.00H617.00" stroke="#1b3b86" stroke-width="0.9" fill="none"/>
<path d="M618.00 161.50V166.50M615.60 161.50H620.40M615.60 166.50H620.40" stroke="#1b3b86" stroke-width="0.9" fill="none"/>
<path d="M620.90 160.00V165.00M618.50 160.00H623.30M618.50 165.00H623.30" stroke="#1b3b86" stroke-width="0.9" fill="none"/>
<path d="M623.80 159.50V164.50M621.40 159.50H626.20M621.40 164.50H626.20" stroke="#1b3b86" stroke-width="0.9" fill="none"/>
<path d="M627.00 159.00V164.00M624.60 159.00H629.40M624.60 164.00H629.40" stroke="#1b3b86" stroke-width="0.9" fill="none"/>
<path d="M630.10 158.50V163.50M627.70 158.50H632.50M627.70 163.50H632.50" stroke="#1b3b86" stroke-width="0.9" fill="none"/>
<path d="M633.30 158.00V163.00M630.90 158.00H635.70M630.90 163.00H635.70" stroke="#1b3b86" stroke-width="0.9" fill="none"/>
<path d="M636.40 157.50V162.50M634.00 157.50H638.80M634.00 162.50H638.80" stroke="#1b3b86" stroke-width="0.9" fill="none"/>
<path d="M639.60 157.00V162.00M637.20 157.00H642.00M637.20 162.00H642.00" stroke="#1b3b86" stroke-width="0.9" fill="none"/>
<path d="M642.80 157.00V162.00M640.40 157.00H645.20M640.40 162.00H645.20" stroke="#1b3b86" stroke-width="0.9" fill="none"/>
<path d="M645.90 157.00V162.00M643.50 157.00H648.30M643.50 162.00H648.30" stroke="#1b3b86" stroke-width="0.9" fill="none"/>
<path d="M649.10 157.50V162.50M646.70 157.50H651.50M646.70 162.50H651.50" stroke="#1b3b86" stroke-width="0.9" fill="none"/>
<path d="M652.20 158.00V163.00M649.80 158.00H654.60M649.80 163.00H654.60" stroke="#1b3b86" stroke-width="0.9" fill="none"/>
<path d="M655.60 158.50V163.50M653.20 158.50H658.00M653.20 163.50H658.00" stroke="#1b3b86" stroke-width="0.9" fill="none"/>
<path d="M663.40 159.10V164.10M661.00 159.10H665.80M661.00 164.10H665.80" stroke="#1b3b86" stroke-width="0.9" fill="none"/>
<path d="M586.60 182.20 L598.90 179.00 L604.10 177.30 L609.60 172.00 L614.60 166.50 L618.00 164.00 L620.90 162.50 L623.80 162.00 L627.00 161.50 L630.10 161.00 L633.30 160.50 L636.40 160.00 L639.60 159.50 L642.80 159.50 L645.90 159.50 L649.10 160.00 L652.20 160.50 L655.60 161.00 L663.40 161.60" stroke="#1b3b86" stroke-width="1.1" fill="none" stroke-linejoin="round"/>
<circle cx="586.60" cy="182.20" r="1.75" fill="#1b3b86"/>
<circle cx="598.90" cy="179.00" r="1.75" fill="#1b3b86"/>
<circle cx="604.10" cy="177.30" r="1.75" fill="#1b3b86"/>
<circle cx="609.60" cy="172.00" r="1.75" fill="#1b3b86"/>
<circle cx="614.60" cy="166.50" r="1.75" fill="#1b3b86"/>
<circle cx="618.00" cy="164.00" r="1.75" fill="#1b3b86"/>
<circle cx="620.90" cy="162.50" r="1.75" fill="#1b3b86"/>
<circle cx="623.80" cy="162.00" r="1.75" fill="#1b3b86"/>
<circle cx="627.00" cy="161.50" r="1.75" fill="#1b3b86"/>
<circle cx="630.10" cy="161.00" r="1.75" fill="#1b3b86"/>
<circle cx="633.30" cy="160.50" r="1.75" fill="#1b3b86"/>
<circle cx="636.40" cy="160.00" r="1.75" fill="#1b3b86"/>
<circle cx="639.60" cy="159.50" r="1.75" fill="#1b3b86"/>
<circle cx="642.80" cy="159.50" r="1.75" fill="#1b3b86"/>
<circle cx="645.90" cy="159.50" r="1.75" fill="#1b3b86"/>
<circle cx="649.10" cy="160.00" r="1.75" fill="#1b3b86"/>
<circle cx="652.20" cy="160.50" r="1.75" fill="#1b3b86"/>
<circle cx="655.60" cy="161.00" r="1.75" fill="#1b3b86"/>
<circle cx="663.40" cy="161.60" r="1.75" fill="#1b3b86"/>
<path d="M586.60 180.50V188.50M584.20 180.50H589.00M584.20 188.50H589.00" stroke="#2c7bc0" stroke-width="0.9" fill="none"/>
<path d="M598.90 178.50V184.50M596.50 178.50H601.30M596.50 184.50H601.30" stroke="#2c7bc0" stroke-width="0.9" fill="none"/>
<path d="M604.10 177.00V183.00M601.70 177.00H606.50M601.70 183.00H606.50" stroke="#2c7bc0" stroke-width="0.9" fill="none"/>
<path d="M609.60 173.00V179.00M607.20 173.00H612.00M607.20 179.00H612.00" stroke="#2c7bc0" stroke-width="0.9" fill="none"/>
<path d="M614.60 167.50V173.50M612.20 167.50H617.00M612.20 173.50H617.00" stroke="#2c7bc0" stroke-width="0.9" fill="none"/>
<path d="M618.00 164.00V170.00M615.60 164.00H620.40M615.60 170.00H620.40" stroke="#2c7bc0" stroke-width="0.9" fill="none"/>
<path d="M620.90 162.50V168.50M618.50 162.50H623.30M618.50 168.50H623.30" stroke="#2c7bc0" stroke-width="0.9" fill="none"/>
<path d="M623.80 162.00V168.00M621.40 162.00H626.20M621.40 168.00H626.20" stroke="#2c7bc0" stroke-width="0.9" fill="none"/>
<path d="M627.00 161.50V167.50M624.60 161.50H629.40M624.60 167.50H629.40" stroke="#2c7bc0" stroke-width="0.9" fill="none"/>
<path d="M630.10 161.00V167.00M627.70 161.00H632.50M627.70 167.00H632.50" stroke="#2c7bc0" stroke-width="0.9" fill="none"/>
<path d="M633.30 160.50V166.50M630.90 160.50H635.70M630.90 166.50H635.70" stroke="#2c7bc0" stroke-width="0.9" fill="none"/>
<path d="M636.40 160.00V166.00M634.00 160.00H638.80M634.00 166.00H638.80" stroke="#2c7bc0" stroke-width="0.9" fill="none"/>
<path d="M639.60 159.50V165.50M637.20 159.50H642.00M637.20 165.50H642.00" stroke="#2c7bc0" stroke-width="0.9" fill="none"/>
<path d="M642.80 159.50V165.50M640.40 159.50H645.20M640.40 165.50H645.20" stroke="#2c7bc0" stroke-width="0.9" fill="none"/>
<path d="M645.90 159.50V165.50M643.50 159.50H648.30M643.50 165.50H648.30" stroke="#2c7bc0" stroke-width="0.9" fill="none"/>
<path d="M649.10 159.50V165.50M646.70 159.50H651.50M646.70 165.50H651.50" stroke="#2c7bc0" stroke-width="0.9" fill="none"/>
<path d="M652.20 160.00V166.00M649.80 160.00H654.60M649.80 166.00H654.60" stroke="#2c7bc0" stroke-width="0.9" fill="none"/>
<path d="M655.60 160.00V166.00M653.20 160.00H658.00M653.20 166.00H658.00" stroke="#2c7bc0" stroke-width="0.9" fill="none"/>
<path d="M663.40 160.20V166.20M661.00 160.20H665.80M661.00 166.20H665.80" stroke="#2c7bc0" stroke-width="0.9" fill="none"/>
<path d="M586.60 184.50 L598.90 181.50 L604.10 180.00 L609.60 176.00 L614.60 170.50 L618.00 167.00 L620.90 165.50 L623.80 165.00 L627.00 164.50 L630.10 164.00 L633.30 163.50 L636.40 163.00 L639.60 162.50 L642.80 162.50 L645.90 162.50 L649.10 162.50 L652.20 163.00 L655.60 163.00 L663.40 163.20" stroke="#2c7bc0" stroke-width="1.1" fill="none" stroke-linejoin="round"/>
<circle cx="586.60" cy="184.50" r="1.75" fill="#2c7bc0"/>
<circle cx="598.90" cy="181.50" r="1.75" fill="#2c7bc0"/>
<circle cx="604.10" cy="180.00" r="1.75" fill="#2c7bc0"/>
<circle cx="609.60" cy="176.00" r="1.75" fill="#2c7bc0"/>
<circle cx="614.60" cy="170.50" r="1.75" fill="#2c7bc0"/>
<circle cx="618.00" cy="167.00" r="1.75" fill="#2c7bc0"/>
<circle cx="620.90" cy="165.50" r="1.75" fill="#2c7bc0"/>
<circle cx="623.80" cy="165.00" r="1.75" fill="#2c7bc0"/>
<circle cx="627.00" cy="164.50" r="1.75" fill="#2c7bc0"/>
<circle cx="630.10" cy="164.00" r="1.75" fill="#2c7bc0"/>
<circle cx="633.30" cy="163.50" r="1.75" fill="#2c7bc0"/>
<circle cx="636.40" cy="163.00" r="1.75" fill="#2c7bc0"/>
<circle cx="639.60" cy="162.50" r="1.75" fill="#2c7bc0"/>
<circle cx="642.80" cy="162.50" r="1.75" fill="#2c7bc0"/>
<circle cx="645.90" cy="162.50" r="1.75" fill="#2c7bc0"/>
<circle cx="649.10" cy="162.50" r="1.75" fill="#2c7bc0"/>
<circle cx="652.20" cy="163.00" r="1.75" fill="#2c7bc0"/>
<circle cx="655.60" cy="163.00" r="1.75" fill="#2c7bc0"/>
<circle cx="663.40" cy="163.20" r="1.75" fill="#2c7bc0"/>
<path d="M586.60 218.30V226.30M584.20 218.30H589.00M584.20 226.30H589.00" stroke="#8fcae3" stroke-width="0.9" fill="none"/>
<path d="M598.90 221.90V224.90M596.50 221.90H601.30M596.50 224.90H601.30" stroke="#8fcae3" stroke-width="0.9" fill="none"/>
<path d="M604.10 222.20V225.20M601.70 222.20H606.50M601.70 225.20H606.50" stroke="#8fcae3" stroke-width="0.9" fill="none"/>
<path d="M609.60 221.10V224.10M607.20 221.10H612.00M607.20 224.10H612.00" stroke="#8fcae3" stroke-width="0.9" fill="none"/>
<path d="M614.60 221.50V224.50M612.20 221.50H617.00M612.20 224.50H617.00" stroke="#8fcae3" stroke-width="0.9" fill="none"/>
<path d="M618.00 218.90V221.90M615.60 218.90H620.40M615.60 221.90H620.40" stroke="#8fcae3" stroke-width="0.9" fill="none"/>
<path d="M620.90 219.50V222.50M618.50 219.50H623.30M618.50 222.50H623.30" stroke="#8fcae3" stroke-width="0.9" fill="none"/>
<path d="M623.80 219.50V222.50M621.40 219.50H626.20M621.40 222.50H626.20" stroke="#8fcae3" stroke-width="0.9" fill="none"/>
<path d="M627.00 220.20V223.20M624.60 220.20H629.40M624.60 223.20H629.40" stroke="#8fcae3" stroke-width="0.9" fill="none"/>
<path d="M630.10 220.80V223.80M627.70 220.80H632.50M627.70 223.80H632.50" stroke="#8fcae3" stroke-width="0.9" fill="none"/>
<path d="M633.30 219.50V222.50M630.90 219.50H635.70M630.90 222.50H635.70" stroke="#8fcae3" stroke-width="0.9" fill="none"/>
<path d="M636.40 218.90V221.90M634.00 218.90H638.80M634.00 221.90H638.80" stroke="#8fcae3" stroke-width="0.9" fill="none"/>
<path d="M639.60 218.20V221.20M637.20 218.20H642.00M637.20 221.20H642.00" stroke="#8fcae3" stroke-width="0.9" fill="none"/>
<path d="M642.80 218.20V221.20M640.40 218.20H645.20M640.40 221.20H645.20" stroke="#8fcae3" stroke-width="0.9" fill="none"/>
<path d="M645.90 218.20V221.20M643.50 218.20H648.30M643.50 221.20H648.30" stroke="#8fcae3" stroke-width="0.9" fill="none"/>
<path d="M649.10 217.50V220.50M646.70 217.50H651.50M646.70 220.50H651.50" stroke="#8fcae3" stroke-width="0.9" fill="none"/>
<path d="M652.20 218.20V221.20M649.80 218.20H654.60M649.80 221.20H654.60" stroke="#8fcae3" stroke-width="0.9" fill="none"/>
<path d="M655.60 214.30V217.30M653.20 214.30H658.00M653.20 217.30H658.00" stroke="#8fcae3" stroke-width="0.9" fill="none"/>
<path d="M663.40 213.00V216.00M661.00 213.00H665.80M661.00 216.00H665.80" stroke="#8fcae3" stroke-width="0.9" fill="none"/>
<path d="M586.60 222.30 L598.90 223.40 L604.10 223.70 L609.60 222.60 L614.60 223.00 L618.00 220.40 L620.90 221.00 L623.80 221.00 L627.00 221.70 L630.10 222.30 L633.30 221.00 L636.40 220.40 L639.60 219.70 L642.80 219.70 L645.90 219.70 L649.10 219.00 L652.20 219.70 L655.60 215.80 L663.40 214.50" stroke="#8fcae3" stroke-width="1.1" fill="none" stroke-linejoin="round"/>
<circle cx="586.60" cy="222.30" r="1.75" fill="#8fcae3"/>
<circle cx="598.90" cy="223.40" r="1.75" fill="#8fcae3"/>
<circle cx="604.10" cy="223.70" r="1.75" fill="#8fcae3"/>
<circle cx="609.60" cy="222.60" r="1.75" fill="#8fcae3"/>
<circle cx="614.60" cy="223.00" r="1.75" fill="#8fcae3"/>
<circle cx="618.00" cy="220.40" r="1.75" fill="#8fcae3"/>
<circle cx="620.90" cy="221.00" r="1.75" fill="#8fcae3"/>
<circle cx="623.80" cy="221.00" r="1.75" fill="#8fcae3"/>
<circle cx="627.00" cy="221.70" r="1.75" fill="#8fcae3"/>
<circle cx="630.10" cy="222.30" r="1.75" fill="#8fcae3"/>
<circle cx="633.30" cy="221.00" r="1.75" fill="#8fcae3"/>
<circle cx="636.40" cy="220.40" r="1.75" fill="#8fcae3"/>
<circle cx="639.60" cy="219.70" r="1.75" fill="#8fcae3"/>
<circle cx="642.80" cy="219.70" r="1.75" fill="#8fcae3"/>
<circle cx="645.90" cy="219.70" r="1.75" fill="#8fcae3"/>
<circle cx="649.10" cy="219.00" r="1.75" fill="#8fcae3"/>
<circle cx="652.20" cy="219.70" r="1.75" fill="#8fcae3"/>
<circle cx="655.60" cy="215.80" r="1.75" fill="#8fcae3"/>
<circle cx="663.40" cy="214.50" r="1.75" fill="#8fcae3"/>
<path d="M586.60 171.90V176.90M584.20 171.90H589.00M584.20 176.90H589.00" stroke="#c8202f" stroke-width="0.9" fill="none"/>
<path d="M598.90 167.30V171.70M596.50 167.30H601.30M596.50 171.70H601.30" stroke="#c8202f" stroke-width="0.9" fill="none"/>
<path d="M604.10 165.30V169.70M601.70 165.30H606.50M601.70 169.70H606.50" stroke="#c8202f" stroke-width="0.9" fill="none"/>
<path d="M609.60 160.30V164.70M607.20 160.30H612.00M607.20 164.70H612.00" stroke="#c8202f" stroke-width="0.9" fill="none"/>
<path d="M614.60 154.80V159.20M612.20 154.80H617.00M612.20 159.20H617.00" stroke="#c8202f" stroke-width="0.9" fill="none"/>
<path d="M618.00 151.80V156.20M615.60 151.80H620.40M615.60 156.20H620.40" stroke="#c8202f" stroke-width="0.9" fill="none"/>
<path d="M620.90 151.80V156.20M618.50 151.80H623.30M618.50 156.20H623.30" stroke="#c8202f" stroke-width="0.9" fill="none"/>
<path d="M623.80 151.30V155.70M621.40 151.30H626.20M621.40 155.70H626.20" stroke="#c8202f" stroke-width="0.9" fill="none"/>
<path d="M627.00 150.40V154.80M624.60 150.40H629.40M624.60 154.80H629.40" stroke="#c8202f" stroke-width="0.9" fill="none"/>
<path d="M630.10 149.20V153.60M627.70 149.20H632.50M627.70 153.60H632.50" stroke="#c8202f" stroke-width="0.9" fill="none"/>
<path d="M633.30 147.80V152.20M630.90 147.80H635.70M630.90 152.20H635.70" stroke="#c8202f" stroke-width="0.9" fill="none"/>
<path d="M636.40 147.10V151.50M634.00 147.10H638.80M634.00 151.50H638.80" stroke="#c8202f" stroke-width="0.9" fill="none"/>
<path d="M639.60 146.90V151.30M637.20 146.90H642.00M637.20 151.30H642.00" stroke="#c8202f" stroke-width="0.9" fill="none"/>
<path d="M642.80 147.40V151.80M640.40 147.40H645.20M640.40 151.80H645.20" stroke="#c8202f" stroke-width="0.9" fill="none"/>
<path d="M645.90 147.40V151.80M643.50 147.40H648.30M643.50 151.80H648.30" stroke="#c8202f" stroke-width="0.9" fill="none"/>
<path d="M649.10 148.00V152.40M646.70 148.00H651.50M646.70 152.40H651.50" stroke="#c8202f" stroke-width="0.9" fill="none"/>
<path d="M652.20 149.60V154.00M649.80 149.60H654.60M649.80 154.00H654.60" stroke="#c8202f" stroke-width="0.9" fill="none"/>
<path d="M655.60 150.10V154.50M653.20 150.10H658.00M653.20 154.50H658.00" stroke="#c8202f" stroke-width="0.9" fill="none"/>
<path d="M663.40 150.40V155.40M661.00 150.40H665.80M661.00 155.40H665.80" stroke="#c8202f" stroke-width="0.9" fill="none"/>
<path d="M586.60 174.40 L598.90 169.50 L604.10 167.50 L609.60 162.50 L614.60 157.00 L618.00 154.00 L620.90 154.00 L623.80 153.50 L627.00 152.60 L630.10 151.40 L633.30 150.00 L636.40 149.30 L639.60 149.10 L642.80 149.60 L645.90 149.60 L649.10 150.20 L652.20 151.80 L655.60 152.30 L663.40 152.90" stroke="#c8202f" stroke-width="1.1" fill="none" stroke-linejoin="round"/>
<circle cx="586.60" cy="174.40" r="1.75" fill="#c8202f"/>
<circle cx="598.90" cy="169.50" r="1.75" fill="#c8202f"/>
<circle cx="604.10" cy="167.50" r="1.75" fill="#c8202f"/>
<circle cx="609.60" cy="162.50" r="1.75" fill="#c8202f"/>
<circle cx="614.60" cy="157.00" r="1.75" fill="#c8202f"/>
<circle cx="618.00" cy="154.00" r="1.75" fill="#c8202f"/>
<circle cx="620.90" cy="154.00" r="1.75" fill="#c8202f"/>
<circle cx="623.80" cy="153.50" r="1.75" fill="#c8202f"/>
<circle cx="627.00" cy="152.60" r="1.75" fill="#c8202f"/>
<circle cx="630.10" cy="151.40" r="1.75" fill="#c8202f"/>
<circle cx="633.30" cy="150.00" r="1.75" fill="#c8202f"/>
<circle cx="636.40" cy="149.30" r="1.75" fill="#c8202f"/>
<circle cx="639.60" cy="149.10" r="1.75" fill="#c8202f"/>
<circle cx="642.80" cy="149.60" r="1.75" fill="#c8202f"/>
<circle cx="645.90" cy="149.60" r="1.75" fill="#c8202f"/>
<circle cx="649.10" cy="150.20" r="1.75" fill="#c8202f"/>
<circle cx="652.20" cy="151.80" r="1.75" fill="#c8202f"/>
<circle cx="655.60" cy="152.30" r="1.75" fill="#c8202f"/>
<circle cx="663.40" cy="152.90" r="1.75" fill="#c8202f"/>
<line x1="212.1" y1="7.4" x2="226.2" y2="7.4" stroke="#1b3b86" stroke-width="1.05"/>
<circle cx="219.4" cy="7.4" r="1.7" fill="#1b3b86"/>
<text x="228.2" y="11.10" font-size="8" font-family="Liberation Serif" font-weight="bold">Development</text>
<line x1="212.1" y1="16.3" x2="226.2" y2="16.3" stroke="#2c7bc0" stroke-width="1.05"/>
<circle cx="219.4" cy="16.3" r="1.7" fill="#2c7bc0"/>
<text x="228.2" y="20.00" font-size="8" font-family="Liberation Serif" font-weight="bold">Attenuation</text>
<line x1="212.1" y1="25.3" x2="226.2" y2="25.3" stroke="#8fcae3" stroke-width="1.05"/>
<circle cx="219.4" cy="25.3" r="1.7" fill="#8fcae3"/>
<text x="228.2" y="29.00" font-size="8" font-family="Liberation Serif" font-weight="bold">Dissipation</text>
<line x1="212.1" y1="34.3" x2="226.2" y2="34.3" stroke="#c8202f" stroke-width="1.05"/>
<circle cx="219.4" cy="34.3" r="1.7" fill="#c8202f"/>
<text x="228.2" y="38.00" font-size="8" font-family="Liberation Serif" font-weight="bold">Mature</text>
</svg>
</body></html>
